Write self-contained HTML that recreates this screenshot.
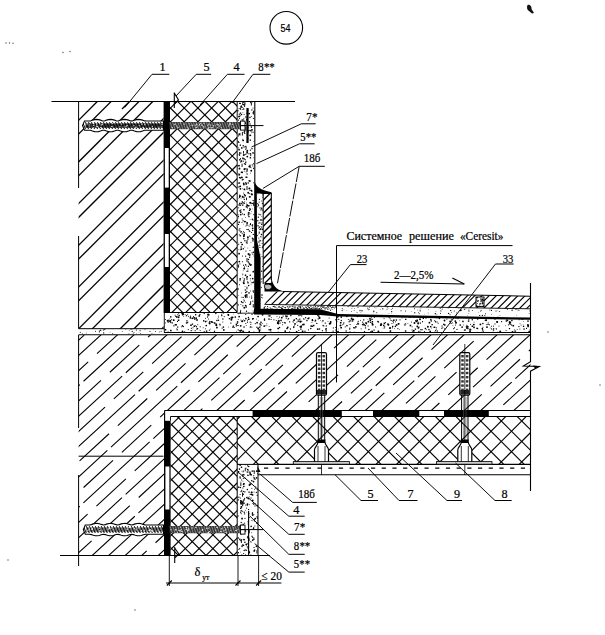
<!DOCTYPE html>
<html><head><meta charset="utf-8"><title>Detail</title>
<style>html,body{margin:0;padding:0;background:#fff;width:605px;height:635px;overflow:hidden;font-family:"Liberation Serif",serif}svg{display:block}text{stroke:#000;stroke-width:0.22px}</style>
</head><body><svg width="605" height="635" viewBox="0 0 605 635"><defs><clipPath id="c1"><polygon points="78.6,101.5 163.6,101.5 163.6,328.7 78.6,328.7"/></clipPath><clipPath id="c2"><polygon points="78.6,101.5 163.6,101.5 163.6,328.7 78.6,328.7"/></clipPath><clipPath id="c3"><polygon points="78.6,329.2 164.0,329.2 164.0,334.0 78.6,334.0"/></clipPath><clipPath id="c4"><polygon points="169.5,101.5 237.0,101.5 237.0,312.5 169.5,312.5"/></clipPath><clipPath id="c5"><polygon points="169.5,101.5 237.0,101.5 237.0,312.5 169.5,312.5"/></clipPath><clipPath id="c6"><polygon points="237.5,101.5 254.0,101.5 254.0,313.5 237.5,313.5"/></clipPath><clipPath id="c7"><polygon points="164.3,312.5 254.0,313.8 530.0,319.5 530.0,332.6 164.3,332.6"/></clipPath><clipPath id="c8"><polygon points="263.0,304.4 530.0,308.8 530.0,317.6 263.0,310.0"/></clipPath><clipPath id="c9"><polygon points="271.0,291.3 530.0,296.2 530.0,308.8 264.5,304.4"/></clipPath><clipPath id="c10"><polygon points="263.0,305.4 335.0,306.2 335.0,309.6 263.0,309.0"/></clipPath><clipPath id="c11"><polygon points="257.0,193.0 263.2,193.0 263.2,304.0 260.6,304.0 260.6,258.0 257.0,240.0"/></clipPath><clipPath id="c12"><polygon points="263.2,193.0 271.3,193.0 271.3,283.0 263.2,283.0"/></clipPath><clipPath id="c13"><polygon points="78.6,335.0 530.5,335.0 530.5,410.5 164.6,410.5 164.6,555.5 78.6,555.5"/></clipPath><clipPath id="c14"><polygon points="170.5,416.5 237.2,416.5 237.2,555.5 170.5,555.5"/></clipPath><clipPath id="c15"><polygon points="170.5,416.5 237.2,416.5 237.2,555.5 170.5,555.5"/></clipPath><clipPath id="c16"><polygon points="237.2,416.5 530.5,416.5 530.5,464.4 237.2,464.4"/></clipPath><clipPath id="c17"><polygon points="237.2,416.5 530.5,416.5 530.5,464.4 237.2,464.4"/></clipPath><clipPath id="c18"><polygon points="237.5,464.4 258.0,464.4 258.0,555.2 237.5,555.2"/></clipPath><clipPath id="c19"><polygon points="82.5,125.6 84.5,121.0 86.5,121.0 88.5,121.0 90.5,121.0 92.5,120.1 94.5,119.6 96.5,119.4 98.5,119.6 100.5,120.1 102.5,121.0 104.5,121.0 106.5,120.1 108.5,119.6 110.5,119.4 112.5,119.6 114.5,120.1 116.5,121.0 118.5,121.0 120.5,120.1 122.5,119.6 124.5,119.4 126.5,119.6 128.5,120.1 130.5,120.9 132.5,121.0 134.5,120.1 136.5,119.6 138.5,119.4 140.5,119.6 142.5,120.1 144.5,120.9 146.5,121.0 148.5,121.0 150.5,121.0 152.5,121.0 154.5,121.0 156.5,121.0 158.5,121.0 160.5,121.0 162.5,121.0 163.5,121.0 163.5,130.2 162.5,130.2 160.5,130.2 158.5,130.2 156.5,130.2 154.5,130.2 152.5,130.2 150.5,130.2 148.5,130.2 146.5,130.2 144.5,130.3 142.5,131.1 140.5,131.6 138.5,131.8 136.5,131.6 134.5,131.1 132.5,130.2 130.5,130.3 128.5,131.1 126.5,131.6 124.5,131.8 122.5,131.6 120.5,131.1 118.5,130.2 116.5,130.2 114.5,131.1 112.5,131.6 110.5,131.8 108.5,131.6 106.5,131.1 104.5,130.2 102.5,130.2 100.5,131.1 98.5,131.6 96.5,131.8 94.5,131.6 92.5,131.1 90.5,130.2 88.5,130.2 86.5,130.2 84.5,130.2"/></clipPath><clipPath id="c20"><polygon points="83.3,529.6 85.3,525.0 87.3,525.0 89.3,525.0 91.3,524.6 93.3,523.9 95.3,523.5 97.3,523.4 99.3,523.7 101.3,524.4 103.3,525.0 105.3,524.6 107.3,523.9 109.3,523.5 111.3,523.4 113.3,523.7 115.3,524.4 117.3,525.0 119.3,524.6 121.3,523.9 123.3,523.5 125.3,523.4 127.3,523.7 129.3,524.4 131.3,525.0 133.3,524.6 135.3,523.9 137.3,523.5 139.3,523.4 141.3,523.7 143.3,524.4 145.3,525.0 147.3,525.0 149.3,525.0 151.3,525.0 153.3,525.0 155.3,525.0 157.3,525.0 159.3,525.0 161.3,525.0 163.3,525.0 163.5,525.0 163.5,534.2 163.3,534.2 161.3,534.2 159.3,534.2 157.3,534.2 155.3,534.2 153.3,534.2 151.3,534.2 149.3,534.2 147.3,534.2 145.3,534.2 143.3,534.8 141.3,535.5 139.3,535.8 137.3,535.7 135.3,535.3 133.3,534.6 131.3,534.2 129.3,534.8 127.3,535.5 125.3,535.8 123.3,535.7 121.3,535.3 119.3,534.6 117.3,534.2 115.3,534.8 113.3,535.5 111.3,535.8 109.3,535.7 107.3,535.3 105.3,534.6 103.3,534.2 101.3,534.8 99.3,535.5 97.3,535.8 95.3,535.7 93.3,535.3 91.3,534.6 89.3,534.2 87.3,534.2 85.3,534.2"/></clipPath><clipPath id="c21"><polygon points="476.0,297.0 484.0,297.0 484.0,306.6 476.0,306.6"/></clipPath></defs><rect width="605" height="635" fill="#fff"/><circle cx="286.3" cy="27.8" r="16.3" fill="none" stroke="#000" stroke-width="1.1"/><text x="0" y="31.6" font-family="Liberation Sans, sans-serif" font-size="11.5" text-anchor="middle" transform="translate(285.6 0) scale(0.78 1)">54</text><path d="M527.5,5 C530,4 532,7 531.5,9 L534,13 L532,13.5 L529,11 C527,10 526.5,7 527.5,5Z" fill="#111"/><g clip-path="url(#c1)" stroke="#000" stroke-width="1.3"><line x1="-173.6" y1="330.7" x2="57.6" y2="99.5"/><line x1="-131.9" y1="330.7" x2="99.3" y2="99.5"/><line x1="-90.2" y1="330.7" x2="141.0" y2="99.5"/><line x1="-48.5" y1="330.7" x2="182.7" y2="99.5"/><line x1="-6.8" y1="330.7" x2="224.4" y2="99.5"/><line x1="34.9" y1="330.7" x2="266.1" y2="99.5"/><line x1="76.6" y1="330.7" x2="307.8" y2="99.5"/><line x1="118.3" y1="330.7" x2="349.5" y2="99.5"/><line x1="160.0" y1="330.7" x2="391.2" y2="99.5"/><line x1="201.7" y1="330.7" x2="432.9" y2="99.5"/></g><g clip-path="url(#c2)" stroke="#000" stroke-width="1.3"><line x1="-159.8" y1="330.7" x2="71.4" y2="99.5"/><line x1="-118.1" y1="330.7" x2="113.1" y2="99.5"/><line x1="-76.4" y1="330.7" x2="154.8" y2="99.5"/><line x1="-34.7" y1="330.7" x2="196.5" y2="99.5"/><line x1="7.0" y1="330.7" x2="238.2" y2="99.5"/><line x1="48.7" y1="330.7" x2="279.9" y2="99.5"/><line x1="90.4" y1="330.7" x2="321.6" y2="99.5"/><line x1="132.1" y1="330.7" x2="363.3" y2="99.5"/><line x1="173.8" y1="330.7" x2="405.0" y2="99.5"/></g><line x1="129.5" y1="101.5" x2="122.0" y2="109.0" stroke="#000" stroke-width="1.2" /><line x1="78.6" y1="101.5" x2="78.6" y2="188.0" stroke="#000" stroke-width="1.0" /><line x1="78.6" y1="236.0" x2="78.6" y2="328.7" stroke="#000" stroke-width="1.0" /><line x1="78.6" y1="328.7" x2="164.0" y2="328.7" stroke="#000" stroke-width="1.0" /><g clip-path="url(#c3)" fill="#000"><rect x="98.9" y="331.8" width="0.7" height="0.7"/><rect x="132.0" y="329.5" width="0.5" height="0.5"/><circle cx="100.7" cy="330.3" r="0.70"/><circle cx="150.0" cy="331.5" r="0.56"/><rect x="132.8" y="333.4" width="0.8" height="0.8"/><rect x="135.9" y="329.5" width="1.0" height="1.0"/><circle cx="104.3" cy="329.3" r="0.65"/><rect x="140.0" y="333.4" width="0.9" height="0.9"/><rect x="112.3" y="333.0" width="0.8" height="0.8"/><circle cx="153.7" cy="329.7" r="0.35"/><circle cx="161.1" cy="331.3" r="0.55"/><rect x="121.9" y="331.1" width="0.7" height="0.7"/><rect x="128.5" y="333.5" width="0.9" height="0.9"/><circle cx="151.7" cy="334.0" r="0.57"/><rect x="152.1" y="333.8" width="1.1" height="1.1"/><rect x="139.6" y="330.2" width="1.0" height="1.0"/><rect x="102.9" y="329.5" width="1.0" height="1.0"/><circle cx="86.2" cy="333.0" r="0.46"/><circle cx="103.7" cy="332.9" r="0.65"/><circle cx="131.1" cy="329.4" r="0.59"/><rect x="153.8" y="333.9" width="0.8" height="0.8"/><circle cx="105.0" cy="329.6" r="0.54"/><circle cx="95.5" cy="331.2" r="0.54"/><rect x="82.2" y="333.4" width="0.7" height="0.7"/><rect x="155.2" y="331.0" width="0.8" height="0.8"/><rect x="133.6" y="332.1" width="0.8" height="0.8"/><rect x="158.9" y="331.6" width="0.8" height="0.8"/><rect x="98.9" y="330.6" width="1.1" height="1.1"/><rect x="125.4" y="329.3" width="0.7" height="0.7"/><circle cx="80.3" cy="332.2" r="0.55"/><circle cx="132.2" cy="331.4" r="0.57"/><circle cx="139.0" cy="332.7" r="0.31"/><circle cx="136.3" cy="333.8" r="0.40"/><circle cx="129.2" cy="330.7" r="0.45"/><circle cx="110.1" cy="332.1" r="0.42"/><rect x="144.6" y="329.3" width="0.8" height="0.8"/></g><g clip-path="url(#c4)" stroke="#000" stroke-width="1.15"><line x1="-49.7" y1="314.5" x2="165.3" y2="99.5"/><line x1="-36.0" y1="314.5" x2="179.0" y2="99.5"/><line x1="-22.3" y1="314.5" x2="192.7" y2="99.5"/><line x1="-8.6" y1="314.5" x2="206.4" y2="99.5"/><line x1="5.2" y1="314.5" x2="220.2" y2="99.5"/><line x1="18.9" y1="314.5" x2="233.9" y2="99.5"/><line x1="32.6" y1="314.5" x2="247.6" y2="99.5"/><line x1="46.4" y1="314.5" x2="261.4" y2="99.5"/><line x1="60.1" y1="314.5" x2="275.1" y2="99.5"/><line x1="73.8" y1="314.5" x2="288.8" y2="99.5"/><line x1="87.6" y1="314.5" x2="302.6" y2="99.5"/><line x1="101.3" y1="314.5" x2="316.3" y2="99.5"/><line x1="115.0" y1="314.5" x2="330.0" y2="99.5"/><line x1="128.8" y1="314.5" x2="343.8" y2="99.5"/><line x1="142.5" y1="314.5" x2="357.5" y2="99.5"/><line x1="156.2" y1="314.5" x2="371.2" y2="99.5"/><line x1="169.9" y1="314.5" x2="384.9" y2="99.5"/><line x1="183.7" y1="314.5" x2="398.7" y2="99.5"/><line x1="197.4" y1="314.5" x2="412.4" y2="99.5"/><line x1="211.1" y1="314.5" x2="426.1" y2="99.5"/><line x1="224.9" y1="314.5" x2="439.9" y2="99.5"/><line x1="238.6" y1="314.5" x2="453.6" y2="99.5"/></g><g clip-path="url(#c5)" stroke="#000" stroke-width="1.15"><line x1="171.0" y1="314.5" x2="-44.0" y2="99.5"/><line x1="184.7" y1="314.5" x2="-30.3" y2="99.5"/><line x1="198.5" y1="314.5" x2="-16.5" y2="99.5"/><line x1="212.2" y1="314.5" x2="-2.8" y2="99.5"/><line x1="225.9" y1="314.5" x2="10.9" y2="99.5"/><line x1="239.7" y1="314.5" x2="24.7" y2="99.5"/><line x1="253.4" y1="314.5" x2="38.4" y2="99.5"/><line x1="267.1" y1="314.5" x2="52.1" y2="99.5"/><line x1="280.8" y1="314.5" x2="65.8" y2="99.5"/><line x1="294.6" y1="314.5" x2="79.6" y2="99.5"/><line x1="308.3" y1="314.5" x2="93.3" y2="99.5"/><line x1="322.0" y1="314.5" x2="107.0" y2="99.5"/><line x1="335.8" y1="314.5" x2="120.8" y2="99.5"/><line x1="349.5" y1="314.5" x2="134.5" y2="99.5"/><line x1="363.2" y1="314.5" x2="148.2" y2="99.5"/><line x1="376.9" y1="314.5" x2="161.9" y2="99.5"/><line x1="390.7" y1="314.5" x2="175.7" y2="99.5"/><line x1="404.4" y1="314.5" x2="189.4" y2="99.5"/><line x1="418.1" y1="314.5" x2="203.1" y2="99.5"/><line x1="431.9" y1="314.5" x2="216.9" y2="99.5"/><line x1="445.6" y1="314.5" x2="230.6" y2="99.5"/><line x1="459.3" y1="314.5" x2="244.3" y2="99.5"/></g><g clip-path="url(#c6)" fill="#000"><rect x="247.8" y="258.8" width="1.3" height="1.3"/><circle cx="249.7" cy="297.0" r="0.42"/><circle cx="253.1" cy="239.1" r="0.90"/><rect x="245.2" y="153.8" width="1.1" height="1.1"/><rect x="237.7" y="147.4" width="0.9" height="0.9"/><circle cx="250.1" cy="135.3" r="0.84"/><rect x="247.7" y="128.4" width="0.6" height="0.6"/><rect x="241.0" y="147.2" width="1.5" height="1.5"/><rect x="242.3" y="305.3" width="1.1" height="1.1"/><rect x="240.9" y="301.0" width="1.2" height="1.2"/><circle cx="252.2" cy="164.8" r="0.60"/><rect x="239.9" y="115.3" width="0.9" height="0.9"/><circle cx="237.6" cy="245.2" r="0.59"/><circle cx="251.0" cy="203.4" r="0.57"/><circle cx="249.1" cy="113.6" r="0.94"/><rect x="249.9" y="280.6" width="0.7" height="0.7"/><circle cx="243.5" cy="224.1" r="0.40"/><rect x="240.5" y="304.0" width="0.8" height="0.8"/><circle cx="252.8" cy="301.2" r="0.59"/><rect x="246.2" y="265.9" width="0.7" height="0.7"/><rect x="250.7" y="283.8" width="0.7" height="0.7"/><rect x="239.0" y="173.7" width="1.2" height="1.2"/><circle cx="243.1" cy="297.4" r="0.70"/><circle cx="242.7" cy="139.1" r="0.44"/><circle cx="248.9" cy="312.8" r="0.49"/><circle cx="253.8" cy="214.6" r="0.62"/><circle cx="247.3" cy="276.7" r="0.65"/><circle cx="238.4" cy="295.7" r="0.42"/><rect x="251.3" y="129.2" width="1.3" height="1.3"/><circle cx="247.9" cy="268.6" r="0.46"/><circle cx="240.0" cy="280.6" r="0.56"/><circle cx="254.0" cy="282.2" r="0.94"/><circle cx="245.6" cy="256.2" r="0.66"/><rect x="244.2" y="132.6" width="1.0" height="1.0"/><circle cx="253.3" cy="234.4" r="0.67"/><rect x="239.0" y="159.2" width="1.3" height="1.3"/><rect x="243.5" y="268.1" width="1.3" height="1.3"/><rect x="248.5" y="262.5" width="1.0" height="1.0"/><rect x="242.1" y="204.5" width="1.3" height="1.3"/><rect x="242.3" y="302.0" width="1.2" height="1.2"/><rect x="237.7" y="217.5" width="0.9" height="0.9"/><rect x="245.1" y="274.6" width="1.2" height="1.2"/><rect x="243.2" y="238.0" width="1.3" height="1.3"/><rect x="243.3" y="280.2" width="1.4" height="1.4"/><rect x="253.6" y="304.3" width="1.1" height="1.1"/><circle cx="240.2" cy="278.9" r="0.92"/><circle cx="248.9" cy="254.1" r="0.80"/><circle cx="250.4" cy="224.6" r="0.77"/><rect x="247.8" y="265.7" width="1.2" height="1.2"/><rect x="238.0" y="135.4" width="1.0" height="1.0"/><circle cx="241.1" cy="246.9" r="0.75"/><circle cx="245.3" cy="149.5" r="0.43"/><circle cx="242.7" cy="140.0" r="0.51"/><rect x="245.2" y="182.1" width="1.2" height="1.2"/><circle cx="241.4" cy="293.0" r="0.40"/><rect x="242.1" y="188.4" width="0.7" height="0.7"/><circle cx="243.7" cy="109.1" r="0.74"/><rect x="246.5" y="173.4" width="1.2" height="1.2"/><rect x="251.0" y="190.3" width="1.4" height="1.4"/><rect x="243.6" y="131.6" width="1.2" height="1.2"/><circle cx="253.3" cy="306.7" r="0.73"/><rect x="252.2" y="101.7" width="0.7" height="0.7"/><rect x="247.7" y="131.3" width="1.2" height="1.2"/><circle cx="243.7" cy="193.0" r="0.52"/><rect x="253.5" y="182.0" width="1.5" height="1.5"/><circle cx="247.3" cy="156.6" r="0.94"/><circle cx="244.4" cy="169.2" r="0.94"/><rect x="242.2" y="202.6" width="0.7" height="0.7"/><rect x="244.8" y="163.6" width="1.3" height="1.3"/><rect x="237.7" y="214.4" width="0.9" height="0.9"/><circle cx="250.4" cy="153.6" r="0.55"/><circle cx="253.8" cy="163.7" r="0.73"/><circle cx="248.1" cy="229.5" r="0.81"/><circle cx="250.0" cy="165.2" r="0.69"/><circle cx="242.4" cy="213.8" r="0.66"/><circle cx="249.8" cy="226.8" r="0.42"/><rect x="245.0" y="295.8" width="1.4" height="1.4"/><rect x="237.7" y="266.5" width="1.0" height="1.0"/><rect x="249.2" y="235.5" width="1.1" height="1.1"/><circle cx="243.9" cy="184.6" r="0.87"/><rect x="242.4" y="277.5" width="0.7" height="0.7"/><rect x="249.0" y="193.3" width="0.9" height="0.9"/><rect x="252.5" y="131.7" width="1.1" height="1.1"/><rect x="245.7" y="171.6" width="0.8" height="0.8"/><rect x="250.9" y="116.0" width="0.8" height="0.8"/><rect x="250.6" y="242.2" width="0.7" height="0.7"/><circle cx="253.6" cy="313.1" r="0.79"/><rect x="251.4" y="148.0" width="1.2" height="1.2"/><rect x="249.3" y="130.0" width="0.9" height="0.9"/><circle cx="240.0" cy="230.9" r="0.63"/><circle cx="247.8" cy="110.7" r="0.46"/><rect x="238.7" y="113.7" width="1.1" height="1.1"/><circle cx="252.0" cy="130.0" r="0.64"/><circle cx="247.4" cy="205.3" r="0.92"/><rect x="238.4" y="249.3" width="0.8" height="0.8"/><rect x="245.8" y="294.5" width="1.1" height="1.1"/><rect x="241.8" y="218.5" width="0.9" height="0.9"/><circle cx="246.0" cy="129.9" r="0.53"/><rect x="249.7" y="139.5" width="1.3" height="1.3"/><circle cx="238.9" cy="243.1" r="0.45"/><circle cx="247.3" cy="152.1" r="0.88"/><rect x="242.8" y="270.4" width="0.7" height="0.7"/><rect x="238.4" y="133.5" width="1.5" height="1.5"/><rect x="241.2" y="126.1" width="1.5" height="1.5"/><circle cx="251.0" cy="131.1" r="0.74"/><circle cx="241.4" cy="172.2" r="0.74"/><rect x="243.9" y="130.4" width="1.4" height="1.4"/><rect x="250.8" y="193.4" width="1.4" height="1.4"/><circle cx="247.3" cy="223.0" r="0.81"/><circle cx="239.1" cy="108.5" r="0.51"/><circle cx="252.2" cy="203.5" r="0.82"/><circle cx="245.3" cy="290.1" r="0.74"/><circle cx="245.2" cy="122.6" r="0.49"/><circle cx="243.7" cy="183.3" r="0.88"/><circle cx="241.7" cy="160.3" r="0.49"/><rect x="241.4" y="203.7" width="0.7" height="0.7"/><rect x="243.6" y="300.3" width="1.2" height="1.2"/><rect x="245.3" y="301.9" width="0.7" height="0.7"/><circle cx="242.3" cy="244.5" r="0.80"/><circle cx="240.8" cy="106.8" r="0.53"/><circle cx="244.1" cy="307.9" r="0.60"/><rect x="245.2" y="161.5" width="1.3" height="1.3"/><rect x="240.2" y="152.5" width="1.2" height="1.2"/><circle cx="248.2" cy="192.8" r="0.94"/><circle cx="238.5" cy="266.7" r="0.63"/><circle cx="246.5" cy="311.3" r="0.69"/><circle cx="239.0" cy="116.6" r="0.89"/><circle cx="252.9" cy="112.9" r="0.53"/><circle cx="244.1" cy="114.2" r="0.54"/><rect x="242.5" y="112.4" width="0.7" height="0.7"/><rect x="240.5" y="209.3" width="1.0" height="1.0"/><rect x="238.9" y="168.0" width="0.7" height="0.7"/><circle cx="252.7" cy="228.3" r="0.87"/><rect x="237.8" y="215.9" width="1.1" height="1.1"/><rect x="243.7" y="234.0" width="1.3" height="1.3"/><circle cx="242.6" cy="196.7" r="0.85"/><rect x="239.4" y="167.6" width="0.7" height="0.7"/><circle cx="251.0" cy="167.8" r="0.47"/><rect x="241.5" y="119.4" width="1.0" height="1.0"/><circle cx="241.5" cy="114.5" r="0.79"/><circle cx="240.8" cy="162.1" r="0.61"/><rect x="244.4" y="168.1" width="1.3" height="1.3"/><rect x="252.3" y="240.2" width="1.3" height="1.3"/><rect x="244.8" y="274.7" width="1.2" height="1.2"/><rect x="249.5" y="250.1" width="0.9" height="0.9"/><circle cx="243.8" cy="129.1" r="0.44"/><circle cx="241.8" cy="244.8" r="0.56"/><circle cx="250.1" cy="219.6" r="0.42"/><rect x="239.6" y="177.2" width="1.4" height="1.4"/><circle cx="247.6" cy="150.5" r="0.64"/><rect x="243.0" y="104.1" width="1.2" height="1.2"/><circle cx="249.5" cy="121.7" r="0.69"/><rect x="249.2" y="196.1" width="1.5" height="1.5"/><circle cx="239.5" cy="168.7" r="0.90"/><rect x="244.7" y="195.1" width="1.3" height="1.3"/><circle cx="246.3" cy="307.1" r="0.73"/><rect x="250.9" y="190.4" width="0.7" height="0.7"/><rect x="238.0" y="223.8" width="1.1" height="1.1"/><circle cx="244.0" cy="147.2" r="0.55"/><circle cx="246.8" cy="177.2" r="0.81"/><rect x="243.3" y="154.1" width="1.5" height="1.5"/><circle cx="251.5" cy="232.5" r="0.62"/><circle cx="251.2" cy="205.4" r="0.42"/><circle cx="239.1" cy="253.7" r="0.90"/><rect x="250.7" y="170.2" width="1.2" height="1.2"/><circle cx="247.8" cy="271.2" r="0.61"/><circle cx="245.9" cy="225.9" r="0.50"/><circle cx="242.7" cy="107.2" r="0.57"/><rect x="245.4" y="250.6" width="1.0" height="1.0"/><rect x="251.0" y="297.4" width="1.2" height="1.2"/><rect x="246.4" y="270.8" width="1.0" height="1.0"/><circle cx="248.7" cy="212.2" r="0.56"/><rect x="238.9" y="176.9" width="1.2" height="1.2"/><circle cx="249.3" cy="166.5" r="0.91"/><rect x="249.3" y="116.8" width="1.3" height="1.3"/><rect x="253.3" y="291.7" width="1.2" height="1.2"/><rect x="249.7" y="231.0" width="0.8" height="0.8"/><rect x="252.3" y="152.2" width="1.5" height="1.5"/><circle cx="244.0" cy="102.1" r="0.61"/><rect x="248.3" y="292.2" width="1.4" height="1.4"/><rect x="243.9" y="124.6" width="1.2" height="1.2"/><circle cx="249.3" cy="180.8" r="0.89"/><rect x="242.5" y="158.2" width="1.2" height="1.2"/><circle cx="240.3" cy="235.7" r="0.82"/><rect x="238.5" y="221.5" width="1.4" height="1.4"/><rect x="249.5" y="189.9" width="1.0" height="1.0"/><rect x="252.4" y="165.6" width="0.9" height="0.9"/><circle cx="253.4" cy="141.2" r="0.42"/><circle cx="246.8" cy="229.4" r="0.50"/><rect x="247.3" y="238.5" width="1.2" height="1.2"/><rect x="238.5" y="204.3" width="1.4" height="1.4"/><rect x="242.8" y="281.8" width="1.2" height="1.2"/><circle cx="241.3" cy="249.2" r="0.86"/><circle cx="239.2" cy="142.5" r="0.49"/><rect x="240.0" y="232.0" width="0.7" height="0.7"/><rect x="249.6" y="274.6" width="1.3" height="1.3"/><rect x="252.7" y="304.4" width="1.2" height="1.2"/><circle cx="239.2" cy="123.3" r="0.44"/><rect x="243.7" y="198.7" width="1.2" height="1.2"/><circle cx="238.9" cy="187.0" r="0.70"/><rect x="239.4" y="228.1" width="1.0" height="1.0"/><circle cx="245.7" cy="305.6" r="0.92"/><circle cx="250.0" cy="254.4" r="0.56"/><rect x="245.4" y="176.6" width="1.3" height="1.3"/><rect x="243.8" y="163.1" width="1.1" height="1.1"/><circle cx="250.5" cy="223.5" r="0.56"/><circle cx="251.5" cy="211.6" r="0.43"/><circle cx="241.4" cy="242.7" r="0.44"/><rect x="239.1" y="202.7" width="1.5" height="1.5"/><circle cx="243.9" cy="299.5" r="0.45"/><circle cx="250.9" cy="102.6" r="0.82"/><circle cx="237.8" cy="154.7" r="0.65"/><rect x="246.0" y="112.8" width="0.8" height="0.8"/><circle cx="244.8" cy="201.5" r="0.45"/><circle cx="253.3" cy="247.2" r="0.68"/><rect x="244.0" y="266.5" width="1.0" height="1.0"/><circle cx="252.4" cy="238.3" r="0.75"/><rect x="237.9" y="264.6" width="1.0" height="1.0"/><rect x="251.1" y="295.6" width="1.0" height="1.0"/><rect x="250.0" y="290.6" width="0.8" height="0.8"/><circle cx="244.5" cy="307.6" r="0.95"/><circle cx="244.5" cy="158.9" r="0.66"/><circle cx="248.5" cy="127.6" r="0.49"/><rect x="238.7" y="182.3" width="1.4" height="1.4"/><rect x="240.7" y="105.4" width="1.4" height="1.4"/><rect x="247.4" y="130.4" width="0.8" height="0.8"/><circle cx="253.0" cy="108.1" r="0.50"/><rect x="241.9" y="261.3" width="1.0" height="1.0"/><rect x="240.0" y="211.4" width="1.5" height="1.5"/><circle cx="239.0" cy="125.0" r="0.75"/><rect x="243.6" y="202.8" width="1.2" height="1.2"/><rect x="241.5" y="222.1" width="0.9" height="0.9"/><rect x="249.6" y="129.8" width="1.1" height="1.1"/><rect x="237.6" y="265.0" width="1.0" height="1.0"/><rect x="247.6" y="269.6" width="0.7" height="0.7"/><circle cx="238.1" cy="183.2" r="0.59"/><rect x="242.4" y="196.9" width="1.2" height="1.2"/><rect x="243.6" y="213.9" width="1.3" height="1.3"/><circle cx="253.2" cy="311.0" r="0.57"/><rect x="252.9" y="117.9" width="1.0" height="1.0"/><circle cx="246.2" cy="183.9" r="0.91"/><circle cx="246.6" cy="277.4" r="0.48"/><circle cx="245.7" cy="221.5" r="0.51"/><circle cx="238.5" cy="120.1" r="0.59"/><rect x="253.5" y="157.3" width="0.9" height="0.9"/><rect x="249.7" y="157.1" width="1.4" height="1.4"/><circle cx="243.9" cy="234.8" r="0.54"/><circle cx="252.0" cy="194.5" r="0.89"/><rect x="239.8" y="112.5" width="1.3" height="1.3"/><circle cx="237.7" cy="110.7" r="0.85"/><circle cx="251.9" cy="109.9" r="0.72"/><circle cx="249.4" cy="231.1" r="0.74"/><rect x="253.2" y="125.0" width="0.7" height="0.7"/><rect x="239.0" y="115.7" width="1.0" height="1.0"/><rect x="252.2" y="254.3" width="0.7" height="0.7"/><circle cx="251.4" cy="127.1" r="0.81"/><rect x="242.4" y="101.8" width="1.3" height="1.3"/><circle cx="252.4" cy="200.2" r="0.49"/><circle cx="241.8" cy="302.2" r="0.51"/><rect x="243.3" y="118.3" width="1.0" height="1.0"/><circle cx="248.2" cy="138.6" r="0.48"/><rect x="248.8" y="196.3" width="1.1" height="1.1"/><rect x="239.9" y="158.3" width="1.1" height="1.1"/><circle cx="252.4" cy="219.2" r="0.76"/><circle cx="250.4" cy="278.7" r="0.56"/><circle cx="241.8" cy="177.3" r="0.89"/><circle cx="247.9" cy="237.3" r="0.93"/><rect x="250.2" y="172.8" width="0.7" height="0.7"/><rect x="251.4" y="225.0" width="0.7" height="0.7"/><circle cx="243.8" cy="236.4" r="0.80"/><circle cx="244.2" cy="171.3" r="0.45"/><circle cx="249.3" cy="188.5" r="0.88"/><rect x="242.5" y="139.7" width="1.5" height="1.5"/><circle cx="252.3" cy="208.9" r="0.46"/><circle cx="241.2" cy="107.2" r="0.71"/><rect x="239.3" y="210.0" width="1.5" height="1.5"/><circle cx="245.2" cy="123.3" r="0.82"/><rect x="246.4" y="119.2" width="1.5" height="1.5"/><rect x="244.7" y="159.2" width="1.1" height="1.1"/><rect x="244.6" y="145.9" width="1.1" height="1.1"/><circle cx="243.8" cy="235.9" r="0.91"/><circle cx="250.9" cy="213.7" r="0.48"/><rect x="253.0" y="200.3" width="1.0" height="1.0"/><rect x="247.0" y="207.5" width="0.9" height="0.9"/><rect x="241.7" y="201.3" width="1.3" height="1.3"/><rect x="239.7" y="144.5" width="1.3" height="1.3"/><circle cx="239.2" cy="313.0" r="0.47"/><rect x="239.0" y="196.1" width="1.2" height="1.2"/><rect x="240.2" y="249.6" width="0.7" height="0.7"/><rect x="241.7" y="177.0" width="0.7" height="0.7"/><rect x="239.5" y="263.5" width="0.9" height="0.9"/><rect x="248.0" y="205.1" width="1.4" height="1.4"/><circle cx="242.2" cy="172.3" r="0.88"/><circle cx="244.4" cy="189.4" r="0.94"/><circle cx="248.3" cy="262.0" r="0.80"/><rect x="253.1" y="167.7" width="1.4" height="1.4"/><circle cx="244.4" cy="279.1" r="0.77"/><rect x="249.6" y="208.6" width="1.3" height="1.3"/><circle cx="250.6" cy="135.3" r="0.67"/><circle cx="250.5" cy="265.1" r="0.86"/><circle cx="246.3" cy="203.0" r="0.47"/><rect x="253.6" y="282.3" width="0.8" height="0.8"/><circle cx="248.2" cy="183.1" r="0.75"/><rect x="242.0" y="103.6" width="1.2" height="1.2"/><circle cx="249.8" cy="208.3" r="0.64"/><rect x="249.6" y="180.5" width="1.2" height="1.2"/><circle cx="244.8" cy="247.0" r="0.43"/><circle cx="251.4" cy="132.8" r="0.43"/><circle cx="250.1" cy="124.0" r="0.65"/><circle cx="250.7" cy="202.5" r="0.69"/><rect x="250.6" y="264.2" width="1.2" height="1.2"/><rect x="247.6" y="253.3" width="1.4" height="1.4"/><circle cx="237.8" cy="289.0" r="0.94"/><circle cx="238.6" cy="173.6" r="0.46"/><circle cx="239.0" cy="148.2" r="0.40"/><circle cx="242.5" cy="256.0" r="0.61"/><circle cx="253.2" cy="291.1" r="0.78"/><circle cx="244.1" cy="197.1" r="0.62"/><rect x="245.0" y="264.2" width="1.3" height="1.3"/><rect x="248.8" y="263.2" width="1.4" height="1.4"/><rect x="250.6" y="189.7" width="1.2" height="1.2"/><circle cx="252.1" cy="252.8" r="0.64"/><rect x="242.9" y="154.6" width="1.2" height="1.2"/><circle cx="240.7" cy="214.6" r="0.86"/><circle cx="239.1" cy="229.9" r="0.60"/><circle cx="242.3" cy="103.0" r="0.48"/><rect x="239.2" y="102.8" width="1.1" height="1.1"/><circle cx="251.3" cy="170.6" r="0.91"/><rect x="240.0" y="102.9" width="0.7" height="0.7"/><circle cx="250.0" cy="202.8" r="0.84"/><circle cx="252.7" cy="230.4" r="0.70"/><circle cx="244.5" cy="194.8" r="0.85"/><rect x="242.4" y="274.6" width="0.7" height="0.7"/><circle cx="241.1" cy="242.5" r="0.73"/><rect x="249.5" y="187.8" width="0.9" height="0.9"/><circle cx="250.3" cy="167.1" r="0.77"/><rect x="246.1" y="119.0" width="1.2" height="1.2"/><circle cx="248.0" cy="110.1" r="0.68"/><circle cx="244.8" cy="133.5" r="0.55"/><circle cx="238.7" cy="244.5" r="0.53"/><circle cx="239.0" cy="165.7" r="0.91"/><circle cx="239.1" cy="174.8" r="0.92"/><circle cx="243.2" cy="145.8" r="0.77"/><rect x="239.1" y="284.3" width="0.9" height="0.9"/><circle cx="245.0" cy="286.3" r="0.43"/><rect x="242.2" y="157.5" width="1.4" height="1.4"/><rect x="243.2" y="209.0" width="1.4" height="1.4"/><circle cx="244.9" cy="240.8" r="0.74"/><rect x="244.5" y="129.4" width="1.0" height="1.0"/><rect x="242.5" y="178.9" width="1.2" height="1.2"/><circle cx="240.4" cy="196.0" r="0.80"/><circle cx="239.3" cy="261.6" r="0.90"/><rect x="238.8" y="234.3" width="0.9" height="0.9"/><circle cx="238.1" cy="198.3" r="0.49"/><rect x="248.9" y="209.6" width="1.4" height="1.4"/><circle cx="247.7" cy="281.2" r="0.50"/><rect x="242.8" y="234.0" width="0.7" height="0.7"/><rect x="243.6" y="267.7" width="1.5" height="1.5"/><circle cx="243.9" cy="283.2" r="0.95"/><circle cx="249.8" cy="255.7" r="0.65"/><circle cx="240.4" cy="188.8" r="0.91"/><rect x="241.7" y="232.8" width="1.0" height="1.0"/><rect x="245.0" y="162.2" width="0.7" height="0.7"/><rect x="248.4" y="153.2" width="1.1" height="1.1"/><circle cx="245.8" cy="292.5" r="0.83"/><rect x="243.1" y="231.2" width="0.8" height="0.8"/><rect x="238.2" y="207.4" width="0.9" height="0.9"/><rect x="238.3" y="149.0" width="1.5" height="1.5"/><circle cx="241.1" cy="198.2" r="0.42"/><circle cx="240.7" cy="310.2" r="0.57"/><rect x="238.6" y="124.8" width="1.5" height="1.5"/><circle cx="252.7" cy="278.7" r="0.83"/><circle cx="240.3" cy="158.7" r="0.44"/><circle cx="249.4" cy="205.6" r="0.41"/><rect x="251.5" y="281.9" width="1.3" height="1.3"/><rect x="252.5" y="219.6" width="1.0" height="1.0"/><circle cx="242.2" cy="109.2" r="0.54"/><circle cx="239.5" cy="118.6" r="0.54"/><rect x="253.3" y="204.7" width="1.4" height="1.4"/><circle cx="247.3" cy="169.8" r="0.62"/><circle cx="248.0" cy="282.8" r="0.83"/><circle cx="240.0" cy="103.4" r="0.72"/><circle cx="237.6" cy="165.5" r="0.53"/><rect x="248.5" y="225.4" width="0.9" height="0.9"/><rect x="240.9" y="296.8" width="0.7" height="0.7"/><rect x="249.1" y="256.8" width="1.1" height="1.1"/><circle cx="247.9" cy="248.0" r="0.44"/><rect x="245.2" y="217.1" width="0.7" height="0.7"/><rect x="243.2" y="202.2" width="1.1" height="1.1"/><rect x="242.5" y="220.2" width="1.2" height="1.2"/><rect x="242.7" y="160.7" width="1.1" height="1.1"/><rect x="248.1" y="129.9" width="1.0" height="1.0"/><circle cx="240.7" cy="123.2" r="0.91"/><circle cx="245.7" cy="164.0" r="0.42"/><circle cx="240.2" cy="186.3" r="0.90"/><circle cx="243.3" cy="248.8" r="0.74"/><circle cx="241.3" cy="161.1" r="0.89"/><circle cx="241.7" cy="203.3" r="0.67"/><rect x="248.5" y="254.3" width="1.1" height="1.1"/><circle cx="250.2" cy="304.2" r="0.74"/><rect x="245.8" y="241.9" width="0.9" height="0.9"/><rect x="243.6" y="232.2" width="1.2" height="1.2"/><rect x="252.8" y="251.6" width="1.3" height="1.3"/><circle cx="241.3" cy="231.7" r="0.74"/><rect x="249.9" y="149.6" width="1.1" height="1.1"/><rect x="249.4" y="263.7" width="1.1" height="1.1"/><circle cx="244.8" cy="221.6" r="0.95"/><rect x="249.3" y="304.2" width="0.7" height="0.7"/><rect x="248.3" y="215.9" width="1.3" height="1.3"/><rect x="239.9" y="204.6" width="1.2" height="1.2"/><circle cx="253.3" cy="271.7" r="0.86"/><rect x="244.5" y="295.1" width="1.5" height="1.5"/><rect x="243.0" y="264.7" width="1.1" height="1.1"/><rect x="248.0" y="284.9" width="1.3" height="1.3"/><rect x="245.6" y="206.1" width="1.2" height="1.2"/><circle cx="238.3" cy="304.9" r="0.58"/><circle cx="238.2" cy="141.9" r="0.91"/><rect x="242.4" y="273.6" width="0.9" height="0.9"/><circle cx="246.9" cy="291.5" r="0.66"/><rect x="241.8" y="178.6" width="0.9" height="2.0"/><rect x="239.5" y="133.0" width="0.9" height="2.6"/><rect x="250.2" y="301.2" width="0.9" height="2.7"/><rect x="241.6" y="163.7" width="0.9" height="3.3"/><rect x="245.4" y="126.4" width="0.9" height="3.0"/><rect x="241.9" y="132.0" width="0.9" height="3.6"/><rect x="239.2" y="194.6" width="0.9" height="3.5"/><rect x="246.5" y="286.7" width="0.9" height="2.6"/><rect x="253.1" y="110.7" width="0.9" height="3.8"/><rect x="244.5" y="102.2" width="0.9" height="2.5"/><rect x="253.8" y="253.4" width="0.9" height="3.5"/><rect x="250.9" y="102.9" width="0.9" height="2.6"/><rect x="245.2" y="294.3" width="0.9" height="3.8"/><rect x="240.0" y="310.8" width="0.9" height="3.1"/><rect x="242.5" y="119.0" width="0.9" height="2.9"/><rect x="246.1" y="197.6" width="0.9" height="2.6"/><rect x="253.1" y="202.3" width="0.9" height="2.6"/><rect x="250.3" y="153.3" width="0.9" height="2.8"/><rect x="239.2" y="152.0" width="0.9" height="4.0"/><rect x="247.8" y="212.5" width="0.9" height="3.3"/><rect x="248.6" y="212.0" width="0.9" height="2.7"/><rect x="239.9" y="107.7" width="0.9" height="2.2"/><rect x="244.2" y="103.7" width="0.9" height="3.3"/><rect x="243.1" y="151.0" width="0.9" height="2.6"/><rect x="245.6" y="145.9" width="0.9" height="3.7"/><rect x="245.5" y="116.0" width="0.9" height="2.2"/><rect x="252.2" y="224.1" width="0.9" height="2.6"/></g><line x1="237.2" y1="101.5" x2="237.2" y2="312.5" stroke="#000" stroke-width="0.9" /><line x1="247.0" y1="150.0" x2="247.0" y2="312.0" stroke="#000" stroke-width="0.9" stroke-dasharray="4 14"/><line x1="254.8" y1="101.5" x2="254.8" y2="186.0" stroke="#000" stroke-width="1.1" /><rect x="163.6" y="101.5" width="6.4" height="211.5" fill="#000" /><rect x="164.9" y="148.0" width="3.8" height="39.6" fill="#fff" /><rect x="164.9" y="234.0" width="3.8" height="33.0" fill="#fff" /><line x1="51.5" y1="101.5" x2="295.0" y2="101.5" stroke="#000" stroke-width="1.0" /><g clip-path="url(#c7)" fill="#000"><circle cx="329.7" cy="323.8" r="0.95"/><rect x="350.0" y="324.3" width="0.8" height="0.8"/><circle cx="394.6" cy="328.4" r="0.46"/><circle cx="197.5" cy="328.8" r="0.82"/><rect x="523.5" y="331.9" width="1.3" height="1.3"/><circle cx="221.9" cy="312.8" r="0.72"/><circle cx="233.9" cy="317.4" r="0.42"/><rect x="325.4" y="329.4" width="1.1" height="1.1"/><circle cx="347.1" cy="325.8" r="0.67"/><rect x="529.1" y="332.5" width="1.4" height="1.4"/><circle cx="279.6" cy="317.1" r="0.57"/><circle cx="444.5" cy="320.5" r="0.91"/><circle cx="514.7" cy="329.5" r="0.40"/><circle cx="497.2" cy="321.9" r="0.99"/><circle cx="191.0" cy="325.2" r="0.87"/><rect x="196.2" y="319.2" width="1.6" height="1.6"/><circle cx="207.4" cy="317.5" r="0.46"/><circle cx="455.8" cy="316.1" r="0.74"/><rect x="234.0" y="327.2" width="0.8" height="0.8"/><circle cx="206.9" cy="321.0" r="0.53"/><rect x="519.4" y="328.6" width="0.9" height="0.9"/><rect x="241.4" y="320.4" width="1.5" height="1.5"/><circle cx="201.0" cy="332.4" r="0.53"/><circle cx="446.9" cy="319.1" r="0.58"/><rect x="197.3" y="324.2" width="0.9" height="0.9"/><circle cx="300.2" cy="321.6" r="0.98"/><circle cx="374.4" cy="329.9" r="0.51"/><circle cx="496.5" cy="328.9" r="0.55"/><rect x="434.7" y="331.4" width="0.8" height="0.8"/><circle cx="486.9" cy="324.6" r="0.65"/><rect x="178.5" y="331.8" width="0.9" height="0.9"/><circle cx="258.3" cy="329.1" r="0.76"/><circle cx="228.5" cy="327.0" r="0.44"/><circle cx="368.9" cy="329.6" r="0.77"/><circle cx="499.8" cy="316.6" r="0.41"/><circle cx="327.3" cy="313.7" r="0.51"/><rect x="373.5" y="315.1" width="1.0" height="1.0"/><rect x="522.9" y="325.7" width="1.3" height="1.3"/><rect x="215.6" y="313.2" width="0.7" height="0.7"/><rect x="420.6" y="331.9" width="0.7" height="0.7"/><rect x="340.7" y="327.2" width="0.9" height="0.9"/><rect x="191.8" y="323.5" width="1.3" height="1.3"/><rect x="433.9" y="326.6" width="1.4" height="1.4"/><rect x="293.0" y="326.3" width="1.5" height="1.5"/><rect x="316.9" y="328.4" width="1.5" height="1.5"/><rect x="392.8" y="320.2" width="1.2" height="1.2"/><rect x="193.6" y="325.4" width="1.6" height="1.6"/><rect x="430.6" y="320.3" width="1.3" height="1.3"/><rect x="325.4" y="329.4" width="0.7" height="0.7"/><circle cx="175.2" cy="324.6" r="0.69"/><rect x="419.7" y="322.5" width="1.2" height="1.2"/><rect x="257.9" y="312.7" width="0.9" height="0.9"/><rect x="238.4" y="315.9" width="1.5" height="1.5"/><rect x="325.9" y="330.4" width="1.0" height="1.0"/><rect x="236.9" y="321.2" width="1.4" height="1.4"/><circle cx="486.2" cy="320.2" r="0.75"/><rect x="214.1" y="322.5" width="1.4" height="1.4"/><circle cx="424.4" cy="331.6" r="0.57"/><circle cx="329.1" cy="318.0" r="0.53"/><rect x="393.1" y="322.4" width="0.9" height="0.9"/><circle cx="523.4" cy="321.6" r="0.44"/><rect x="483.5" y="313.3" width="1.3" height="1.3"/><circle cx="277.3" cy="328.4" r="0.41"/><circle cx="330.6" cy="313.0" r="0.90"/><circle cx="215.8" cy="313.4" r="0.78"/><rect x="394.7" y="325.7" width="1.4" height="1.4"/><circle cx="414.6" cy="316.5" r="0.69"/><circle cx="168.2" cy="322.0" r="0.83"/><rect x="263.9" y="319.4" width="1.3" height="1.3"/><rect x="389.0" y="327.7" width="1.0" height="1.0"/><rect x="495.7" y="314.3" width="1.5" height="1.5"/><rect x="211.8" y="321.6" width="1.2" height="1.2"/><rect x="302.1" y="323.9" width="1.5" height="1.5"/><circle cx="509.6" cy="321.8" r="0.79"/><rect x="428.3" y="328.9" width="1.3" height="1.3"/><rect x="242.3" y="330.6" width="1.6" height="1.6"/><rect x="360.7" y="328.4" width="0.9" height="0.9"/><circle cx="477.3" cy="319.5" r="0.45"/><circle cx="365.5" cy="327.9" r="0.69"/><circle cx="460.2" cy="313.8" r="0.88"/><circle cx="286.8" cy="328.3" r="0.48"/><rect x="353.2" y="327.0" width="1.4" height="1.4"/><circle cx="510.2" cy="322.4" r="0.97"/><rect x="245.3" y="323.1" width="0.9" height="0.9"/><rect x="397.9" y="323.0" width="1.4" height="1.4"/><rect x="278.3" y="320.2" width="1.5" height="1.5"/><rect x="240.5" y="329.6" width="1.6" height="1.6"/><rect x="373.8" y="316.5" width="1.2" height="1.2"/><rect x="385.6" y="313.1" width="1.6" height="1.6"/><circle cx="310.8" cy="328.6" r="0.74"/><circle cx="417.0" cy="313.8" r="0.72"/><circle cx="514.2" cy="331.1" r="0.56"/><rect x="210.7" y="321.2" width="1.4" height="1.4"/><rect x="338.6" y="318.9" width="0.8" height="0.8"/><circle cx="502.7" cy="315.1" r="0.87"/><circle cx="235.3" cy="317.1" r="0.81"/><rect x="294.3" y="325.0" width="0.7" height="0.7"/><circle cx="209.2" cy="322.8" r="0.55"/><circle cx="358.2" cy="321.3" r="0.63"/><rect x="357.9" y="315.7" width="0.8" height="0.8"/><rect x="397.8" y="323.1" width="1.5" height="1.5"/><rect x="477.6" y="317.2" width="1.4" height="1.4"/><rect x="494.4" y="318.8" width="0.9" height="0.9"/><circle cx="244.1" cy="332.6" r="0.93"/><circle cx="251.8" cy="327.1" r="0.56"/><circle cx="468.6" cy="321.0" r="0.87"/><circle cx="311.6" cy="326.3" r="0.41"/><circle cx="413.8" cy="330.8" r="0.98"/><rect x="349.2" y="327.7" width="1.1" height="1.1"/><circle cx="233.4" cy="313.9" r="0.46"/><circle cx="366.0" cy="322.8" r="0.74"/><rect x="231.8" y="316.6" width="1.4" height="1.4"/><rect x="503.3" y="314.4" width="0.7" height="0.7"/><circle cx="333.3" cy="327.9" r="0.60"/><circle cx="352.7" cy="321.1" r="0.76"/><circle cx="420.7" cy="329.5" r="0.51"/><circle cx="434.7" cy="320.6" r="0.52"/><rect x="351.7" y="312.8" width="1.5" height="1.5"/><circle cx="422.0" cy="329.8" r="0.78"/><rect x="383.6" y="322.6" width="1.6" height="1.6"/><rect x="258.7" y="330.8" width="1.4" height="1.4"/><rect x="462.2" y="320.7" width="1.5" height="1.5"/><circle cx="418.4" cy="327.9" r="0.86"/><circle cx="428.6" cy="313.9" r="0.61"/><rect x="168.2" y="319.6" width="1.3" height="1.3"/><circle cx="249.2" cy="331.5" r="0.80"/><circle cx="405.6" cy="323.9" r="0.72"/><rect x="530.0" y="325.4" width="1.3" height="1.3"/><rect x="522.7" y="313.0" width="1.2" height="1.2"/><circle cx="258.2" cy="320.6" r="0.43"/><rect x="301.7" y="314.5" width="0.9" height="0.9"/><rect x="365.5" y="322.7" width="1.6" height="1.6"/><circle cx="528.2" cy="325.3" r="0.89"/><rect x="382.8" y="327.8" width="0.7" height="0.7"/><circle cx="222.8" cy="322.0" r="0.50"/><circle cx="387.8" cy="313.7" r="0.97"/><circle cx="356.9" cy="324.5" r="0.62"/><rect x="403.9" y="323.8" width="0.9" height="0.9"/><circle cx="272.6" cy="312.8" r="0.55"/><rect x="221.6" y="327.7" width="1.0" height="1.0"/><rect x="438.0" y="313.5" width="1.6" height="1.6"/><circle cx="191.2" cy="330.7" r="0.66"/><rect x="520.2" y="317.4" width="1.1" height="1.1"/><rect x="428.6" y="321.9" width="1.6" height="1.6"/><circle cx="385.0" cy="314.8" r="0.77"/><circle cx="238.8" cy="313.5" r="0.72"/><circle cx="326.3" cy="325.9" r="0.67"/><rect x="377.2" y="320.9" width="1.4" height="1.4"/><circle cx="529.1" cy="331.6" r="0.84"/><rect x="205.9" y="330.4" width="1.4" height="1.4"/><rect x="295.7" y="318.0" width="1.3" height="1.3"/><circle cx="380.7" cy="325.2" r="0.85"/><rect x="255.3" y="332.2" width="1.5" height="1.5"/><circle cx="178.7" cy="313.7" r="0.56"/><circle cx="392.3" cy="314.6" r="0.72"/><rect x="195.9" y="326.1" width="1.2" height="1.2"/><circle cx="300.8" cy="322.1" r="0.53"/><circle cx="436.7" cy="329.4" r="0.44"/><circle cx="460.2" cy="325.0" r="0.86"/><circle cx="319.5" cy="317.7" r="0.89"/><rect x="403.3" y="332.4" width="1.0" height="1.0"/><circle cx="437.2" cy="331.0" r="0.66"/><circle cx="199.8" cy="330.1" r="0.45"/><circle cx="370.6" cy="322.2" r="0.81"/><rect x="447.9" y="314.0" width="0.8" height="0.8"/><rect x="194.2" y="318.6" width="1.3" height="1.3"/><rect x="267.8" y="315.4" width="1.0" height="1.0"/><rect x="298.3" y="314.9" width="1.3" height="1.3"/><circle cx="500.2" cy="331.4" r="0.95"/><circle cx="458.0" cy="318.6" r="0.59"/><circle cx="506.1" cy="330.5" r="0.55"/><circle cx="298.0" cy="319.8" r="0.64"/><rect x="235.6" y="323.8" width="1.4" height="1.4"/><rect x="470.2" y="323.8" width="0.8" height="0.8"/><rect x="486.4" y="318.2" width="0.7" height="0.7"/><rect x="363.3" y="323.9" width="1.6" height="1.6"/><rect x="458.4" y="313.8" width="1.2" height="1.2"/><rect x="195.0" y="314.1" width="1.3" height="1.3"/><rect x="195.3" y="325.2" width="0.8" height="0.8"/><rect x="401.6" y="317.4" width="0.9" height="0.9"/><circle cx="355.0" cy="327.9" r="0.64"/><rect x="518.4" y="326.0" width="1.1" height="1.1"/><circle cx="427.9" cy="326.7" r="0.95"/><rect x="466.5" y="325.9" width="1.5" height="1.5"/><rect x="469.2" y="330.4" width="1.6" height="1.6"/><circle cx="355.9" cy="326.8" r="0.88"/><rect x="318.1" y="315.4" width="1.4" height="1.4"/><circle cx="301.6" cy="315.9" r="0.52"/><circle cx="271.1" cy="332.0" r="0.44"/><circle cx="206.3" cy="325.5" r="0.87"/><rect x="187.1" y="321.7" width="1.2" height="1.2"/><circle cx="177.6" cy="314.7" r="0.51"/><circle cx="250.4" cy="326.9" r="0.76"/><rect x="231.9" y="318.1" width="0.8" height="0.8"/><circle cx="278.3" cy="323.5" r="0.89"/><circle cx="259.6" cy="330.3" r="0.95"/><circle cx="364.5" cy="331.7" r="0.69"/><circle cx="182.5" cy="331.5" r="0.88"/><rect x="357.2" y="322.9" width="0.9" height="0.9"/><circle cx="404.8" cy="317.3" r="0.41"/><rect x="300.2" y="328.5" width="1.3" height="1.3"/><circle cx="221.8" cy="315.7" r="0.59"/><rect x="482.2" y="322.9" width="1.3" height="1.3"/><rect x="261.8" y="323.2" width="0.8" height="0.8"/><rect x="164.8" y="329.0" width="1.5" height="1.5"/><circle cx="194.4" cy="317.9" r="0.83"/><rect x="339.9" y="321.9" width="1.6" height="1.6"/><circle cx="477.8" cy="318.6" r="0.87"/><circle cx="499.6" cy="314.3" r="0.90"/><rect x="363.0" y="323.1" width="0.8" height="0.8"/><circle cx="278.2" cy="318.7" r="0.45"/><rect x="335.2" y="326.9" width="1.0" height="1.0"/><rect x="203.0" y="320.4" width="1.1" height="1.1"/><circle cx="467.7" cy="325.6" r="0.41"/><circle cx="423.9" cy="317.3" r="0.74"/><circle cx="168.1" cy="332.4" r="0.88"/><rect x="389.6" y="318.3" width="1.0" height="1.0"/><rect x="273.4" y="319.3" width="1.0" height="1.0"/><circle cx="258.1" cy="316.5" r="0.84"/><circle cx="509.9" cy="323.8" r="0.83"/><circle cx="466.7" cy="314.4" r="0.48"/><circle cx="412.1" cy="326.7" r="0.51"/><circle cx="470.4" cy="324.4" r="0.45"/><circle cx="221.7" cy="315.0" r="0.64"/><rect x="501.0" y="321.1" width="1.1" height="1.1"/><circle cx="444.7" cy="329.0" r="0.63"/><rect x="315.0" y="312.8" width="1.0" height="1.0"/><rect x="523.4" y="328.4" width="1.3" height="1.3"/><rect x="171.1" y="319.2" width="1.0" height="1.0"/><rect x="203.2" y="320.1" width="1.1" height="1.1"/><rect x="466.1" y="324.8" width="0.8" height="0.8"/><rect x="494.5" y="323.5" width="1.0" height="1.0"/><rect x="216.1" y="326.8" width="1.6" height="1.6"/><rect x="425.9" y="329.3" width="0.8" height="0.8"/><circle cx="393.6" cy="316.5" r="0.45"/><rect x="375.1" y="326.5" width="1.0" height="1.0"/><rect x="296.4" y="321.8" width="0.8" height="0.8"/><rect x="213.9" y="330.7" width="1.2" height="1.2"/><rect x="369.2" y="317.8" width="1.5" height="1.5"/><rect x="463.3" y="324.6" width="0.8" height="0.8"/><rect x="269.8" y="330.5" width="0.9" height="0.9"/><circle cx="468.1" cy="316.2" r="0.73"/><rect x="176.0" y="316.1" width="1.6" height="1.6"/><rect x="405.1" y="318.7" width="1.3" height="1.3"/><circle cx="303.9" cy="324.4" r="0.88"/><circle cx="237.3" cy="321.9" r="0.49"/><circle cx="372.6" cy="316.0" r="0.71"/><circle cx="372.0" cy="319.2" r="0.79"/><rect x="409.7" y="315.4" width="1.6" height="1.6"/><rect x="336.1" y="320.8" width="1.2" height="1.2"/><rect x="441.5" y="327.6" width="1.1" height="1.1"/><circle cx="470.8" cy="329.7" r="0.65"/><rect x="371.3" y="330.7" width="1.1" height="1.1"/><circle cx="322.4" cy="330.7" r="0.59"/><rect x="429.6" y="330.6" width="1.3" height="1.3"/><circle cx="439.3" cy="318.6" r="0.76"/><circle cx="209.8" cy="321.5" r="0.70"/><circle cx="183.3" cy="326.5" r="0.72"/><circle cx="276.3" cy="320.5" r="0.54"/><rect x="497.6" y="331.9" width="1.3" height="1.3"/><rect x="318.4" y="328.7" width="0.9" height="0.9"/><rect x="371.6" y="330.7" width="0.7" height="0.7"/><circle cx="209.6" cy="323.3" r="0.97"/><circle cx="253.5" cy="318.5" r="0.59"/><circle cx="491.6" cy="328.9" r="0.64"/><rect x="378.4" y="313.4" width="0.7" height="0.7"/><rect x="276.9" y="322.5" width="1.5" height="1.5"/><rect x="337.1" y="316.7" width="0.9" height="0.9"/><circle cx="492.3" cy="316.4" r="0.90"/><rect x="337.1" y="316.0" width="1.5" height="1.5"/><rect x="238.2" y="325.2" width="0.8" height="0.8"/><circle cx="182.6" cy="314.6" r="0.84"/><circle cx="493.5" cy="330.0" r="0.83"/><circle cx="418.8" cy="331.3" r="0.67"/><circle cx="245.9" cy="318.7" r="0.83"/><rect x="230.5" y="317.2" width="1.3" height="1.3"/><rect x="300.5" y="325.8" width="1.5" height="1.5"/><rect x="248.0" y="318.5" width="1.5" height="1.5"/><rect x="265.5" y="325.4" width="0.7" height="0.7"/><circle cx="325.3" cy="323.1" r="0.72"/><rect x="383.6" y="318.2" width="0.9" height="0.9"/><circle cx="196.2" cy="318.2" r="0.85"/><rect x="266.4" y="323.5" width="0.8" height="0.8"/><rect x="525.5" y="313.2" width="1.1" height="1.1"/><circle cx="305.0" cy="331.2" r="0.70"/><rect x="367.6" y="325.5" width="1.0" height="1.0"/><rect x="450.6" y="322.9" width="1.1" height="1.1"/><circle cx="414.5" cy="323.0" r="0.97"/><circle cx="449.4" cy="315.8" r="0.76"/><rect x="325.4" y="328.0" width="1.4" height="1.4"/><rect x="250.6" y="322.3" width="0.9" height="0.9"/><rect x="346.8" y="313.2" width="1.2" height="1.2"/><circle cx="373.7" cy="330.0" r="0.51"/><circle cx="170.8" cy="322.5" r="0.66"/><rect x="260.5" y="328.6" width="0.7" height="0.7"/><circle cx="372.3" cy="323.4" r="0.87"/><circle cx="217.8" cy="318.8" r="0.43"/><rect x="391.5" y="323.1" width="0.9" height="0.9"/><circle cx="196.7" cy="329.0" r="0.50"/><rect x="222.7" y="326.4" width="1.4" height="1.4"/><circle cx="186.7" cy="320.8" r="0.62"/><rect x="519.2" y="313.3" width="1.1" height="1.1"/><rect x="524.9" y="315.4" width="1.1" height="1.1"/><circle cx="178.6" cy="317.3" r="0.93"/><circle cx="308.0" cy="318.5" r="0.65"/><rect x="176.8" y="332.5" width="1.4" height="1.4"/><circle cx="248.4" cy="317.6" r="0.73"/><circle cx="333.1" cy="331.2" r="0.62"/><circle cx="523.1" cy="324.8" r="0.42"/><rect x="401.9" y="313.7" width="1.0" height="1.0"/><circle cx="480.4" cy="324.4" r="0.93"/><rect x="308.0" y="329.4" width="1.0" height="1.0"/><rect x="243.1" y="319.5" width="0.8" height="0.8"/><circle cx="224.2" cy="316.6" r="0.53"/><rect x="277.1" y="321.5" width="1.6" height="1.6"/><circle cx="479.8" cy="316.6" r="0.63"/><circle cx="417.1" cy="319.8" r="0.56"/><rect x="230.9" y="317.8" width="1.0" height="1.0"/><circle cx="425.8" cy="317.9" r="0.62"/><rect x="506.8" y="319.7" width="1.4" height="1.4"/><circle cx="496.0" cy="312.9" r="0.59"/><rect x="194.7" y="330.2" width="1.0" height="1.0"/><circle cx="354.2" cy="313.6" r="0.64"/><circle cx="179.2" cy="315.5" r="0.76"/><circle cx="278.5" cy="321.0" r="0.73"/><rect x="422.7" y="317.7" width="1.3" height="1.3"/><rect x="218.1" y="316.6" width="0.9" height="0.9"/><circle cx="312.5" cy="320.3" r="0.92"/><circle cx="271.1" cy="319.4" r="0.53"/><rect x="173.3" y="325.2" width="1.2" height="1.2"/><rect x="521.1" y="318.5" width="1.3" height="1.3"/><rect x="243.4" y="326.4" width="1.3" height="1.3"/><circle cx="481.9" cy="317.2" r="0.78"/><circle cx="320.7" cy="320.4" r="0.44"/><circle cx="284.3" cy="322.5" r="0.57"/><rect x="311.5" y="322.1" width="0.8" height="0.8"/><circle cx="252.0" cy="314.4" r="0.61"/><rect x="219.4" y="324.2" width="1.3" height="1.3"/><circle cx="420.4" cy="313.0" r="0.63"/><circle cx="187.3" cy="320.6" r="0.43"/><circle cx="378.6" cy="321.9" r="0.60"/><rect x="172.9" y="319.5" width="1.5" height="1.5"/><circle cx="260.1" cy="325.9" r="0.51"/><rect x="389.3" y="331.7" width="1.0" height="1.0"/><rect x="508.9" y="328.0" width="1.2" height="1.2"/><rect x="314.6" y="320.9" width="0.9" height="0.9"/><circle cx="486.0" cy="320.2" r="0.95"/><circle cx="214.0" cy="322.7" r="0.59"/><circle cx="521.6" cy="315.5" r="0.52"/><rect x="413.0" y="317.2" width="0.6" height="0.6"/><rect x="308.4" y="317.3" width="1.1" height="1.1"/><rect x="364.8" y="325.1" width="1.2" height="1.2"/><rect x="518.6" y="319.2" width="1.0" height="1.0"/><rect x="278.9" y="326.9" width="1.3" height="1.3"/><rect x="516.8" y="329.1" width="0.8" height="0.8"/><circle cx="343.7" cy="323.8" r="0.62"/><circle cx="438.2" cy="323.2" r="0.54"/><circle cx="283.1" cy="316.1" r="0.71"/><rect x="187.4" y="313.9" width="0.7" height="0.7"/><circle cx="205.5" cy="321.6" r="0.86"/><circle cx="223.8" cy="329.9" r="0.92"/><circle cx="257.1" cy="322.7" r="0.88"/><circle cx="426.1" cy="317.6" r="0.83"/><rect x="286.4" y="327.8" width="1.4" height="1.4"/><rect x="371.8" y="321.0" width="1.3" height="1.3"/><circle cx="468.2" cy="328.6" r="0.48"/><circle cx="409.1" cy="317.1" r="0.51"/><circle cx="378.4" cy="331.4" r="0.98"/><circle cx="415.8" cy="320.9" r="0.78"/><rect x="505.6" y="332.4" width="0.7" height="0.7"/><rect x="207.6" y="313.4" width="0.9" height="0.9"/><circle cx="527.7" cy="314.9" r="0.60"/><circle cx="362.7" cy="322.2" r="0.62"/><circle cx="457.0" cy="329.4" r="0.57"/><circle cx="390.2" cy="327.9" r="0.99"/><circle cx="418.1" cy="323.5" r="0.88"/><circle cx="228.3" cy="314.7" r="0.96"/><circle cx="342.9" cy="314.9" r="0.59"/><circle cx="371.3" cy="315.4" r="0.78"/><circle cx="247.5" cy="322.2" r="0.62"/><circle cx="183.0" cy="313.8" r="0.94"/><rect x="193.0" y="316.2" width="1.1" height="1.1"/><circle cx="238.2" cy="329.9" r="0.69"/><rect x="459.4" y="320.5" width="0.7" height="0.7"/><rect x="404.5" y="325.0" width="0.9" height="0.9"/><rect x="480.5" y="332.5" width="1.1" height="1.1"/><circle cx="429.4" cy="316.0" r="0.42"/><rect x="207.7" y="314.0" width="1.0" height="1.0"/><circle cx="277.7" cy="322.8" r="0.41"/><rect x="515.1" y="312.7" width="1.1" height="1.1"/><rect x="454.0" y="327.3" width="1.0" height="1.0"/><circle cx="467.0" cy="327.9" r="0.99"/><circle cx="511.9" cy="320.6" r="0.82"/><circle cx="497.0" cy="313.0" r="0.75"/><rect x="306.3" y="319.9" width="1.3" height="1.3"/><circle cx="297.7" cy="325.3" r="0.61"/><circle cx="495.3" cy="319.0" r="0.46"/><rect x="435.5" y="316.7" width="1.4" height="1.4"/><circle cx="413.1" cy="316.1" r="0.46"/><rect x="292.4" y="321.2" width="0.6" height="0.6"/><rect x="311.8" y="319.0" width="1.2" height="1.2"/><rect x="239.2" y="330.2" width="0.9" height="0.9"/><rect x="203.9" y="332.3" width="1.1" height="1.1"/><circle cx="244.6" cy="320.7" r="0.82"/><circle cx="264.3" cy="326.1" r="0.97"/><circle cx="231.4" cy="319.7" r="0.99"/><circle cx="396.4" cy="320.1" r="0.79"/><rect x="389.7" y="330.3" width="1.5" height="1.5"/><rect x="348.9" y="323.9" width="0.7" height="0.7"/><circle cx="416.6" cy="321.6" r="0.80"/><rect x="305.0" y="317.1" width="1.2" height="1.2"/><circle cx="352.7" cy="313.1" r="0.78"/><circle cx="381.3" cy="324.5" r="0.96"/><circle cx="335.7" cy="332.5" r="0.84"/><rect x="433.7" y="332.4" width="1.0" height="1.0"/><circle cx="210.6" cy="332.4" r="0.69"/><rect x="471.6" y="325.5" width="1.5" height="1.5"/><circle cx="456.0" cy="322.8" r="1.00"/><rect x="482.5" y="326.8" width="0.9" height="0.9"/><circle cx="330.4" cy="323.3" r="0.92"/><rect x="266.6" y="325.4" width="0.7" height="0.7"/><rect x="452.2" y="322.4" width="0.9" height="0.9"/><rect x="477.0" y="328.0" width="1.2" height="1.2"/><circle cx="455.7" cy="315.6" r="0.62"/><rect x="177.8" y="319.5" width="1.5" height="1.5"/><rect x="207.2" y="316.2" width="1.0" height="1.0"/><rect x="390.0" y="330.6" width="0.7" height="0.7"/><rect x="239.9" y="325.1" width="1.5" height="1.5"/><circle cx="236.4" cy="325.9" r="0.66"/><circle cx="288.5" cy="318.8" r="0.78"/><circle cx="384.8" cy="326.5" r="0.51"/><circle cx="418.0" cy="321.9" r="0.48"/><circle cx="508.4" cy="324.8" r="0.61"/><circle cx="528.1" cy="326.4" r="0.84"/><rect x="277.8" y="320.7" width="0.8" height="0.8"/><circle cx="319.6" cy="329.0" r="0.65"/><rect x="349.5" y="331.4" width="1.0" height="1.0"/><rect x="250.3" y="324.1" width="0.9" height="0.9"/><circle cx="269.1" cy="329.7" r="0.81"/><rect x="505.7" y="320.3" width="1.4" height="1.4"/><circle cx="328.3" cy="313.8" r="0.65"/><rect x="325.5" y="331.7" width="0.9" height="0.9"/><circle cx="410.1" cy="317.4" r="0.65"/><circle cx="491.7" cy="317.6" r="0.65"/><rect x="464.4" y="329.6" width="1.2" height="1.2"/><circle cx="200.7" cy="330.5" r="0.45"/><circle cx="301.2" cy="327.0" r="0.80"/><rect x="492.7" y="331.6" width="0.7" height="0.7"/><circle cx="335.9" cy="319.8" r="0.68"/><rect x="409.6" y="324.7" width="1.6" height="1.6"/><rect x="527.3" y="320.4" width="1.4" height="1.4"/><circle cx="420.7" cy="332.6" r="0.44"/><rect x="311.1" y="325.7" width="0.8" height="0.8"/><circle cx="240.9" cy="319.9" r="0.49"/><rect x="435.6" y="314.2" width="0.8" height="0.8"/><rect x="392.1" y="327.4" width="0.9" height="0.9"/><circle cx="431.6" cy="328.1" r="0.47"/><rect x="170.1" y="329.8" width="1.5" height="1.5"/><rect x="173.1" y="319.6" width="1.2" height="1.2"/><rect x="205.0" y="328.4" width="0.9" height="0.9"/><circle cx="209.9" cy="323.9" r="0.48"/><circle cx="351.6" cy="318.4" r="0.87"/><circle cx="315.7" cy="313.6" r="0.53"/><circle cx="368.4" cy="321.7" r="0.91"/><rect x="475.2" y="315.6" width="1.6" height="1.6"/><rect x="312.9" y="324.8" width="1.5" height="1.5"/><rect x="315.5" y="312.7" width="0.8" height="0.8"/><rect x="432.9" y="326.8" width="0.8" height="0.8"/><rect x="174.7" y="314.7" width="0.9" height="0.9"/><circle cx="399.5" cy="329.5" r="0.43"/><rect x="193.0" y="317.7" width="0.7" height="0.7"/><rect x="284.5" y="322.3" width="1.3" height="1.3"/><rect x="510.4" y="323.9" width="1.1" height="1.1"/><circle cx="308.5" cy="318.5" r="0.84"/><circle cx="298.8" cy="321.1" r="0.69"/><rect x="321.7" y="321.6" width="0.7" height="0.7"/><circle cx="186.9" cy="323.1" r="0.73"/><circle cx="245.7" cy="314.5" r="0.62"/><circle cx="341.3" cy="317.1" r="0.85"/><circle cx="167.6" cy="320.7" r="0.98"/><rect x="381.3" y="331.8" width="1.0" height="1.0"/><rect x="299.2" y="318.6" width="1.2" height="1.2"/><rect x="279.5" y="322.5" width="1.1" height="1.1"/><circle cx="183.7" cy="314.4" r="0.55"/><circle cx="455.3" cy="321.1" r="0.92"/><rect x="268.8" y="326.2" width="0.7" height="0.7"/><rect x="468.4" y="319.1" width="0.9" height="0.9"/><rect x="452.6" y="325.4" width="0.7" height="0.7"/><rect x="181.8" y="325.1" width="1.2" height="1.2"/><rect x="397.9" y="312.9" width="1.5" height="1.5"/><circle cx="376.3" cy="312.6" r="0.84"/><circle cx="412.8" cy="332.3" r="0.95"/><circle cx="450.1" cy="321.4" r="0.85"/><circle cx="328.0" cy="321.3" r="0.47"/><rect x="433.0" y="313.9" width="0.8" height="0.8"/><circle cx="407.9" cy="323.5" r="0.47"/><rect x="277.7" y="331.7" width="1.2" height="1.2"/><rect x="241.5" y="320.8" width="1.2" height="1.2"/><circle cx="209.4" cy="330.1" r="0.68"/><rect x="322.3" y="320.1" width="1.3" height="1.3"/><rect x="344.8" y="326.4" width="1.0" height="1.0"/><rect x="202.8" y="327.4" width="0.8" height="0.8"/><circle cx="238.2" cy="319.5" r="0.50"/><rect x="380.6" y="323.0" width="1.0" height="1.0"/><circle cx="472.3" cy="319.7" r="0.75"/><circle cx="522.9" cy="319.1" r="0.82"/><circle cx="259.8" cy="327.2" r="0.74"/><rect x="187.8" y="329.1" width="1.0" height="1.0"/><rect x="322.5" y="324.9" width="1.2" height="1.2"/><circle cx="497.0" cy="321.7" r="0.69"/><rect x="439.7" y="314.6" width="0.9" height="0.9"/><rect x="177.1" y="326.5" width="1.2" height="1.2"/><rect x="286.1" y="315.5" width="1.6" height="1.6"/><circle cx="459.0" cy="314.5" r="0.87"/><circle cx="237.2" cy="323.3" r="0.77"/><rect x="444.0" y="324.2" width="1.5" height="1.5"/><rect x="416.4" y="319.8" width="1.6" height="1.6"/><circle cx="270.7" cy="329.7" r="0.84"/><circle cx="255.4" cy="312.9" r="0.72"/><circle cx="271.5" cy="317.6" r="0.48"/><rect x="264.0" y="318.2" width="0.9" height="0.9"/><rect x="483.9" y="315.7" width="1.5" height="1.5"/><rect x="387.2" y="323.4" width="1.3" height="1.3"/><circle cx="405.6" cy="331.0" r="0.87"/><rect x="184.2" y="331.3" width="1.0" height="1.0"/><rect x="249.7" y="321.6" width="1.0" height="1.0"/><circle cx="509.4" cy="322.7" r="0.74"/><rect x="249.2" y="331.6" width="0.7" height="0.7"/><circle cx="404.6" cy="313.9" r="0.94"/><circle cx="371.1" cy="314.9" r="0.99"/><circle cx="483.2" cy="313.7" r="0.80"/><rect x="175.2" y="324.0" width="1.6" height="1.6"/><circle cx="477.1" cy="328.3" r="0.71"/><circle cx="357.0" cy="316.2" r="0.72"/><circle cx="346.8" cy="316.5" r="0.82"/><rect x="342.0" y="314.1" width="1.1" height="1.1"/><circle cx="520.0" cy="323.8" r="0.48"/><rect x="287.0" y="326.6" width="1.5" height="1.5"/><rect x="511.7" y="331.1" width="1.5" height="1.5"/><rect x="171.7" y="322.3" width="1.2" height="1.2"/><circle cx="388.4" cy="324.8" r="0.96"/><circle cx="354.2" cy="331.8" r="0.42"/><circle cx="482.1" cy="331.7" r="0.41"/><rect x="467.7" y="326.3" width="1.1" height="1.1"/><circle cx="441.3" cy="328.7" r="0.40"/><circle cx="454.7" cy="332.1" r="0.90"/><rect x="287.0" y="319.5" width="0.7" height="0.7"/><circle cx="260.2" cy="324.3" r="0.72"/><rect x="411.1" y="321.6" width="0.9" height="0.9"/><circle cx="228.6" cy="315.5" r="0.55"/><rect x="450.9" y="319.2" width="0.9" height="0.9"/><rect x="259.5" y="323.0" width="0.9" height="0.9"/><circle cx="231.8" cy="317.2" r="0.58"/><rect x="430.0" y="326.0" width="1.4" height="1.4"/><circle cx="193.0" cy="327.8" r="0.55"/><circle cx="315.8" cy="332.4" r="0.62"/><circle cx="497.5" cy="332.4" r="0.63"/><rect x="453.1" y="328.2" width="1.0" height="1.0"/><rect x="303.1" y="318.3" width="1.2" height="1.2"/><circle cx="338.3" cy="328.9" r="0.41"/><circle cx="303.4" cy="313.8" r="0.95"/><rect x="239.5" y="330.2" width="1.6" height="1.6"/><rect x="289.3" y="331.2" width="0.8" height="0.8"/><rect x="510.1" y="316.4" width="0.8" height="0.8"/><circle cx="487.0" cy="327.1" r="0.97"/><rect x="300.5" y="314.9" width="0.9" height="0.9"/><circle cx="190.5" cy="316.2" r="0.61"/><rect x="276.6" y="316.2" width="0.8" height="0.8"/><rect x="361.9" y="323.9" width="1.4" height="1.4"/><circle cx="510.7" cy="314.1" r="0.53"/><rect x="277.5" y="327.8" width="1.5" height="1.5"/><circle cx="222.9" cy="319.1" r="0.74"/><rect x="454.2" y="332.0" width="1.1" height="1.1"/><rect x="473.7" y="321.8" width="0.8" height="0.8"/><circle cx="521.9" cy="313.0" r="0.86"/><rect x="183.3" y="315.8" width="0.8" height="0.8"/><rect x="241.7" y="312.9" width="0.9" height="0.9"/><circle cx="346.8" cy="325.6" r="0.68"/><circle cx="169.9" cy="318.6" r="0.42"/><rect x="390.6" y="319.9" width="1.1" height="1.1"/><rect x="280.3" y="319.7" width="1.5" height="1.5"/><circle cx="316.8" cy="323.4" r="0.68"/><rect x="498.4" y="317.2" width="1.5" height="1.5"/><rect x="486.8" y="315.8" width="1.1" height="1.1"/><circle cx="269.9" cy="315.9" r="0.83"/><circle cx="377.7" cy="315.7" r="0.97"/><rect x="199.7" y="326.3" width="1.0" height="1.0"/><circle cx="346.1" cy="331.0" r="0.71"/><rect x="164.9" y="322.5" width="0.9" height="0.9"/><circle cx="395.4" cy="321.8" r="0.45"/><circle cx="340.5" cy="325.4" r="0.98"/><circle cx="326.2" cy="314.2" r="0.88"/><rect x="467.5" y="328.5" width="0.9" height="0.9"/><rect x="348.6" y="321.1" width="1.2" height="1.2"/><rect x="343.4" y="322.2" width="0.9" height="0.9"/><circle cx="348.3" cy="319.4" r="0.52"/><rect x="469.3" y="328.7" width="1.6" height="1.6"/><rect x="414.8" y="328.5" width="1.3" height="1.3"/><circle cx="457.3" cy="316.0" r="0.89"/><rect x="253.6" y="331.0" width="0.7" height="0.7"/><rect x="289.8" y="328.4" width="1.2" height="1.2"/><rect x="505.3" y="325.4" width="0.7" height="0.7"/><circle cx="204.3" cy="332.2" r="0.92"/><rect x="232.3" y="326.5" width="1.4" height="1.4"/><circle cx="392.1" cy="315.0" r="0.84"/><rect x="481.6" y="327.9" width="1.4" height="1.4"/><circle cx="372.4" cy="331.5" r="0.78"/><circle cx="304.9" cy="319.6" r="0.41"/><rect x="455.3" y="317.1" width="1.3" height="1.3"/><circle cx="418.3" cy="322.9" r="0.59"/><rect x="232.8" y="325.5" width="1.3" height="1.3"/><circle cx="285.2" cy="331.1" r="0.95"/><rect x="512.5" y="324.9" width="1.6" height="1.6"/><circle cx="286.2" cy="318.1" r="0.71"/><circle cx="177.2" cy="329.8" r="0.72"/><rect x="436.6" y="317.5" width="0.8" height="0.8"/><circle cx="252.6" cy="319.1" r="0.44"/><rect x="294.2" y="323.1" width="1.6" height="1.6"/><circle cx="315.8" cy="320.7" r="0.54"/><rect x="515.0" y="315.0" width="1.1" height="1.1"/><rect x="443.1" y="323.7" width="1.3" height="1.3"/><rect x="494.4" y="317.5" width="1.2" height="1.2"/><circle cx="357.3" cy="316.3" r="0.86"/><rect x="219.3" y="323.6" width="0.9" height="0.9"/><rect x="430.1" y="318.9" width="1.4" height="1.4"/><circle cx="422.5" cy="321.7" r="0.66"/><circle cx="338.0" cy="331.7" r="0.93"/><circle cx="190.3" cy="317.9" r="0.82"/><rect x="211.1" y="321.1" width="1.2" height="1.2"/><rect x="311.7" y="325.6" width="1.3" height="1.3"/><circle cx="181.3" cy="326.8" r="0.48"/><circle cx="337.5" cy="312.8" r="0.44"/><rect x="335.7" y="314.6" width="1.6" height="1.6"/><rect x="342.3" y="324.3" width="0.9" height="0.9"/><rect x="208.2" y="318.6" width="0.9" height="0.9"/><rect x="350.4" y="320.7" width="1.0" height="1.0"/><circle cx="258.4" cy="328.4" r="0.82"/><circle cx="298.1" cy="321.3" r="0.67"/><rect x="392.4" y="320.8" width="0.9" height="0.9"/><circle cx="330.7" cy="322.0" r="0.93"/><rect x="301.8" y="330.5" width="1.6" height="1.6"/><circle cx="311.1" cy="326.0" r="0.84"/><rect x="429.1" y="331.6" width="1.3" height="1.3"/><rect x="323.4" y="325.6" width="0.9" height="0.9"/><rect x="361.5" y="332.2" width="1.0" height="1.0"/><circle cx="170.4" cy="320.9" r="0.86"/><rect x="388.7" y="316.9" width="1.0" height="1.0"/><rect x="236.2" y="330.8" width="0.7" height="0.7"/><rect x="464.6" y="329.3" width="1.0" height="1.0"/><rect x="424.7" y="327.8" width="1.4" height="1.4"/><rect x="256.3" y="326.7" width="1.2" height="1.2"/><circle cx="525.3" cy="315.2" r="0.87"/><rect x="430.0" y="331.6" width="0.9" height="0.9"/><rect x="357.5" y="322.5" width="0.8" height="0.8"/><rect x="491.0" y="325.8" width="0.9" height="0.9"/><circle cx="317.9" cy="315.4" r="0.76"/><rect x="358.1" y="332.4" width="1.2" height="1.2"/><circle cx="293.3" cy="327.8" r="0.45"/><circle cx="417.3" cy="326.4" r="0.90"/><circle cx="264.4" cy="319.7" r="0.72"/><circle cx="301.3" cy="325.7" r="0.49"/><circle cx="483.4" cy="331.3" r="0.55"/><rect x="207.3" y="314.2" width="1.4" height="1.4"/><circle cx="261.0" cy="322.3" r="0.82"/><rect x="463.8" y="329.8" width="0.8" height="0.8"/><circle cx="420.0" cy="319.3" r="0.93"/><rect x="337.6" y="318.8" width="1.1" height="1.1"/><circle cx="372.7" cy="324.7" r="0.99"/><rect x="245.8" y="325.0" width="0.8" height="0.8"/><rect x="289.1" y="321.3" width="1.1" height="1.1"/><circle cx="499.0" cy="326.1" r="0.50"/><rect x="422.6" y="316.8" width="1.5" height="1.5"/><rect x="247.1" y="319.8" width="0.9" height="0.9"/><rect x="181.5" y="326.5" width="0.7" height="0.7"/><circle cx="363.0" cy="324.2" r="0.46"/><rect x="293.4" y="332.3" width="1.2" height="1.2"/><rect x="187.2" y="314.5" width="0.7" height="0.7"/><rect x="228.8" y="318.0" width="1.3" height="1.3"/><rect x="282.2" y="321.9" width="0.9" height="0.9"/><circle cx="294.4" cy="319.7" r="0.55"/><rect x="259.7" y="312.8" width="0.9" height="0.9"/><circle cx="262.6" cy="314.8" r="0.91"/><rect x="351.5" y="318.8" width="1.5" height="1.5"/><rect x="392.0" y="325.8" width="1.3" height="1.3"/><circle cx="315.4" cy="320.3" r="0.70"/><rect x="357.7" y="323.2" width="1.4" height="1.4"/><circle cx="246.2" cy="312.9" r="0.58"/><circle cx="455.5" cy="325.0" r="0.57"/><rect x="482.0" y="329.3" width="1.3" height="1.3"/><rect x="436.6" y="321.6" width="1.0" height="1.0"/><rect x="486.3" y="332.4" width="1.5" height="1.5"/><rect x="191.5" y="317.5" width="1.6" height="1.6"/><rect x="352.6" y="318.7" width="1.5" height="1.5"/><circle cx="526.5" cy="314.0" r="1.00"/><circle cx="218.5" cy="320.3" r="0.78"/><rect x="370.0" y="331.4" width="1.1" height="1.1"/><circle cx="380.8" cy="324.2" r="0.50"/><circle cx="493.6" cy="326.1" r="0.53"/><rect x="363.1" y="319.3" width="1.2" height="1.2"/><circle cx="170.8" cy="316.9" r="0.79"/><rect x="190.9" y="327.8" width="1.0" height="1.0"/><circle cx="368.6" cy="314.5" r="0.78"/><circle cx="462.1" cy="327.1" r="0.86"/><circle cx="176.8" cy="328.5" r="0.48"/><rect x="175.2" y="315.8" width="1.1" height="1.1"/><circle cx="281.8" cy="317.7" r="0.90"/><circle cx="396.6" cy="324.9" r="0.96"/><circle cx="370.3" cy="320.2" r="0.89"/><rect x="425.8" y="316.2" width="1.1" height="1.1"/><rect x="252.0" y="318.1" width="1.5" height="1.5"/><circle cx="188.4" cy="316.2" r="0.54"/><rect x="473.2" y="326.6" width="1.6" height="1.6"/><circle cx="393.9" cy="320.2" r="0.83"/><rect x="185.8" y="322.4" width="1.0" height="1.0"/><circle cx="182.1" cy="313.1" r="0.99"/><rect x="285.0" y="315.5" width="1.2" height="1.2"/><rect x="230.3" y="322.6" width="1.1" height="1.1"/><rect x="370.9" y="317.3" width="0.8" height="0.8"/><circle cx="192.9" cy="329.9" r="0.42"/><rect x="335.4" y="329.5" width="1.2" height="1.2"/><rect x="442.6" y="327.0" width="0.7" height="0.7"/><circle cx="218.3" cy="315.8" r="0.42"/><circle cx="485.0" cy="320.2" r="0.45"/><circle cx="473.8" cy="324.6" r="0.95"/><circle cx="205.5" cy="318.3" r="0.51"/><circle cx="237.6" cy="325.4" r="0.50"/><rect x="360.1" y="320.0" width="0.8" height="0.8"/><circle cx="350.1" cy="320.3" r="0.68"/><circle cx="389.2" cy="316.4" r="0.60"/><rect x="488.9" y="324.3" width="1.0" height="1.0"/><rect x="508.0" y="315.2" width="1.0" height="1.0"/><circle cx="300.4" cy="326.7" r="0.94"/><rect x="268.3" y="318.4" width="1.4" height="1.4"/><circle cx="420.1" cy="331.1" r="0.51"/><rect x="476.2" y="327.9" width="0.7" height="0.7"/><rect x="435.1" y="329.9" width="1.0" height="1.0"/><rect x="514.9" y="330.5" width="1.2" height="1.2"/><rect x="529.6" y="329.4" width="1.3" height="1.3"/><circle cx="216.9" cy="320.6" r="0.74"/><circle cx="449.8" cy="313.7" r="0.78"/><circle cx="282.4" cy="324.7" r="0.51"/><circle cx="477.8" cy="332.3" r="0.56"/><circle cx="418.0" cy="316.3" r="0.91"/><circle cx="367.9" cy="319.3" r="0.40"/><rect x="165.0" y="319.1" width="0.9" height="0.9"/><circle cx="397.5" cy="313.8" r="0.83"/><rect x="340.4" y="327.0" width="1.5" height="1.5"/><circle cx="318.2" cy="318.9" r="0.64"/><circle cx="435.5" cy="321.8" r="0.81"/><rect x="450.6" y="331.9" width="0.8" height="0.8"/><circle cx="223.6" cy="313.2" r="0.65"/><rect x="431.5" y="324.0" width="1.3" height="1.3"/><circle cx="185.6" cy="314.5" r="0.42"/><rect x="465.8" y="326.2" width="1.2" height="1.2"/><circle cx="300.4" cy="314.8" r="0.78"/><circle cx="248.2" cy="313.1" r="0.50"/><rect x="358.7" y="315.1" width="1.2" height="1.2"/><rect x="290.2" y="314.9" width="1.3" height="1.3"/><rect x="487.6" y="323.6" width="1.2" height="1.2"/><rect x="412.0" y="332.1" width="0.9" height="0.9"/><circle cx="395.7" cy="321.9" r="0.41"/><rect x="260.6" y="324.6" width="1.1" height="1.1"/><rect x="185.8" y="315.1" width="1.2" height="1.2"/><circle cx="526.5" cy="328.4" r="0.57"/><rect x="349.2" y="328.7" width="1.0" height="1.0"/><circle cx="341.3" cy="320.5" r="0.69"/><circle cx="529.9" cy="313.4" r="0.64"/><circle cx="412.2" cy="315.5" r="0.49"/><circle cx="384.5" cy="327.8" r="0.67"/><circle cx="298.8" cy="330.4" r="0.53"/><circle cx="488.2" cy="322.2" r="0.48"/><rect x="489.9" y="327.6" width="0.7" height="0.7"/><circle cx="242.5" cy="321.5" r="0.76"/><rect x="506.4" y="319.2" width="0.8" height="0.8"/><circle cx="204.2" cy="313.2" r="0.79"/><circle cx="493.6" cy="328.4" r="0.52"/><rect x="385.0" y="322.0" width="0.9" height="0.9"/><rect x="240.5" y="325.4" width="0.7" height="0.7"/><rect x="511.3" y="324.9" width="0.9" height="0.9"/><rect x="494.7" y="328.5" width="0.7" height="0.7"/><rect x="215.5" y="323.5" width="1.6" height="1.6"/><circle cx="255.3" cy="323.6" r="0.59"/><circle cx="436.3" cy="327.8" r="0.60"/><circle cx="419.0" cy="327.1" r="0.68"/><circle cx="199.3" cy="315.9" r="0.90"/><circle cx="400.0" cy="319.8" r="0.62"/><rect x="520.7" y="324.7" width="0.8" height="0.8"/><rect x="383.0" y="324.8" width="1.4" height="1.4"/><rect x="484.8" y="332.0" width="1.0" height="1.0"/><rect x="301.2" y="320.8" width="1.0" height="1.0"/><rect x="293.2" y="319.6" width="1.5" height="1.5"/><rect x="411.6" y="329.5" width="1.0" height="1.0"/><rect x="256.2" y="318.8" width="0.7" height="0.7"/><circle cx="501.2" cy="318.6" r="0.63"/><circle cx="216.3" cy="325.3" r="0.94"/><rect x="257.4" y="327.8" width="0.9" height="0.9"/><circle cx="293.3" cy="322.0" r="0.52"/><circle cx="319.6" cy="318.1" r="0.84"/><circle cx="397.9" cy="328.6" r="0.60"/><rect x="208.1" y="314.1" width="1.4" height="1.4"/><circle cx="169.8" cy="321.6" r="0.76"/><rect x="177.0" y="321.0" width="1.0" height="1.0"/><rect x="295.9" y="331.0" width="1.5" height="1.5"/><rect x="210.4" y="328.7" width="0.7" height="0.7"/><circle cx="199.9" cy="314.4" r="0.65"/><rect x="527.1" y="324.1" width="1.5" height="1.5"/><rect x="441.5" y="325.5" width="1.1" height="1.1"/><circle cx="409.1" cy="315.7" r="0.72"/></g><line x1="164.3" y1="313.0" x2="164.3" y2="332.5" stroke="#000" stroke-width="0.9" /><line x1="169.5" y1="312.5" x2="237.2" y2="312.5" stroke="#000" stroke-width="1.0" /><line x1="237.2" y1="313.2" x2="254.5" y2="313.2" stroke="#000" stroke-width="0.8" /><line x1="164.0" y1="332.5" x2="530.5" y2="332.5" stroke="#000" stroke-width="1.0" /><line x1="78.6" y1="334.8" x2="530.5" y2="334.8" stroke="#000" stroke-width="1.1" /><g clip-path="url(#c8)" fill="#000"><rect x="332.2" y="313.4" width="0.9" height="0.9"/><circle cx="312.6" cy="307.4" r="0.36"/><circle cx="459.0" cy="306.1" r="0.51"/><rect x="341.7" y="310.1" width="1.0" height="1.0"/><rect x="266.9" y="308.0" width="0.6" height="0.6"/><rect x="479.2" y="315.0" width="1.0" height="1.0"/><rect x="516.5" y="314.9" width="0.6" height="0.6"/><circle cx="393.0" cy="314.4" r="0.53"/><circle cx="360.2" cy="310.1" r="0.43"/><rect x="481.8" y="314.9" width="1.1" height="1.1"/><rect x="411.0" y="314.3" width="0.6" height="0.6"/><rect x="381.4" y="306.7" width="0.6" height="0.6"/><circle cx="330.6" cy="310.5" r="0.54"/><circle cx="297.9" cy="310.9" r="0.39"/><rect x="314.9" y="309.2" width="0.5" height="0.5"/><rect x="517.6" y="309.5" width="0.9" height="0.9"/><rect x="274.5" y="306.3" width="1.0" height="1.0"/><rect x="433.6" y="306.5" width="0.7" height="0.7"/><rect x="499.6" y="315.0" width="0.6" height="0.6"/><rect x="363.1" y="313.9" width="0.6" height="0.6"/><rect x="424.1" y="313.9" width="0.6" height="0.6"/><rect x="418.1" y="312.2" width="0.7" height="0.7"/><rect x="354.1" y="308.3" width="0.6" height="0.6"/><rect x="293.0" y="307.4" width="0.5" height="0.5"/><circle cx="411.5" cy="311.6" r="0.32"/><rect x="354.6" y="305.6" width="0.5" height="0.5"/><rect x="295.4" y="308.4" width="0.7" height="0.7"/><rect x="283.7" y="310.6" width="0.7" height="0.7"/><rect x="264.5" y="308.8" width="0.8" height="0.8"/><circle cx="401.0" cy="310.7" r="0.57"/><rect x="271.5" y="311.0" width="1.1" height="1.1"/><circle cx="332.0" cy="313.4" r="0.64"/><circle cx="420.0" cy="309.1" r="0.40"/><circle cx="317.4" cy="309.0" r="0.32"/><circle cx="286.2" cy="314.4" r="0.54"/><rect x="469.6" y="306.9" width="0.8" height="0.8"/><circle cx="351.9" cy="308.2" r="0.47"/><circle cx="493.6" cy="305.9" r="0.63"/><circle cx="344.0" cy="309.5" r="0.31"/><rect x="359.4" y="310.2" width="1.0" height="1.0"/><rect x="274.6" y="311.5" width="0.6" height="0.6"/><circle cx="349.2" cy="316.2" r="0.52"/><circle cx="264.3" cy="307.7" r="0.65"/><rect x="390.9" y="309.3" width="0.7" height="0.7"/><rect x="320.1" y="313.9" width="0.9" height="0.9"/><rect x="401.8" y="316.5" width="0.8" height="0.8"/><circle cx="428.7" cy="315.5" r="0.66"/><rect x="299.6" y="311.4" width="1.0" height="1.0"/><circle cx="343.0" cy="317.1" r="0.42"/><circle cx="276.9" cy="304.8" r="0.59"/><rect x="454.2" y="315.8" width="1.1" height="1.1"/><rect x="376.3" y="312.6" width="1.0" height="1.0"/><circle cx="340.5" cy="314.5" r="0.34"/><rect x="529.0" y="310.6" width="0.7" height="0.7"/><circle cx="383.2" cy="304.4" r="0.31"/><rect x="351.6" y="316.8" width="0.6" height="0.6"/><rect x="490.9" y="309.9" width="1.1" height="1.1"/><rect x="392.2" y="307.9" width="0.8" height="0.8"/><circle cx="406.3" cy="307.0" r="0.45"/><rect x="313.9" y="312.0" width="0.5" height="0.5"/><circle cx="310.7" cy="305.8" r="0.54"/><rect x="499.3" y="311.0" width="0.8" height="0.8"/><circle cx="320.2" cy="314.2" r="0.56"/><circle cx="519.1" cy="304.7" r="0.64"/><rect x="487.2" y="306.4" width="0.5" height="0.5"/><rect x="510.2" y="307.8" width="0.8" height="0.8"/><circle cx="328.1" cy="311.4" r="0.30"/><circle cx="465.9" cy="308.9" r="0.39"/><rect x="450.1" y="310.0" width="1.1" height="1.1"/><rect x="289.8" y="316.5" width="1.1" height="1.1"/><rect x="485.0" y="313.4" width="0.9" height="0.9"/><rect x="420.7" y="307.8" width="0.6" height="0.6"/><rect x="422.3" y="305.1" width="0.9" height="0.9"/><circle cx="399.6" cy="314.6" r="0.65"/><circle cx="480.5" cy="311.0" r="0.53"/><circle cx="512.1" cy="310.3" r="0.68"/><circle cx="442.5" cy="316.4" r="0.57"/><rect x="283.8" y="310.7" width="0.7" height="0.7"/><circle cx="472.4" cy="317.4" r="0.48"/><circle cx="413.6" cy="314.3" r="0.33"/><rect x="301.9" y="308.7" width="0.7" height="0.7"/><circle cx="318.5" cy="316.7" r="0.42"/><circle cx="523.2" cy="305.6" r="0.35"/><circle cx="280.9" cy="309.5" r="0.38"/><circle cx="267.2" cy="313.6" r="0.32"/><rect x="414.0" y="316.1" width="0.9" height="0.9"/><circle cx="450.0" cy="314.9" r="0.64"/><rect x="277.4" y="312.6" width="0.8" height="0.8"/><circle cx="471.8" cy="306.7" r="0.58"/><rect x="375.6" y="307.6" width="0.7" height="0.7"/><rect x="410.9" y="316.4" width="0.7" height="0.7"/><rect x="288.9" y="313.0" width="0.6" height="0.6"/><circle cx="520.7" cy="307.8" r="0.62"/><circle cx="344.5" cy="305.8" r="0.48"/><rect x="451.1" y="312.0" width="0.7" height="0.7"/><circle cx="325.3" cy="308.8" r="0.45"/><rect x="499.8" y="305.6" width="0.5" height="0.5"/><circle cx="481.5" cy="310.3" r="0.47"/><circle cx="263.3" cy="311.3" r="0.40"/><rect x="504.8" y="304.7" width="0.7" height="0.7"/><rect x="462.4" y="305.8" width="1.0" height="1.0"/><rect x="431.2" y="316.9" width="1.0" height="1.0"/><rect x="468.6" y="310.9" width="0.8" height="0.8"/><rect x="428.4" y="309.4" width="0.5" height="0.5"/><rect x="353.8" y="310.1" width="0.7" height="0.7"/><rect x="370.1" y="315.4" width="0.9" height="0.9"/><rect x="472.1" y="310.2" width="0.8" height="0.8"/><rect x="455.9" y="314.2" width="1.1" height="1.1"/><circle cx="411.2" cy="306.9" r="0.40"/><circle cx="396.2" cy="316.3" r="0.32"/><circle cx="460.6" cy="310.5" r="0.64"/><circle cx="468.9" cy="310.1" r="0.53"/><rect x="370.6" y="315.0" width="1.0" height="1.0"/><circle cx="375.9" cy="304.9" r="0.58"/><rect x="456.3" y="312.5" width="0.7" height="0.7"/><rect x="298.3" y="317.1" width="0.5" height="0.5"/><rect x="419.7" y="310.3" width="1.1" height="1.1"/><rect x="398.7" y="305.2" width="1.0" height="1.0"/><rect x="327.0" y="305.9" width="0.7" height="0.7"/><rect x="495.4" y="310.5" width="0.5" height="0.5"/><rect x="317.0" y="314.0" width="0.8" height="0.8"/><circle cx="302.4" cy="314.9" r="0.59"/><rect x="414.0" y="308.3" width="0.9" height="0.9"/><circle cx="440.9" cy="310.9" r="0.54"/><circle cx="387.9" cy="305.9" r="0.59"/><circle cx="403.7" cy="306.8" r="0.53"/><rect x="270.3" y="312.6" width="0.9" height="0.9"/><rect x="443.8" y="317.5" width="0.6" height="0.6"/><circle cx="432.9" cy="306.7" r="0.36"/><rect x="402.7" y="314.8" width="0.9" height="0.9"/><circle cx="283.7" cy="313.9" r="0.50"/><circle cx="428.1" cy="307.6" r="0.42"/><circle cx="463.6" cy="305.8" r="0.48"/><rect x="442.2" y="315.2" width="0.6" height="0.6"/><rect x="386.9" y="307.3" width="0.7" height="0.7"/><rect x="478.4" y="312.3" width="0.5" height="0.5"/><circle cx="417.9" cy="310.0" r="0.40"/><rect x="447.8" y="308.0" width="0.6" height="0.6"/><circle cx="381.0" cy="305.3" r="0.66"/><rect x="360.4" y="312.6" width="0.9" height="0.9"/><circle cx="310.0" cy="311.9" r="0.65"/><rect x="453.8" y="310.6" width="0.9" height="0.9"/><rect x="353.7" y="314.1" width="0.7" height="0.7"/><rect x="467.0" y="315.7" width="1.0" height="1.0"/><circle cx="516.8" cy="306.5" r="0.53"/><rect x="418.7" y="313.5" width="0.7" height="0.7"/><rect x="374.4" y="307.0" width="0.6" height="0.6"/><rect x="365.6" y="305.0" width="0.7" height="0.7"/><circle cx="389.1" cy="313.4" r="0.47"/><rect x="426.4" y="307.2" width="0.6" height="0.6"/><circle cx="443.4" cy="304.5" r="0.68"/><rect x="307.3" y="308.7" width="1.0" height="1.0"/><circle cx="461.4" cy="310.1" r="0.66"/><rect x="519.6" y="305.1" width="0.6" height="0.6"/><rect x="468.5" y="313.3" width="0.6" height="0.6"/><rect x="400.5" y="307.1" width="0.5" height="0.5"/><rect x="277.9" y="307.3" width="0.7" height="0.7"/><circle cx="484.8" cy="315.5" r="0.55"/><rect x="460.1" y="306.9" width="1.1" height="1.1"/><circle cx="280.6" cy="314.1" r="0.40"/><rect x="496.6" y="310.2" width="0.7" height="0.7"/><rect x="280.2" y="310.0" width="0.9" height="0.9"/><circle cx="295.7" cy="316.2" r="0.34"/><rect x="352.1" y="306.6" width="0.5" height="0.5"/><circle cx="369.5" cy="306.9" r="0.51"/><circle cx="444.9" cy="317.1" r="0.49"/><circle cx="369.4" cy="309.2" r="0.47"/><circle cx="342.1" cy="313.5" r="0.49"/><rect x="301.8" y="315.5" width="0.7" height="0.7"/><rect x="427.8" y="312.7" width="0.7" height="0.7"/><circle cx="373.8" cy="311.2" r="0.68"/><rect x="320.0" y="316.3" width="1.1" height="1.1"/><circle cx="492.7" cy="305.8" r="0.59"/><rect x="489.4" y="309.6" width="0.8" height="0.8"/><circle cx="317.9" cy="311.9" r="0.64"/><circle cx="380.2" cy="309.2" r="0.38"/><circle cx="486.7" cy="317.1" r="0.45"/><circle cx="353.0" cy="315.8" r="0.40"/><circle cx="347.2" cy="305.5" r="0.36"/><circle cx="436.9" cy="316.7" r="0.40"/><rect x="419.7" y="304.8" width="0.5" height="0.5"/><circle cx="387.1" cy="309.0" r="0.47"/><circle cx="332.4" cy="306.7" r="0.40"/><circle cx="480.8" cy="304.6" r="0.47"/><rect x="317.3" y="314.4" width="1.1" height="1.1"/><circle cx="351.4" cy="311.5" r="0.47"/><rect x="375.9" y="312.5" width="0.7" height="0.7"/><rect x="382.2" y="308.3" width="1.1" height="1.1"/><rect x="331.1" y="316.3" width="0.8" height="0.8"/><circle cx="388.1" cy="315.7" r="0.59"/><rect x="360.5" y="314.6" width="1.0" height="1.0"/><circle cx="496.0" cy="311.4" r="0.47"/><rect x="334.9" y="306.4" width="1.1" height="1.1"/><rect x="285.3" y="307.2" width="0.8" height="0.8"/><circle cx="491.6" cy="314.4" r="0.42"/><circle cx="516.0" cy="309.5" r="0.56"/><rect x="391.1" y="311.1" width="1.1" height="1.1"/><rect x="463.9" y="308.8" width="1.0" height="1.0"/><circle cx="283.4" cy="310.0" r="0.52"/><rect x="327.3" y="314.8" width="0.6" height="0.6"/><circle cx="268.3" cy="310.5" r="0.69"/><rect x="291.7" y="316.3" width="1.1" height="1.1"/><rect x="341.8" y="308.3" width="0.9" height="0.9"/><circle cx="382.2" cy="313.5" r="0.34"/><rect x="497.5" y="316.4" width="0.8" height="0.8"/><circle cx="499.2" cy="311.3" r="0.36"/><circle cx="442.2" cy="308.9" r="0.51"/><rect x="516.0" y="308.1" width="0.9" height="0.9"/><circle cx="358.0" cy="307.2" r="0.52"/><rect x="283.5" y="306.7" width="0.5" height="0.5"/><rect x="317.1" y="316.5" width="0.9" height="0.9"/><rect x="388.4" y="307.8" width="0.5" height="0.5"/><circle cx="448.6" cy="313.4" r="0.66"/><circle cx="435.3" cy="313.7" r="0.68"/><circle cx="511.6" cy="304.7" r="0.54"/><circle cx="401.5" cy="306.7" r="0.45"/><circle cx="386.8" cy="309.8" r="0.39"/><circle cx="387.8" cy="317.5" r="0.64"/><rect x="432.3" y="306.3" width="0.7" height="0.7"/><rect x="353.5" y="305.8" width="0.8" height="0.8"/><circle cx="399.4" cy="316.9" r="0.51"/><rect x="318.7" y="312.1" width="1.0" height="1.0"/><rect x="367.3" y="307.7" width="1.0" height="1.0"/><circle cx="419.2" cy="313.8" r="0.43"/><rect x="278.2" y="312.5" width="1.1" height="1.1"/><circle cx="442.7" cy="315.7" r="0.46"/><rect x="332.5" y="315.4" width="0.9" height="0.9"/><circle cx="471.0" cy="316.4" r="0.32"/><circle cx="387.9" cy="313.8" r="0.40"/><circle cx="440.2" cy="308.3" r="0.57"/><rect x="373.1" y="312.8" width="1.0" height="1.0"/><circle cx="440.5" cy="313.2" r="0.56"/><rect x="347.6" y="306.1" width="1.0" height="1.0"/><circle cx="436.9" cy="314.3" r="0.43"/><rect x="405.1" y="310.6" width="0.9" height="0.9"/><rect x="367.8" y="309.3" width="0.9" height="0.9"/><rect x="414.2" y="312.2" width="1.1" height="1.1"/><rect x="275.0" y="317.3" width="0.5" height="0.5"/><circle cx="396.5" cy="317.3" r="0.39"/><circle cx="519.0" cy="310.4" r="0.48"/><circle cx="337.0" cy="304.8" r="0.52"/><circle cx="396.3" cy="317.5" r="0.69"/><circle cx="352.3" cy="306.0" r="0.54"/><rect x="296.7" y="316.5" width="0.8" height="0.8"/><rect x="320.3" y="306.7" width="0.8" height="0.8"/><circle cx="310.6" cy="311.0" r="0.52"/><circle cx="346.9" cy="310.3" r="0.34"/><rect x="278.7" y="315.4" width="0.6" height="0.6"/><rect x="293.7" y="316.1" width="0.5" height="0.5"/><circle cx="404.9" cy="316.4" r="0.66"/><rect x="276.5" y="307.7" width="0.5" height="0.5"/><rect x="301.5" y="313.3" width="1.1" height="1.1"/><rect x="528.8" y="313.0" width="0.7" height="0.7"/><rect x="320.9" y="311.7" width="0.7" height="0.7"/><rect x="342.5" y="317.1" width="1.1" height="1.1"/><circle cx="395.7" cy="317.0" r="0.68"/><circle cx="499.3" cy="305.8" r="0.34"/><circle cx="362.0" cy="310.8" r="0.68"/><rect x="435.6" y="311.0" width="0.6" height="0.6"/><circle cx="507.5" cy="309.0" r="0.65"/><circle cx="442.8" cy="316.6" r="0.56"/><circle cx="277.0" cy="310.6" r="0.53"/><circle cx="416.9" cy="304.6" r="0.40"/><circle cx="391.7" cy="313.7" r="0.39"/><rect x="458.6" y="308.1" width="0.6" height="0.6"/><rect x="356.5" y="312.2" width="1.1" height="1.1"/><circle cx="474.3" cy="317.2" r="0.62"/><rect x="512.1" y="306.1" width="0.6" height="0.6"/><circle cx="295.9" cy="312.4" r="0.52"/><circle cx="461.5" cy="305.5" r="0.50"/><rect x="513.4" y="306.3" width="0.7" height="0.7"/><circle cx="343.9" cy="315.3" r="0.35"/><rect x="266.5" y="311.7" width="0.8" height="0.8"/><circle cx="389.1" cy="316.0" r="0.39"/><circle cx="329.3" cy="315.4" r="0.62"/><circle cx="263.3" cy="317.5" r="0.69"/><circle cx="405.0" cy="305.0" r="0.50"/><circle cx="445.2" cy="306.5" r="0.53"/><rect x="391.7" y="316.9" width="0.8" height="0.8"/><rect x="455.4" y="307.4" width="0.6" height="0.6"/><circle cx="470.4" cy="306.3" r="0.62"/></g><g clip-path="url(#c9)" stroke="#000" stroke-width="1.15"><line x1="243.6" y1="310.8" x2="265.1" y2="289.3"/><line x1="250.8" y1="310.8" x2="272.3" y2="289.3"/><line x1="258.0" y1="310.8" x2="279.5" y2="289.3"/><line x1="265.2" y1="310.8" x2="286.7" y2="289.3"/><line x1="272.4" y1="310.8" x2="293.9" y2="289.3"/><line x1="279.6" y1="310.8" x2="301.1" y2="289.3"/><line x1="286.8" y1="310.8" x2="308.3" y2="289.3"/><line x1="294.0" y1="310.8" x2="315.5" y2="289.3"/><line x1="301.2" y1="310.8" x2="322.7" y2="289.3"/><line x1="308.4" y1="310.8" x2="329.9" y2="289.3"/><line x1="315.6" y1="310.8" x2="337.1" y2="289.3"/><line x1="322.8" y1="310.8" x2="344.3" y2="289.3"/><line x1="330.0" y1="310.8" x2="351.5" y2="289.3"/><line x1="337.2" y1="310.8" x2="358.7" y2="289.3"/><line x1="344.4" y1="310.8" x2="365.9" y2="289.3"/><line x1="351.6" y1="310.8" x2="373.1" y2="289.3"/><line x1="358.8" y1="310.8" x2="380.3" y2="289.3"/><line x1="366.0" y1="310.8" x2="387.5" y2="289.3"/><line x1="373.2" y1="310.8" x2="394.7" y2="289.3"/><line x1="380.4" y1="310.8" x2="401.9" y2="289.3"/><line x1="387.6" y1="310.8" x2="409.1" y2="289.3"/><line x1="394.8" y1="310.8" x2="416.3" y2="289.3"/><line x1="402.0" y1="310.8" x2="423.5" y2="289.3"/><line x1="409.2" y1="310.8" x2="430.7" y2="289.3"/><line x1="416.4" y1="310.8" x2="437.9" y2="289.3"/><line x1="423.6" y1="310.8" x2="445.1" y2="289.3"/><line x1="430.8" y1="310.8" x2="452.3" y2="289.3"/><line x1="438.0" y1="310.8" x2="459.5" y2="289.3"/><line x1="445.2" y1="310.8" x2="466.7" y2="289.3"/><line x1="452.4" y1="310.8" x2="473.9" y2="289.3"/><line x1="459.6" y1="310.8" x2="481.1" y2="289.3"/><line x1="466.8" y1="310.8" x2="488.3" y2="289.3"/><line x1="474.0" y1="310.8" x2="495.5" y2="289.3"/><line x1="481.2" y1="310.8" x2="502.7" y2="289.3"/><line x1="488.4" y1="310.8" x2="509.9" y2="289.3"/><line x1="495.6" y1="310.8" x2="517.1" y2="289.3"/><line x1="502.8" y1="310.8" x2="524.3" y2="289.3"/><line x1="510.0" y1="310.8" x2="531.5" y2="289.3"/><line x1="517.2" y1="310.8" x2="538.7" y2="289.3"/><line x1="524.4" y1="310.8" x2="545.9" y2="289.3"/><line x1="531.6" y1="310.8" x2="553.1" y2="289.3"/></g><line x1="283.0" y1="291.5" x2="530.0" y2="296.2" stroke="#000" stroke-width="1.1" /><line x1="264.5" y1="304.4" x2="530.0" y2="308.8" stroke="#000" stroke-width="0.9" /><path d="M254,308.8 L320,309.2 L338,314.0 L530,317.6 L530,319.8 L338,316.6 L320,315.0 L254,314.6 Z" fill="#000"/><g clip-path="url(#c10)" fill="#000"><rect x="290.4" y="306.4" width="0.6" height="0.6"/><circle cx="304.6" cy="308.3" r="0.52"/><rect x="315.7" y="307.8" width="1.0" height="1.0"/><circle cx="323.4" cy="307.2" r="0.36"/><rect x="315.1" y="306.1" width="0.9" height="0.9"/><rect x="267.3" y="308.7" width="0.5" height="0.5"/><rect x="323.6" y="306.3" width="0.9" height="0.9"/><rect x="272.0" y="308.2" width="0.6" height="0.6"/><circle cx="312.6" cy="309.5" r="0.32"/><rect x="307.6" y="308.0" width="0.6" height="0.6"/><rect x="323.9" y="306.7" width="0.6" height="0.6"/><circle cx="292.3" cy="308.2" r="0.50"/><rect x="264.6" y="306.0" width="0.8" height="0.8"/><rect x="293.6" y="308.5" width="0.8" height="0.8"/><circle cx="310.2" cy="306.8" r="0.36"/><rect x="265.9" y="309.0" width="1.0" height="1.0"/><rect x="270.9" y="308.2" width="0.6" height="0.6"/><circle cx="310.2" cy="308.5" r="0.54"/><circle cx="324.1" cy="309.4" r="0.40"/><circle cx="315.8" cy="308.3" r="0.46"/><rect x="332.7" y="306.6" width="0.6" height="0.6"/><rect x="282.9" y="309.2" width="0.7" height="0.7"/><rect x="290.3" y="309.1" width="1.0" height="1.0"/><circle cx="278.4" cy="306.1" r="0.31"/><rect x="311.0" y="305.7" width="0.6" height="0.6"/><rect x="274.2" y="306.8" width="0.6" height="0.6"/><rect x="271.5" y="309.6" width="0.9" height="0.9"/><rect x="302.8" y="307.5" width="1.1" height="1.1"/><rect x="322.2" y="305.5" width="0.9" height="0.9"/><circle cx="309.0" cy="307.6" r="0.56"/><rect x="315.4" y="308.7" width="0.5" height="0.5"/><rect x="305.9" y="306.9" width="0.9" height="0.9"/><rect x="328.2" y="306.7" width="0.6" height="0.6"/><circle cx="307.1" cy="308.9" r="0.65"/><rect x="305.3" y="306.7" width="1.0" height="1.0"/><circle cx="280.2" cy="307.5" r="0.54"/><circle cx="276.1" cy="307.4" r="0.33"/><rect x="330.7" y="308.9" width="0.5" height="0.5"/><rect x="314.6" y="308.4" width="0.5" height="0.5"/><circle cx="277.1" cy="308.8" r="0.43"/><rect x="275.4" y="309.0" width="0.6" height="0.6"/><rect x="300.0" y="306.0" width="0.9" height="0.9"/><circle cx="264.9" cy="308.9" r="0.41"/><circle cx="318.2" cy="308.5" r="0.45"/><circle cx="300.9" cy="307.9" r="0.58"/><circle cx="303.9" cy="308.4" r="0.38"/><rect x="297.9" y="308.6" width="1.0" height="1.0"/><circle cx="294.6" cy="308.4" r="0.34"/><rect x="267.8" y="308.9" width="1.1" height="1.1"/><circle cx="317.2" cy="307.0" r="0.62"/><circle cx="289.7" cy="306.9" r="0.65"/><circle cx="274.5" cy="305.8" r="0.64"/><circle cx="328.0" cy="306.7" r="0.63"/><rect x="328.0" y="309.5" width="1.0" height="1.0"/><circle cx="327.5" cy="309.2" r="0.69"/><circle cx="324.2" cy="308.7" r="0.44"/><rect x="327.8" y="307.4" width="0.8" height="0.8"/><rect x="297.8" y="306.5" width="0.9" height="0.9"/><circle cx="282.6" cy="308.3" r="0.66"/><circle cx="321.5" cy="308.6" r="0.51"/><rect x="310.9" y="306.6" width="0.6" height="0.6"/><rect x="282.5" y="305.8" width="1.0" height="1.0"/><rect x="285.0" y="307.1" width="0.8" height="0.8"/><rect x="263.9" y="308.1" width="0.6" height="0.6"/><rect x="292.9" y="309.4" width="0.8" height="0.8"/><circle cx="265.7" cy="306.3" r="0.42"/><rect x="275.5" y="307.2" width="0.5" height="0.5"/><rect x="332.3" y="309.0" width="0.9" height="0.9"/><circle cx="315.5" cy="308.1" r="0.48"/><rect x="327.3" y="309.2" width="1.0" height="1.0"/><rect x="321.5" y="309.4" width="1.1" height="1.1"/><circle cx="264.2" cy="309.4" r="0.53"/><rect x="294.0" y="306.5" width="0.5" height="0.5"/><rect x="307.5" y="305.8" width="1.1" height="1.1"/><circle cx="325.3" cy="307.7" r="0.45"/><rect x="289.7" y="309.4" width="1.1" height="1.1"/><circle cx="300.4" cy="307.5" r="0.57"/><circle cx="276.3" cy="309.5" r="0.41"/><circle cx="298.4" cy="305.8" r="0.51"/><circle cx="322.7" cy="305.7" r="0.62"/><circle cx="319.7" cy="308.8" r="0.68"/><circle cx="333.9" cy="306.0" r="0.44"/><rect x="298.6" y="305.7" width="0.8" height="0.8"/><rect x="319.3" y="308.1" width="0.5" height="0.5"/><circle cx="289.3" cy="309.4" r="0.36"/><circle cx="331.2" cy="308.5" r="0.37"/><circle cx="302.1" cy="306.5" r="0.39"/><circle cx="299.7" cy="307.1" r="0.44"/><circle cx="288.0" cy="307.0" r="0.61"/><circle cx="269.9" cy="307.3" r="0.42"/><rect x="324.9" y="309.4" width="1.0" height="1.0"/><circle cx="279.6" cy="306.9" r="0.34"/><rect x="281.8" y="306.4" width="0.7" height="0.7"/><rect x="300.1" y="309.2" width="0.8" height="0.8"/><rect x="311.2" y="307.9" width="1.1" height="1.1"/><circle cx="299.3" cy="306.4" r="0.34"/><circle cx="292.2" cy="305.9" r="0.68"/><rect x="294.8" y="306.4" width="0.7" height="0.7"/><rect x="332.4" y="307.1" width="0.9" height="0.9"/><rect x="283.9" y="307.1" width="0.8" height="0.8"/><rect x="284.8" y="309.2" width="0.6" height="0.6"/><rect x="308.4" y="305.5" width="0.7" height="0.7"/><rect x="291.9" y="305.6" width="0.8" height="0.8"/><rect x="296.8" y="307.2" width="1.1" height="1.1"/><circle cx="295.0" cy="307.3" r="0.61"/><circle cx="297.7" cy="308.6" r="0.34"/><rect x="266.7" y="308.2" width="1.0" height="1.0"/><circle cx="307.6" cy="305.5" r="0.45"/><circle cx="287.2" cy="306.5" r="0.45"/><circle cx="268.0" cy="307.8" r="0.31"/><circle cx="291.9" cy="308.8" r="0.58"/><rect x="263.4" y="308.4" width="0.9" height="0.9"/><rect x="334.3" y="307.5" width="0.7" height="0.7"/><rect x="270.5" y="308.0" width="0.6" height="0.6"/><rect x="307.1" y="308.3" width="0.6" height="0.6"/><circle cx="330.9" cy="309.5" r="0.61"/><circle cx="318.7" cy="306.1" r="0.69"/><rect x="264.2" y="307.1" width="0.5" height="0.5"/><circle cx="330.0" cy="306.5" r="0.65"/><circle cx="321.9" cy="305.9" r="0.68"/><circle cx="280.0" cy="307.3" r="0.30"/><rect x="297.2" y="307.9" width="1.1" height="1.1"/><rect x="287.2" y="306.5" width="0.5" height="0.5"/><rect x="313.4" y="306.5" width="1.0" height="1.0"/><rect x="309.0" y="307.3" width="1.0" height="1.0"/><rect x="317.6" y="306.2" width="0.8" height="0.8"/><circle cx="331.5" cy="307.5" r="0.49"/><circle cx="267.6" cy="306.5" r="0.57"/><rect x="317.4" y="308.1" width="0.7" height="0.7"/><rect x="323.1" y="305.5" width="0.9" height="0.9"/><rect x="332.6" y="306.8" width="0.9" height="0.9"/><rect x="284.8" y="308.7" width="1.0" height="1.0"/><rect x="292.8" y="305.9" width="0.8" height="0.8"/><rect x="328.8" y="308.6" width="0.8" height="0.8"/><circle cx="324.2" cy="308.0" r="0.41"/><rect x="305.2" y="305.5" width="0.7" height="0.7"/><circle cx="281.6" cy="308.3" r="0.59"/><circle cx="306.3" cy="309.1" r="0.59"/><rect x="334.6" y="308.2" width="0.6" height="0.6"/><rect x="319.4" y="309.1" width="1.0" height="1.0"/><rect x="291.2" y="308.6" width="1.0" height="1.0"/><rect x="278.5" y="309.5" width="0.8" height="0.8"/><circle cx="300.2" cy="308.7" r="0.54"/><rect x="298.3" y="308.9" width="0.7" height="0.7"/><rect x="315.7" y="308.7" width="0.8" height="0.8"/><rect x="308.8" y="307.1" width="0.5" height="0.5"/><rect x="312.7" y="307.7" width="0.7" height="0.7"/><circle cx="270.5" cy="308.1" r="0.33"/><rect x="268.7" y="309.4" width="1.1" height="1.1"/><circle cx="330.5" cy="306.3" r="0.56"/><circle cx="270.8" cy="307.8" r="0.34"/><circle cx="273.3" cy="306.4" r="0.66"/><circle cx="302.6" cy="306.0" r="0.36"/><rect x="313.5" y="307.8" width="1.0" height="1.0"/><rect x="281.1" y="307.1" width="0.7" height="0.7"/><rect x="313.6" y="308.9" width="0.9" height="0.9"/><circle cx="318.1" cy="305.4" r="0.33"/><rect x="327.3" y="306.3" width="0.8" height="0.8"/><circle cx="279.1" cy="306.6" r="0.65"/><circle cx="322.9" cy="307.4" r="0.58"/><circle cx="311.9" cy="308.4" r="0.47"/><circle cx="293.9" cy="308.5" r="0.30"/><circle cx="288.3" cy="308.3" r="0.50"/><circle cx="326.3" cy="307.8" r="0.66"/><circle cx="331.4" cy="307.8" r="0.44"/><rect x="320.6" y="306.1" width="1.0" height="1.0"/></g><path d="M254.2,184 L256.8,186 L257,240 L260.6,258 L260.6,312 L254.2,314 Z" fill="#000"/><g clip-path="url(#c11)" fill="#000"><circle cx="260.2" cy="282.5" r="0.83"/><circle cx="261.7" cy="271.2" r="0.68"/><circle cx="257.2" cy="235.6" r="0.72"/><rect x="260.1" y="228.2" width="1.2" height="1.2"/><rect x="259.5" y="303.8" width="0.6" height="0.6"/><rect x="262.4" y="209.8" width="1.1" height="1.1"/><rect x="262.9" y="216.3" width="1.0" height="1.0"/><rect x="261.0" y="227.3" width="0.6" height="0.6"/><rect x="259.9" y="303.6" width="0.7" height="0.7"/><circle cx="262.0" cy="295.1" r="0.36"/><rect x="257.3" y="276.5" width="0.8" height="0.8"/><circle cx="259.3" cy="279.0" r="0.78"/><circle cx="260.5" cy="299.3" r="0.61"/><rect x="258.7" y="280.3" width="0.7" height="0.7"/><rect x="260.4" y="254.4" width="0.7" height="0.7"/><rect x="262.7" y="228.4" width="0.8" height="0.8"/><rect x="260.6" y="223.3" width="0.6" height="0.6"/><rect x="259.2" y="244.9" width="0.8" height="0.8"/><rect x="261.5" y="227.4" width="0.6" height="0.6"/><rect x="262.6" y="195.3" width="1.0" height="1.0"/><rect x="259.5" y="274.2" width="1.3" height="1.3"/><circle cx="259.4" cy="214.7" r="0.48"/><rect x="257.7" y="216.6" width="1.2" height="1.2"/><circle cx="262.0" cy="295.1" r="0.76"/><rect x="262.7" y="203.3" width="1.2" height="1.2"/><circle cx="261.1" cy="237.8" r="0.39"/><circle cx="260.9" cy="219.8" r="0.62"/><circle cx="258.0" cy="225.8" r="0.71"/><rect x="259.4" y="247.0" width="1.0" height="1.0"/><circle cx="259.8" cy="300.4" r="0.73"/><circle cx="259.0" cy="214.0" r="0.53"/><rect x="261.6" y="256.0" width="0.9" height="0.9"/><rect x="259.0" y="257.2" width="1.3" height="1.3"/><rect x="260.8" y="233.8" width="1.4" height="1.4"/><rect x="258.9" y="232.5" width="1.0" height="1.0"/><rect x="260.2" y="214.3" width="1.0" height="1.0"/><rect x="261.7" y="242.9" width="0.9" height="0.9"/><circle cx="260.3" cy="245.7" r="0.36"/><rect x="263.1" y="284.7" width="0.9" height="0.9"/><rect x="258.3" y="222.7" width="1.0" height="1.0"/><rect x="257.2" y="245.4" width="1.3" height="1.3"/><rect x="263.2" y="204.0" width="1.3" height="1.3"/><circle cx="257.2" cy="252.6" r="0.73"/><circle cx="261.0" cy="287.4" r="0.75"/><rect x="257.4" y="252.8" width="0.7" height="0.7"/><rect x="258.7" y="231.6" width="1.0" height="1.0"/><rect x="263.0" y="238.0" width="0.6" height="0.6"/><circle cx="259.1" cy="277.1" r="0.77"/><circle cx="261.5" cy="224.6" r="0.51"/><circle cx="260.3" cy="220.0" r="0.60"/><circle cx="257.8" cy="220.7" r="0.69"/><rect x="258.2" y="233.6" width="0.7" height="0.7"/><circle cx="261.9" cy="209.8" r="0.50"/><rect x="260.3" y="236.1" width="1.0" height="1.0"/><rect x="258.0" y="255.1" width="0.7" height="0.7"/><rect x="259.0" y="282.2" width="1.3" height="1.3"/><rect x="259.5" y="261.5" width="0.7" height="0.7"/><rect x="261.8" y="240.4" width="0.8" height="0.8"/><circle cx="261.7" cy="281.7" r="0.49"/><circle cx="258.6" cy="214.2" r="0.35"/><circle cx="260.1" cy="240.8" r="0.79"/><circle cx="258.1" cy="296.3" r="0.39"/><rect x="261.7" y="228.7" width="1.3" height="1.3"/><rect x="258.9" y="288.8" width="1.3" height="1.3"/><rect x="257.9" y="204.6" width="1.2" height="1.2"/><circle cx="261.1" cy="278.9" r="0.75"/><circle cx="258.3" cy="289.3" r="0.77"/><rect x="258.7" y="201.7" width="0.9" height="0.9"/><rect x="258.3" y="228.1" width="0.6" height="0.6"/><circle cx="257.4" cy="267.9" r="0.60"/><rect x="258.6" y="226.6" width="1.3" height="1.3"/><circle cx="261.7" cy="216.6" r="0.45"/><rect x="262.4" y="297.7" width="0.7" height="0.7"/><rect x="259.4" y="243.6" width="0.7" height="0.7"/><circle cx="261.8" cy="297.3" r="0.59"/><rect x="261.0" y="207.6" width="1.3" height="1.3"/><rect x="258.4" y="237.6" width="0.9" height="0.9"/><rect x="261.3" y="219.5" width="1.3" height="1.3"/><circle cx="262.3" cy="247.7" r="0.59"/><circle cx="263.1" cy="246.4" r="0.83"/><circle cx="257.2" cy="245.4" r="0.45"/><circle cx="257.2" cy="206.8" r="0.57"/><circle cx="258.8" cy="261.0" r="0.48"/><rect x="259.3" y="222.2" width="1.0" height="1.0"/><rect x="257.2" y="252.5" width="1.0" height="1.0"/><rect x="261.4" y="223.5" width="1.1" height="1.1"/><circle cx="262.9" cy="278.2" r="0.40"/><circle cx="260.0" cy="229.5" r="0.73"/><circle cx="263.1" cy="193.9" r="0.75"/><rect x="260.2" y="209.5" width="0.9" height="0.9"/><circle cx="262.9" cy="197.5" r="0.55"/><rect x="261.6" y="208.9" width="0.7" height="0.7"/><rect x="257.3" y="291.3" width="0.8" height="0.8"/><circle cx="257.7" cy="203.7" r="0.59"/><circle cx="261.0" cy="226.6" r="0.52"/><rect x="257.5" y="193.3" width="0.9" height="0.9"/><rect x="260.3" y="228.9" width="0.9" height="0.9"/><circle cx="262.4" cy="203.3" r="0.67"/><rect x="262.8" y="273.5" width="1.0" height="1.0"/><circle cx="261.7" cy="200.9" r="0.51"/><circle cx="258.0" cy="296.0" r="0.64"/><rect x="258.8" y="239.6" width="0.6" height="0.6"/><circle cx="259.4" cy="199.3" r="0.61"/><rect x="261.7" y="222.2" width="0.8" height="0.8"/><rect x="259.5" y="207.4" width="1.1" height="1.1"/><rect x="262.2" y="266.0" width="0.9" height="0.9"/><rect x="258.3" y="204.0" width="0.7" height="0.7"/><rect x="258.3" y="241.4" width="1.2" height="1.2"/><circle cx="258.2" cy="206.5" r="0.35"/><circle cx="258.6" cy="272.0" r="0.76"/></g><g clip-path="url(#c12)" stroke="#000" stroke-width="1.3"><line x1="165.5" y1="285.0" x2="259.5" y2="191.0"/><line x1="172.0" y1="285.0" x2="266.0" y2="191.0"/><line x1="178.5" y1="285.0" x2="272.5" y2="191.0"/><line x1="185.0" y1="285.0" x2="279.0" y2="191.0"/><line x1="191.5" y1="285.0" x2="285.5" y2="191.0"/><line x1="198.0" y1="285.0" x2="292.0" y2="191.0"/><line x1="204.5" y1="285.0" x2="298.5" y2="191.0"/><line x1="211.0" y1="285.0" x2="305.0" y2="191.0"/><line x1="217.5" y1="285.0" x2="311.5" y2="191.0"/><line x1="224.0" y1="285.0" x2="318.0" y2="191.0"/><line x1="230.5" y1="285.0" x2="324.5" y2="191.0"/><line x1="237.0" y1="285.0" x2="331.0" y2="191.0"/><line x1="243.5" y1="285.0" x2="337.5" y2="191.0"/><line x1="250.0" y1="285.0" x2="344.0" y2="191.0"/><line x1="256.5" y1="285.0" x2="350.5" y2="191.0"/><line x1="263.0" y1="285.0" x2="357.0" y2="191.0"/><line x1="269.5" y1="285.0" x2="363.5" y2="191.0"/></g><line x1="263.2" y1="193.0" x2="263.2" y2="284.0" stroke="#000" stroke-width="1.0" /><line x1="271.3" y1="193.0" x2="271.3" y2="280.0" stroke="#000" stroke-width="1.1" /><path d="M254.3,179 C255,187 260,189.5 271.5,192.3 L271.5,194 L263,194 L256,193 Z" fill="#000"/><path d="M271.2,274 C271.8,285 275.5,290 285,291.4 L264.5,291.6 L264.5,283 L271.2,283 Z" fill="#000"/><path d="M264.5,285.5 C266,283.5 270,283.8 271.5,285.8 C272.5,287.5 270.5,289.8 267.5,289.6 C265.5,289.4 263.8,287.5 264.5,285.5 Z" fill="#bbb" stroke="#000" stroke-width="0.8"/><polyline points="530.5,283 530.5,361.6 523.3,366 539.3,366.5 530.5,371.2 530.5,491" fill="none" stroke="#000" stroke-width="1.1" stroke-linejoin="miter"/><path d="M533,365.6 L539.5,366.3 L535,368.5 Z" fill="#000"/><g clip-path="url(#c13)" stroke="#000" stroke-width="1.1"><line x1="-174.0" y1="557.5" x2="70.0" y2="333.0" stroke-dasharray="90 5" stroke-dashoffset="9.9"/><line x1="-157.5" y1="557.5" x2="86.5" y2="333.0" stroke-dasharray="40 12" stroke-dashoffset="23.6"/><line x1="-141.0" y1="557.5" x2="103.0" y2="333.0" stroke-dasharray="90 5" stroke-dashoffset="37.3"/><line x1="-124.5" y1="557.5" x2="119.5" y2="333.0" stroke-dasharray="40 12" stroke-dashoffset="11.0"/><line x1="-108.0" y1="557.5" x2="136.0" y2="333.0" stroke-dasharray="90 5" stroke-dashoffset="24.7"/><line x1="-91.5" y1="557.5" x2="152.5" y2="333.0" stroke-dasharray="40 12" stroke-dashoffset="38.4"/><line x1="-75.0" y1="557.5" x2="169.0" y2="333.0" stroke-dasharray="90 5" stroke-dashoffset="12.1"/><line x1="-58.5" y1="557.5" x2="185.5" y2="333.0" stroke-dasharray="40 12" stroke-dashoffset="25.8"/><line x1="-42.0" y1="557.5" x2="202.0" y2="333.0" stroke-dasharray="90 5" stroke-dashoffset="39.5"/><line x1="-25.5" y1="557.5" x2="218.5" y2="333.0" stroke-dasharray="40 12" stroke-dashoffset="13.2"/><line x1="-9.0" y1="557.5" x2="235.0" y2="333.0" stroke-dasharray="90 5" stroke-dashoffset="26.9"/><line x1="7.5" y1="557.5" x2="251.5" y2="333.0" stroke-dasharray="40 12" stroke-dashoffset="0.6"/><line x1="24.0" y1="557.5" x2="268.0" y2="333.0" stroke-dasharray="90 5" stroke-dashoffset="14.3"/><line x1="40.5" y1="557.5" x2="284.5" y2="333.0" stroke-dasharray="40 12" stroke-dashoffset="28.0"/><line x1="57.0" y1="557.5" x2="301.0" y2="333.0" stroke-dasharray="90 5" stroke-dashoffset="1.7"/><line x1="73.5" y1="557.5" x2="317.5" y2="333.0" stroke-dasharray="40 12" stroke-dashoffset="15.4"/><line x1="90.0" y1="557.5" x2="334.0" y2="333.0" stroke-dasharray="90 5" stroke-dashoffset="29.1"/><line x1="106.5" y1="557.5" x2="350.5" y2="333.0" stroke-dasharray="40 12" stroke-dashoffset="2.8"/><line x1="123.0" y1="557.5" x2="367.0" y2="333.0" stroke-dasharray="90 5" stroke-dashoffset="16.5"/><line x1="139.5" y1="557.5" x2="383.5" y2="333.0" stroke-dasharray="40 12" stroke-dashoffset="30.2"/><line x1="156.0" y1="557.5" x2="400.0" y2="333.0" stroke-dasharray="90 5" stroke-dashoffset="3.9"/><line x1="172.5" y1="557.5" x2="416.5" y2="333.0" stroke-dasharray="40 12" stroke-dashoffset="17.6"/><line x1="189.0" y1="557.5" x2="433.0" y2="333.0" stroke-dasharray="90 5" stroke-dashoffset="31.3"/><line x1="205.5" y1="557.5" x2="449.5" y2="333.0" stroke-dasharray="40 12" stroke-dashoffset="5.0"/><line x1="222.0" y1="557.5" x2="466.0" y2="333.0" stroke-dasharray="90 5" stroke-dashoffset="18.7"/><line x1="238.5" y1="557.5" x2="482.5" y2="333.0" stroke-dasharray="40 12" stroke-dashoffset="32.4"/><line x1="255.0" y1="557.5" x2="499.0" y2="333.0" stroke-dasharray="90 5" stroke-dashoffset="6.1"/><line x1="271.5" y1="557.5" x2="515.5" y2="333.0" stroke-dasharray="40 12" stroke-dashoffset="19.8"/><line x1="288.0" y1="557.5" x2="532.0" y2="333.0" stroke-dasharray="90 5" stroke-dashoffset="33.5"/><line x1="304.5" y1="557.5" x2="548.5" y2="333.0" stroke-dasharray="40 12" stroke-dashoffset="7.2"/><line x1="321.0" y1="557.5" x2="565.0" y2="333.0" stroke-dasharray="90 5" stroke-dashoffset="20.9"/><line x1="337.5" y1="557.5" x2="581.5" y2="333.0" stroke-dasharray="40 12" stroke-dashoffset="34.6"/><line x1="354.0" y1="557.5" x2="598.0" y2="333.0" stroke-dasharray="90 5" stroke-dashoffset="8.3"/><line x1="370.5" y1="557.5" x2="614.5" y2="333.0" stroke-dasharray="40 12" stroke-dashoffset="22.0"/><line x1="387.0" y1="557.5" x2="631.0" y2="333.0" stroke-dasharray="90 5" stroke-dashoffset="35.7"/><line x1="403.5" y1="557.5" x2="647.5" y2="333.0" stroke-dasharray="40 12" stroke-dashoffset="9.4"/><line x1="420.0" y1="557.5" x2="664.0" y2="333.0" stroke-dasharray="90 5" stroke-dashoffset="23.1"/><line x1="436.5" y1="557.5" x2="680.5" y2="333.0" stroke-dasharray="40 12" stroke-dashoffset="36.8"/><line x1="453.0" y1="557.5" x2="697.0" y2="333.0" stroke-dasharray="90 5" stroke-dashoffset="10.5"/><line x1="469.5" y1="557.5" x2="713.5" y2="333.0" stroke-dasharray="40 12" stroke-dashoffset="24.2"/><line x1="486.0" y1="557.5" x2="730.0" y2="333.0" stroke-dasharray="90 5" stroke-dashoffset="37.9"/><line x1="502.5" y1="557.5" x2="746.5" y2="333.0" stroke-dasharray="40 12" stroke-dashoffset="11.6"/><line x1="519.0" y1="557.5" x2="763.0" y2="333.0" stroke-dasharray="90 5" stroke-dashoffset="25.3"/><line x1="535.5" y1="557.5" x2="779.5" y2="333.0" stroke-dasharray="40 12" stroke-dashoffset="39.0"/></g><line x1="78.6" y1="335.0" x2="78.6" y2="428.0" stroke="#000" stroke-width="1.0" /><line x1="78.6" y1="475.0" x2="78.6" y2="555.5" stroke="#000" stroke-width="1.0" /><line x1="78.6" y1="456.2" x2="163.5" y2="456.2" stroke="#000" stroke-width="1.0" /><line x1="164.6" y1="410.5" x2="530.5" y2="410.5" stroke="#000" stroke-width="1.0" /><line x1="164.6" y1="410.5" x2="164.6" y2="555.5" stroke="#000" stroke-width="1.1" /><line x1="170.5" y1="416.5" x2="530.5" y2="416.5" stroke="#000" stroke-width="1.0" /><line x1="170.5" y1="416.5" x2="170.5" y2="420.8" stroke="#000" stroke-width="0.9" /><rect x="252.6" y="410.8" width="89.2" height="5.6" fill="#000" /><rect x="373.0" y="410.8" width="46.3" height="5.6" fill="#000" /><rect x="444.0" y="410.8" width="44.8" height="5.6" fill="#000" /><rect x="164.2" y="420.8" width="6.4" height="135.0" fill="#000" /><rect x="165.4" y="466.5" width="4.0" height="43.0" fill="#fff" /><g clip-path="url(#c14)" stroke="#000" stroke-width="1.15"><line x1="24.9" y1="557.5" x2="167.9" y2="414.5"/><line x1="38.7" y1="557.5" x2="181.7" y2="414.5"/><line x1="52.5" y1="557.5" x2="195.5" y2="414.5"/><line x1="66.2" y1="557.5" x2="209.2" y2="414.5"/><line x1="80.0" y1="557.5" x2="223.0" y2="414.5"/><line x1="93.8" y1="557.5" x2="236.8" y2="414.5"/><line x1="107.6" y1="557.5" x2="250.6" y2="414.5"/><line x1="121.3" y1="557.5" x2="264.3" y2="414.5"/><line x1="135.1" y1="557.5" x2="278.1" y2="414.5"/><line x1="148.9" y1="557.5" x2="291.9" y2="414.5"/><line x1="162.6" y1="557.5" x2="305.6" y2="414.5"/><line x1="176.4" y1="557.5" x2="319.4" y2="414.5"/><line x1="190.2" y1="557.5" x2="333.2" y2="414.5"/><line x1="204.0" y1="557.5" x2="347.0" y2="414.5"/><line x1="217.7" y1="557.5" x2="360.7" y2="414.5"/><line x1="231.5" y1="557.5" x2="374.5" y2="414.5"/><line x1="245.3" y1="557.5" x2="388.3" y2="414.5"/></g><g clip-path="url(#c15)" stroke="#000" stroke-width="1.15"><line x1="166.7" y1="557.5" x2="23.7" y2="414.5"/><line x1="180.5" y1="557.5" x2="37.5" y2="414.5"/><line x1="194.3" y1="557.5" x2="51.3" y2="414.5"/><line x1="208.1" y1="557.5" x2="65.1" y2="414.5"/><line x1="221.8" y1="557.5" x2="78.8" y2="414.5"/><line x1="235.6" y1="557.5" x2="92.6" y2="414.5"/><line x1="249.4" y1="557.5" x2="106.4" y2="414.5"/><line x1="263.1" y1="557.5" x2="120.1" y2="414.5"/><line x1="276.9" y1="557.5" x2="133.9" y2="414.5"/><line x1="290.7" y1="557.5" x2="147.7" y2="414.5"/><line x1="304.4" y1="557.5" x2="161.4" y2="414.5"/><line x1="318.2" y1="557.5" x2="175.2" y2="414.5"/><line x1="332.0" y1="557.5" x2="189.0" y2="414.5"/><line x1="345.8" y1="557.5" x2="202.8" y2="414.5"/><line x1="359.5" y1="557.5" x2="216.5" y2="414.5"/><line x1="373.3" y1="557.5" x2="230.3" y2="414.5"/><line x1="387.1" y1="557.5" x2="244.1" y2="414.5"/></g><line x1="237.2" y1="416.5" x2="237.2" y2="555.5" stroke="#000" stroke-width="1.0" /><g clip-path="url(#c16)" stroke="#000" stroke-width="1.15"><line x1="169.5" y1="466.4" x2="221.4" y2="414.5"/><line x1="190.0" y1="466.4" x2="241.9" y2="414.5"/><line x1="210.5" y1="466.4" x2="262.4" y2="414.5"/><line x1="230.9" y1="466.4" x2="282.8" y2="414.5"/><line x1="251.4" y1="466.4" x2="303.2" y2="414.5"/><line x1="271.8" y1="466.4" x2="323.7" y2="414.5"/><line x1="292.2" y1="466.4" x2="344.1" y2="414.5"/><line x1="312.7" y1="466.4" x2="364.6" y2="414.5"/><line x1="333.1" y1="466.4" x2="385.0" y2="414.5"/><line x1="353.6" y1="466.4" x2="405.5" y2="414.5"/><line x1="374.0" y1="466.4" x2="425.9" y2="414.5"/><line x1="394.5" y1="466.4" x2="446.4" y2="414.5"/><line x1="415.0" y1="466.4" x2="466.9" y2="414.5"/><line x1="435.4" y1="466.4" x2="487.3" y2="414.5"/><line x1="455.9" y1="466.4" x2="507.8" y2="414.5"/><line x1="476.3" y1="466.4" x2="528.2" y2="414.5"/><line x1="496.8" y1="466.4" x2="548.6" y2="414.5"/><line x1="517.2" y1="466.4" x2="569.1" y2="414.5"/><line x1="537.6" y1="466.4" x2="589.5" y2="414.5"/></g><g clip-path="url(#c17)" stroke="#000" stroke-width="1.15"><line x1="219.5" y1="466.4" x2="167.6" y2="414.5"/><line x1="239.9" y1="466.4" x2="188.0" y2="414.5"/><line x1="260.4" y1="466.4" x2="208.5" y2="414.5"/><line x1="280.8" y1="466.4" x2="228.9" y2="414.5"/><line x1="301.2" y1="466.4" x2="249.4" y2="414.5"/><line x1="321.7" y1="466.4" x2="269.8" y2="414.5"/><line x1="342.1" y1="466.4" x2="290.2" y2="414.5"/><line x1="362.6" y1="466.4" x2="310.7" y2="414.5"/><line x1="383.0" y1="466.4" x2="331.1" y2="414.5"/><line x1="403.5" y1="466.4" x2="351.6" y2="414.5"/><line x1="423.9" y1="466.4" x2="372.1" y2="414.5"/><line x1="444.4" y1="466.4" x2="392.5" y2="414.5"/><line x1="464.8" y1="466.4" x2="412.9" y2="414.5"/><line x1="485.3" y1="466.4" x2="433.4" y2="414.5"/><line x1="505.8" y1="466.4" x2="453.9" y2="414.5"/><line x1="526.2" y1="466.4" x2="474.3" y2="414.5"/><line x1="546.6" y1="466.4" x2="494.8" y2="414.5"/><line x1="567.1" y1="466.4" x2="515.2" y2="414.5"/><line x1="587.5" y1="466.4" x2="535.6" y2="414.5"/></g><line x1="258.0" y1="464.4" x2="530.5" y2="464.4" stroke="#000" stroke-width="1.1" /><line x1="258.0" y1="474.8" x2="530.5" y2="474.8" stroke="#000" stroke-width="1.1" /><line x1="264.0" y1="468.2" x2="530.5" y2="468.2" stroke="#000" stroke-width="1.2" stroke-dasharray="4.2 6.5"/><g clip-path="url(#c18)" fill="#000"><rect x="251.4" y="535.7" width="1.1" height="1.1"/><circle cx="245.6" cy="554.9" r="0.56"/><circle cx="242.9" cy="488.0" r="0.58"/><rect x="239.7" y="494.0" width="0.9" height="0.9"/><rect x="241.6" y="470.8" width="0.8" height="0.8"/><circle cx="245.5" cy="531.0" r="0.84"/><circle cx="239.5" cy="530.5" r="0.82"/><rect x="251.0" y="491.6" width="1.4" height="1.4"/><rect x="253.7" y="551.0" width="0.8" height="0.8"/><circle cx="252.5" cy="537.2" r="0.61"/><circle cx="250.3" cy="473.9" r="0.79"/><circle cx="246.8" cy="508.0" r="0.47"/><rect x="247.8" y="497.9" width="1.4" height="1.4"/><circle cx="255.8" cy="486.6" r="0.41"/><circle cx="239.8" cy="528.4" r="0.54"/><circle cx="243.3" cy="501.0" r="0.80"/><circle cx="243.7" cy="525.9" r="0.42"/><circle cx="251.6" cy="532.7" r="0.46"/><circle cx="247.9" cy="524.0" r="0.41"/><circle cx="243.1" cy="472.1" r="0.49"/><rect x="247.1" y="474.6" width="1.2" height="1.2"/><rect x="251.5" y="470.6" width="1.2" height="1.2"/><rect x="237.7" y="499.3" width="1.2" height="1.2"/><rect x="256.5" y="516.1" width="1.2" height="1.2"/><rect x="241.8" y="510.6" width="0.7" height="0.7"/><rect x="250.9" y="483.5" width="0.8" height="0.8"/><rect x="252.9" y="476.7" width="0.9" height="0.9"/><rect x="242.9" y="544.7" width="1.3" height="1.3"/><rect x="250.6" y="526.3" width="0.9" height="0.9"/><rect x="246.3" y="507.8" width="0.7" height="0.7"/><rect x="240.7" y="506.0" width="1.5" height="1.5"/><circle cx="255.3" cy="488.1" r="0.66"/><rect x="244.1" y="497.9" width="1.0" height="1.0"/><rect x="257.4" y="473.0" width="1.2" height="1.2"/><circle cx="246.0" cy="468.1" r="0.60"/><circle cx="245.0" cy="518.3" r="0.60"/><rect x="243.1" y="553.1" width="1.0" height="1.0"/><rect x="240.9" y="524.7" width="1.1" height="1.1"/><circle cx="248.0" cy="543.7" r="0.72"/><rect x="251.5" y="520.1" width="0.9" height="0.9"/><circle cx="254.6" cy="489.6" r="0.48"/><circle cx="249.6" cy="504.7" r="0.44"/><rect x="248.7" y="516.9" width="1.0" height="1.0"/><rect x="251.4" y="487.9" width="0.9" height="0.9"/><rect x="242.0" y="505.0" width="0.9" height="0.9"/><circle cx="253.8" cy="475.6" r="0.50"/><rect x="240.1" y="511.7" width="1.1" height="1.1"/><circle cx="246.8" cy="512.1" r="0.41"/><circle cx="243.8" cy="486.5" r="0.83"/><circle cx="240.3" cy="512.9" r="0.49"/><circle cx="250.0" cy="472.2" r="0.82"/><rect x="238.8" y="525.6" width="1.5" height="1.5"/><circle cx="254.7" cy="549.7" r="0.55"/><circle cx="252.7" cy="500.4" r="0.93"/><circle cx="237.9" cy="473.0" r="0.63"/><rect x="250.0" y="554.7" width="1.5" height="1.5"/><rect x="242.6" y="480.8" width="0.7" height="0.7"/><rect x="238.0" y="471.0" width="1.2" height="1.2"/><rect x="248.4" y="470.1" width="0.7" height="0.7"/><circle cx="251.6" cy="492.6" r="0.94"/><circle cx="240.5" cy="552.1" r="0.43"/><circle cx="241.2" cy="522.5" r="0.67"/><rect x="250.4" y="474.1" width="1.5" height="1.5"/><rect x="241.8" y="518.5" width="0.9" height="0.9"/><circle cx="244.0" cy="483.5" r="0.67"/><rect x="257.9" y="535.9" width="0.8" height="0.8"/><rect x="241.1" y="479.5" width="1.0" height="1.0"/><circle cx="238.9" cy="549.4" r="0.54"/><rect x="247.5" y="546.6" width="1.0" height="1.0"/><circle cx="257.7" cy="512.3" r="0.59"/><circle cx="248.2" cy="521.7" r="0.73"/><rect x="237.8" y="552.1" width="1.2" height="1.2"/><rect x="254.8" y="503.0" width="0.8" height="0.8"/><rect x="255.9" y="470.4" width="1.2" height="1.2"/><circle cx="238.0" cy="516.0" r="0.76"/><circle cx="242.7" cy="544.9" r="0.77"/><rect x="253.5" y="547.0" width="1.0" height="1.0"/><rect x="239.4" y="476.4" width="1.4" height="1.4"/><circle cx="256.6" cy="477.9" r="0.79"/><circle cx="241.9" cy="545.5" r="0.45"/><rect x="244.7" y="477.7" width="1.0" height="1.0"/><circle cx="248.1" cy="548.0" r="0.67"/><circle cx="248.7" cy="466.5" r="0.76"/><circle cx="247.5" cy="504.2" r="0.91"/><circle cx="243.3" cy="494.2" r="0.69"/><rect x="257.6" y="548.5" width="1.5" height="1.5"/><circle cx="253.8" cy="514.4" r="0.51"/><circle cx="241.4" cy="534.1" r="0.77"/><circle cx="243.5" cy="471.1" r="0.69"/><circle cx="247.4" cy="498.0" r="0.62"/><rect x="253.6" y="470.6" width="1.3" height="1.3"/><rect x="253.7" y="478.6" width="0.9" height="0.9"/><circle cx="257.2" cy="489.2" r="0.61"/><circle cx="244.2" cy="550.5" r="0.68"/><rect x="256.0" y="522.1" width="1.5" height="1.5"/><rect x="246.6" y="471.5" width="1.1" height="1.1"/><rect x="250.2" y="541.3" width="1.0" height="1.0"/><circle cx="254.4" cy="550.6" r="0.85"/><rect x="254.4" y="525.6" width="0.9" height="0.9"/><circle cx="253.8" cy="537.7" r="0.53"/><rect x="251.1" y="480.0" width="1.3" height="1.3"/><circle cx="249.4" cy="551.2" r="0.57"/><circle cx="257.4" cy="520.3" r="0.40"/><circle cx="244.0" cy="539.6" r="0.94"/><circle cx="251.4" cy="542.1" r="0.46"/><rect x="238.2" y="496.6" width="1.2" height="1.2"/><circle cx="243.1" cy="524.2" r="0.70"/><circle cx="247.9" cy="537.2" r="0.83"/><circle cx="253.8" cy="504.3" r="0.66"/><circle cx="247.7" cy="469.6" r="0.87"/><circle cx="244.9" cy="542.2" r="0.78"/><circle cx="255.2" cy="518.6" r="0.87"/><rect x="253.6" y="550.5" width="1.0" height="1.0"/><circle cx="257.5" cy="518.1" r="0.82"/><circle cx="239.8" cy="539.2" r="0.82"/><rect x="253.8" y="477.4" width="1.4" height="1.4"/><rect x="248.4" y="491.5" width="1.3" height="1.3"/><rect x="240.7" y="507.2" width="1.2" height="1.2"/><rect x="237.8" y="537.4" width="1.2" height="1.2"/><rect x="240.1" y="502.0" width="1.2" height="1.2"/><rect x="246.0" y="549.7" width="1.1" height="1.1"/><circle cx="257.5" cy="471.6" r="0.51"/><circle cx="248.4" cy="529.2" r="0.73"/><circle cx="241.1" cy="503.8" r="0.95"/><rect x="241.1" y="513.4" width="0.8" height="0.8"/><rect x="247.3" y="471.4" width="1.1" height="1.1"/><circle cx="249.5" cy="485.0" r="0.92"/><rect x="238.0" y="486.5" width="1.4" height="1.4"/><circle cx="251.0" cy="497.9" r="0.60"/><rect x="241.3" y="518.4" width="0.9" height="0.9"/><circle cx="253.5" cy="481.6" r="0.91"/><rect x="256.5" y="504.9" width="1.4" height="1.4"/><rect x="246.2" y="496.9" width="1.1" height="1.1"/><rect x="240.0" y="507.9" width="1.1" height="1.1"/><circle cx="240.9" cy="481.9" r="0.45"/><rect x="246.1" y="497.0" width="0.7" height="0.7"/><circle cx="238.6" cy="526.4" r="0.52"/><circle cx="245.7" cy="510.3" r="0.46"/><rect x="239.4" y="528.3" width="0.7" height="0.7"/><rect x="243.1" y="474.1" width="1.4" height="1.4"/><circle cx="240.4" cy="487.5" r="0.81"/><circle cx="252.8" cy="515.4" r="0.70"/><circle cx="248.4" cy="544.0" r="0.45"/><circle cx="247.5" cy="465.7" r="0.56"/><circle cx="251.2" cy="526.3" r="0.75"/><circle cx="253.9" cy="539.3" r="0.78"/><rect x="241.4" y="539.3" width="0.8" height="0.8"/><circle cx="256.4" cy="492.4" r="0.64"/><rect x="248.8" y="496.4" width="0.8" height="0.8"/><circle cx="245.3" cy="550.0" r="0.64"/><circle cx="241.8" cy="501.9" r="0.94"/><rect x="239.8" y="497.6" width="1.0" height="1.0"/><circle cx="240.4" cy="491.8" r="0.46"/><circle cx="247.8" cy="536.3" r="0.47"/><rect x="240.2" y="500.0" width="1.4" height="1.4"/><circle cx="247.2" cy="546.8" r="0.57"/><rect x="242.3" y="511.1" width="0.8" height="0.8"/><circle cx="253.5" cy="528.4" r="0.76"/><rect x="244.1" y="522.7" width="1.0" height="1.0"/><rect x="241.4" y="517.7" width="1.4" height="1.4"/><circle cx="243.6" cy="491.4" r="0.58"/><circle cx="254.3" cy="473.0" r="0.73"/><circle cx="248.5" cy="529.4" r="0.64"/><rect x="249.7" y="493.8" width="1.1" height="1.1"/><rect x="244.1" y="513.3" width="1.1" height="1.1"/><circle cx="243.6" cy="484.2" r="0.87"/><circle cx="240.2" cy="464.4" r="0.91"/><rect x="251.9" y="494.3" width="1.2" height="1.2"/><rect x="243.4" y="499.1" width="1.4" height="1.4"/><circle cx="240.3" cy="540.6" r="0.63"/><circle cx="248.6" cy="540.5" r="0.73"/><circle cx="249.1" cy="472.0" r="0.45"/><rect x="248.6" y="513.3" width="1.0" height="1.0"/><circle cx="241.9" cy="554.8" r="0.50"/><circle cx="250.3" cy="474.1" r="0.94"/><rect x="252.4" y="470.4" width="1.1" height="1.1"/><circle cx="250.2" cy="484.2" r="0.91"/><circle cx="241.2" cy="510.8" r="0.75"/><circle cx="248.5" cy="513.2" r="0.52"/><circle cx="242.0" cy="546.6" r="0.76"/><rect x="246.7" y="488.9" width="1.3" height="1.3"/><circle cx="243.2" cy="524.9" r="0.56"/><rect x="248.0" y="509.0" width="1.1" height="1.1"/><circle cx="248.8" cy="540.0" r="0.89"/><circle cx="248.4" cy="538.0" r="0.91"/><circle cx="242.6" cy="528.2" r="0.91"/><circle cx="243.5" cy="526.4" r="0.47"/><circle cx="244.8" cy="491.9" r="0.69"/><rect x="241.1" y="530.1" width="1.1" height="1.1"/><rect x="239.2" y="547.9" width="1.0" height="1.0"/><rect x="248.6" y="551.8" width="1.5" height="1.5"/><circle cx="245.7" cy="464.9" r="0.45"/><rect x="253.6" y="491.7" width="0.8" height="0.8"/><rect x="239.7" y="477.8" width="1.0" height="1.0"/><circle cx="244.2" cy="512.3" r="0.70"/><circle cx="243.3" cy="478.4" r="0.53"/><circle cx="245.9" cy="505.1" r="0.65"/><rect x="240.8" y="466.6" width="1.4" height="1.4"/><rect x="241.9" y="502.3" width="0.7" height="0.7"/><circle cx="255.0" cy="505.9" r="0.61"/><rect x="254.6" y="478.8" width="1.0" height="1.0"/><rect x="256.0" y="470.8" width="0.9" height="0.9"/><circle cx="252.7" cy="494.9" r="0.72"/><rect x="255.7" y="545.6" width="1.5" height="1.5"/><rect x="250.9" y="528.9" width="0.8" height="0.8"/><circle cx="247.5" cy="505.2" r="0.56"/><circle cx="246.3" cy="544.5" r="0.95"/><rect x="248.6" y="538.2" width="0.9" height="0.9"/><rect x="248.3" y="475.1" width="0.9" height="0.9"/><circle cx="257.2" cy="495.2" r="0.62"/><circle cx="240.2" cy="464.9" r="0.85"/><circle cx="252.7" cy="540.1" r="0.87"/><circle cx="247.9" cy="465.9" r="0.46"/><circle cx="247.0" cy="497.9" r="0.48"/><circle cx="251.5" cy="494.5" r="0.78"/><circle cx="253.7" cy="527.6" r="0.66"/><rect x="243.6" y="484.6" width="0.7" height="0.7"/><rect x="252.5" y="502.9" width="1.1" height="1.1"/><rect x="243.3" y="502.5" width="1.4" height="1.4"/><circle cx="240.8" cy="501.2" r="0.71"/><rect x="253.5" y="538.0" width="0.7" height="0.7"/><rect x="237.5" y="509.6" width="0.6" height="0.6"/><circle cx="239.4" cy="469.1" r="0.79"/><rect x="244.8" y="468.0" width="0.9" height="3.2"/><rect x="242.3" y="502.1" width="0.9" height="3.4"/><rect x="248.8" y="529.7" width="0.9" height="3.6"/><rect x="241.3" y="489.8" width="0.9" height="2.4"/><rect x="253.9" y="519.1" width="0.9" height="2.4"/><rect x="242.3" y="474.0" width="0.9" height="2.9"/><rect x="242.5" y="501.4" width="0.9" height="3.1"/><rect x="251.8" y="512.5" width="0.9" height="2.9"/><rect x="243.1" y="528.9" width="0.9" height="2.3"/><rect x="242.0" y="492.6" width="0.9" height="4.0"/><rect x="240.9" y="539.2" width="0.9" height="3.8"/><rect x="256.5" y="550.1" width="0.9" height="3.4"/><rect x="240.4" y="482.5" width="0.9" height="3.5"/><rect x="252.2" y="512.2" width="0.9" height="2.6"/></g><line x1="258.0" y1="464.4" x2="258.0" y2="555.5" stroke="#000" stroke-width="1.0" /><line x1="237.0" y1="464.4" x2="258.0" y2="464.4" stroke="#000" stroke-width="1.0" /><path d="M257.5,466 L260.5,472 L257.5,472 Z" fill="#000"/><line x1="248.6" y1="511.0" x2="248.6" y2="555.0" stroke="#000" stroke-width="1.1" /><line x1="60.0" y1="555.5" x2="270.0" y2="555.5" stroke="#000" stroke-width="1.0" /><line x1="78.6" y1="555.5" x2="78.6" y2="566.0" stroke="#000" stroke-width="1.0" /><rect x="316.5" y="352.7" width="10" height="42.5" rx="1.5" fill="#fff" stroke="#000" stroke-width="1.2"/><rect x="317.9" y="355.0" width="2.6" height="2.4" fill="#333" /><rect x="322.5" y="355.0" width="2.6" height="2.4" fill="#333" /><rect x="317.9" y="359.2" width="2.6" height="2.4" fill="#333" /><rect x="322.5" y="359.2" width="2.6" height="2.4" fill="#333" /><rect x="317.9" y="363.4" width="2.6" height="2.4" fill="#333" /><rect x="322.5" y="363.4" width="2.6" height="2.4" fill="#333" /><rect x="317.9" y="367.6" width="2.6" height="2.4" fill="#333" /><rect x="322.5" y="367.6" width="2.6" height="2.4" fill="#333" /><rect x="317.9" y="371.8" width="2.6" height="2.4" fill="#333" /><rect x="322.5" y="371.8" width="2.6" height="2.4" fill="#333" /><rect x="317.9" y="376.0" width="2.6" height="2.4" fill="#333" /><rect x="322.5" y="376.0" width="2.6" height="2.4" fill="#333" /><rect x="317.9" y="380.2" width="2.6" height="2.4" fill="#333" /><rect x="322.5" y="380.2" width="2.6" height="2.4" fill="#333" /><rect x="317.9" y="384.4" width="2.6" height="2.4" fill="#333" /><rect x="322.5" y="384.4" width="2.6" height="2.4" fill="#333" /><rect x="317.9" y="388.6" width="2.6" height="2.4" fill="#333" /><rect x="322.5" y="388.6" width="2.6" height="2.4" fill="#333" /><rect x="317.0" y="390.0" width="9.0" height="4.5" fill="#222" /><line x1="321.5" y1="344.0" x2="321.5" y2="475.0" stroke="#000" stroke-width="0.8" /><line x1="318.3" y1="395.0" x2="318.3" y2="440.0" stroke="#000" stroke-width="1.0" /><line x1="324.7" y1="395.0" x2="324.7" y2="440.0" stroke="#000" stroke-width="1.0" /><line x1="320.3" y1="397.0" x2="320.3" y2="438.0" stroke="#555" stroke-width="0.6" /><line x1="322.7" y1="397.0" x2="322.7" y2="438.0" stroke="#555" stroke-width="0.6" /><rect x="317.5" y="439.5" width="8.0" height="3.0" fill="#000" /><path d="M314.5,462.8 L314.5,450 C314.5,447 317.5,445.5 318.0,442.5 L325.0,442.5 C325.5,445.5 328.5,447 328.5,450 L328.5,462.8 Z" fill="#fff" stroke="#000" stroke-width="1.2"/><line x1="318.0" y1="446.0" x2="318.0" y2="462.8" stroke="#000" stroke-width="0.8" /><line x1="325.0" y1="446.0" x2="325.0" y2="462.8" stroke="#000" stroke-width="0.8" /><rect x="459.8" y="352.7" width="10" height="42.5" rx="1.5" fill="#fff" stroke="#000" stroke-width="1.2"/><rect x="461.2" y="355.0" width="2.6" height="2.4" fill="#333" /><rect x="465.8" y="355.0" width="2.6" height="2.4" fill="#333" /><rect x="461.2" y="359.2" width="2.6" height="2.4" fill="#333" /><rect x="465.8" y="359.2" width="2.6" height="2.4" fill="#333" /><rect x="461.2" y="363.4" width="2.6" height="2.4" fill="#333" /><rect x="465.8" y="363.4" width="2.6" height="2.4" fill="#333" /><rect x="461.2" y="367.6" width="2.6" height="2.4" fill="#333" /><rect x="465.8" y="367.6" width="2.6" height="2.4" fill="#333" /><rect x="461.2" y="371.8" width="2.6" height="2.4" fill="#333" /><rect x="465.8" y="371.8" width="2.6" height="2.4" fill="#333" /><rect x="461.2" y="376.0" width="2.6" height="2.4" fill="#333" /><rect x="465.8" y="376.0" width="2.6" height="2.4" fill="#333" /><rect x="461.2" y="380.2" width="2.6" height="2.4" fill="#333" /><rect x="465.8" y="380.2" width="2.6" height="2.4" fill="#333" /><rect x="461.2" y="384.4" width="2.6" height="2.4" fill="#333" /><rect x="465.8" y="384.4" width="2.6" height="2.4" fill="#333" /><rect x="461.2" y="388.6" width="2.6" height="2.4" fill="#333" /><rect x="465.8" y="388.6" width="2.6" height="2.4" fill="#333" /><rect x="460.3" y="390.0" width="9.0" height="4.5" fill="#222" /><line x1="464.8" y1="344.0" x2="464.8" y2="475.0" stroke="#000" stroke-width="0.8" /><line x1="461.6" y1="395.0" x2="461.6" y2="440.0" stroke="#000" stroke-width="1.0" /><line x1="468.0" y1="395.0" x2="468.0" y2="440.0" stroke="#000" stroke-width="1.0" /><line x1="463.6" y1="397.0" x2="463.6" y2="438.0" stroke="#555" stroke-width="0.6" /><line x1="466.0" y1="397.0" x2="466.0" y2="438.0" stroke="#555" stroke-width="0.6" /><rect x="460.8" y="439.5" width="8.0" height="3.0" fill="#000" /><path d="M457.8,462.8 L457.8,450 C457.8,447 460.8,445.5 461.3,442.5 L468.3,442.5 C468.8,445.5 471.8,447 471.8,450 L471.8,462.8 Z" fill="#fff" stroke="#000" stroke-width="1.2"/><line x1="461.3" y1="446.0" x2="461.3" y2="462.8" stroke="#000" stroke-width="0.8" /><line x1="468.3" y1="446.0" x2="468.3" y2="462.8" stroke="#000" stroke-width="0.8" /><rect x="293.3" y="461.6" width="56.2" height="2.6" fill="#ccc" stroke="#000" stroke-width="0.8"/><rect x="436.5" y="461.6" width="55.5" height="2.6" fill="#ccc" stroke="#000" stroke-width="0.8"/><polygon points="82.5,125.6 84.5,121.0 86.5,121.0 88.5,121.0 90.5,121.0 92.5,120.1 94.5,119.6 96.5,119.4 98.5,119.6 100.5,120.1 102.5,121.0 104.5,121.0 106.5,120.1 108.5,119.6 110.5,119.4 112.5,119.6 114.5,120.1 116.5,121.0 118.5,121.0 120.5,120.1 122.5,119.6 124.5,119.4 126.5,119.6 128.5,120.1 130.5,120.9 132.5,121.0 134.5,120.1 136.5,119.6 138.5,119.4 140.5,119.6 142.5,120.1 144.5,120.9 146.5,121.0 148.5,121.0 150.5,121.0 152.5,121.0 154.5,121.0 156.5,121.0 158.5,121.0 160.5,121.0 162.5,121.0 163.5,121.0 163.5,130.2 162.5,130.2 160.5,130.2 158.5,130.2 156.5,130.2 154.5,130.2 152.5,130.2 150.5,130.2 148.5,130.2 146.5,130.2 144.5,130.3 142.5,131.1 140.5,131.6 138.5,131.8 136.5,131.6 134.5,131.1 132.5,130.2 130.5,130.3 128.5,131.1 126.5,131.6 124.5,131.8 122.5,131.6 120.5,131.1 118.5,130.2 116.5,130.2 114.5,131.1 112.5,131.6 110.5,131.8 108.5,131.6 106.5,131.1 104.5,130.2 102.5,130.2 100.5,131.1 98.5,131.6 96.5,131.8 94.5,131.6 92.5,131.1 90.5,130.2 88.5,130.2 86.5,130.2 84.5,130.2" fill="#fff" stroke="#000" stroke-width="1.1"/><g clip-path="url(#c19)"><rect x="85.5" y="123.4" width="77.5" height="4.4" fill="#333"/><line x1="82.5" y1="122.2" x2="85.5" y2="129.0" stroke="#000" stroke-width="1.0"/><line x1="85.5" y1="122.2" x2="88.5" y2="129.0" stroke="#000" stroke-width="1.0"/><line x1="88.5" y1="122.2" x2="91.5" y2="129.0" stroke="#000" stroke-width="1.0"/><line x1="91.5" y1="122.2" x2="94.5" y2="129.0" stroke="#000" stroke-width="1.0"/><line x1="94.5" y1="122.2" x2="97.5" y2="129.0" stroke="#000" stroke-width="1.0"/><line x1="97.5" y1="122.2" x2="100.5" y2="129.0" stroke="#000" stroke-width="1.0"/><line x1="100.5" y1="122.2" x2="103.5" y2="129.0" stroke="#000" stroke-width="1.0"/><line x1="103.5" y1="122.2" x2="106.5" y2="129.0" stroke="#000" stroke-width="1.0"/><line x1="106.5" y1="122.2" x2="109.5" y2="129.0" stroke="#000" stroke-width="1.0"/><line x1="109.5" y1="122.2" x2="112.5" y2="129.0" stroke="#000" stroke-width="1.0"/><line x1="112.5" y1="122.2" x2="115.5" y2="129.0" stroke="#000" stroke-width="1.0"/><line x1="115.5" y1="122.2" x2="118.5" y2="129.0" stroke="#000" stroke-width="1.0"/><line x1="118.5" y1="122.2" x2="121.5" y2="129.0" stroke="#000" stroke-width="1.0"/><line x1="121.5" y1="122.2" x2="124.5" y2="129.0" stroke="#000" stroke-width="1.0"/><line x1="124.5" y1="122.2" x2="127.5" y2="129.0" stroke="#000" stroke-width="1.0"/><line x1="127.5" y1="122.2" x2="130.5" y2="129.0" stroke="#000" stroke-width="1.0"/><line x1="130.5" y1="122.2" x2="133.5" y2="129.0" stroke="#000" stroke-width="1.0"/><line x1="133.5" y1="122.2" x2="136.5" y2="129.0" stroke="#000" stroke-width="1.0"/><line x1="136.5" y1="122.2" x2="139.5" y2="129.0" stroke="#000" stroke-width="1.0"/><line x1="139.5" y1="122.2" x2="142.5" y2="129.0" stroke="#000" stroke-width="1.0"/><line x1="142.5" y1="122.2" x2="145.5" y2="129.0" stroke="#000" stroke-width="1.0"/><line x1="145.5" y1="122.2" x2="148.5" y2="129.0" stroke="#000" stroke-width="1.0"/><line x1="148.5" y1="122.2" x2="151.5" y2="129.0" stroke="#000" stroke-width="1.0"/><line x1="151.5" y1="122.2" x2="154.5" y2="129.0" stroke="#000" stroke-width="1.0"/><line x1="154.5" y1="122.2" x2="157.5" y2="129.0" stroke="#000" stroke-width="1.0"/><line x1="157.5" y1="122.2" x2="160.5" y2="129.0" stroke="#000" stroke-width="1.0"/><line x1="160.5" y1="122.2" x2="163.5" y2="129.0" stroke="#000" stroke-width="1.0"/><line x1="163.5" y1="122.2" x2="166.5" y2="129.0" stroke="#000" stroke-width="1.0"/><line x1="166.5" y1="122.2" x2="169.5" y2="129.0" stroke="#000" stroke-width="1.0"/><rect x="86.4" y="123.6" width="1.1" height="0.9" fill="#fff"/><rect x="96.1" y="123.6" width="1.0" height="0.9" fill="#fff"/><rect x="96.8" y="126.3" width="1.3" height="0.7" fill="#fff"/><rect x="126.5" y="125.0" width="1.1" height="1.0" fill="#fff"/><rect x="92.6" y="123.2" width="1.6" height="0.8" fill="#fff"/><rect x="100.7" y="124.5" width="1.1" height="1.0" fill="#fff"/><rect x="101.6" y="124.0" width="1.3" height="0.8" fill="#fff"/><rect x="158.5" y="126.7" width="1.1" height="0.7" fill="#fff"/><rect x="149.5" y="127.4" width="0.8" height="0.9" fill="#fff"/><rect x="151.9" y="125.9" width="1.0" height="0.9" fill="#fff"/><rect x="141.3" y="123.9" width="1.3" height="0.7" fill="#fff"/><rect x="88.7" y="124.5" width="1.1" height="0.8" fill="#fff"/><rect x="135.0" y="126.7" width="1.6" height="1.0" fill="#fff"/><rect x="161.5" y="126.5" width="1.0" height="0.7" fill="#fff"/><rect x="133.2" y="125.4" width="1.3" height="0.6" fill="#fff"/><rect x="100.2" y="127.1" width="1.3" height="0.9" fill="#fff"/><rect x="92.8" y="124.8" width="1.5" height="0.9" fill="#fff"/><rect x="161.4" y="123.9" width="1.2" height="0.9" fill="#fff"/><rect x="119.5" y="126.5" width="1.2" height="0.6" fill="#fff"/><rect x="93.1" y="127.3" width="0.9" height="0.7" fill="#fff"/><rect x="111.1" y="126.2" width="1.5" height="0.8" fill="#fff"/><rect x="123.6" y="126.5" width="1.0" height="0.7" fill="#fff"/><rect x="132.4" y="125.8" width="0.8" height="0.6" fill="#fff"/><rect x="96.1" y="126.2" width="1.4" height="1.0" fill="#fff"/><rect x="144.2" y="124.2" width="1.4" height="1.0" fill="#fff"/><rect x="112.2" y="123.1" width="1.1" height="0.7" fill="#fff"/><rect x="99.0" y="123.3" width="0.9" height="0.9" fill="#fff"/><rect x="89.3" y="125.7" width="1.0" height="0.7" fill="#fff"/><rect x="148.3" y="124.4" width="0.9" height="0.8" fill="#fff"/><rect x="138.7" y="125.4" width="1.5" height="0.8" fill="#fff"/><rect x="125.6" y="126.2" width="1.2" height="0.9" fill="#fff"/><rect x="121.2" y="123.7" width="0.9" height="0.9" fill="#fff"/><rect x="142.5" y="127.2" width="1.4" height="0.8" fill="#fff"/><rect x="98.2" y="126.8" width="0.9" height="0.8" fill="#fff"/><rect x="96.3" y="124.7" width="1.0" height="0.8" fill="#fff"/></g><rect x="169.5" y="122.0" width="71" height="7.2" fill="#333"/><line x1="170.0" y1="122.2" x2="172.5" y2="129.0" stroke="#bbb" stroke-width="0.6"/><line x1="172.6" y1="122.2" x2="175.1" y2="129.0" stroke="#bbb" stroke-width="0.6"/><line x1="175.2" y1="122.2" x2="177.7" y2="129.0" stroke="#bbb" stroke-width="0.6"/><line x1="177.8" y1="122.2" x2="180.3" y2="129.0" stroke="#bbb" stroke-width="0.6"/><line x1="180.4" y1="122.2" x2="182.9" y2="129.0" stroke="#bbb" stroke-width="0.6"/><line x1="183.0" y1="122.2" x2="185.5" y2="129.0" stroke="#bbb" stroke-width="0.6"/><line x1="185.6" y1="122.2" x2="188.1" y2="129.0" stroke="#bbb" stroke-width="0.6"/><line x1="188.2" y1="122.2" x2="190.7" y2="129.0" stroke="#bbb" stroke-width="0.6"/><line x1="190.8" y1="122.2" x2="193.3" y2="129.0" stroke="#bbb" stroke-width="0.6"/><line x1="193.4" y1="122.2" x2="195.9" y2="129.0" stroke="#bbb" stroke-width="0.6"/><line x1="196.0" y1="122.2" x2="198.5" y2="129.0" stroke="#bbb" stroke-width="0.6"/><line x1="198.6" y1="122.2" x2="201.1" y2="129.0" stroke="#bbb" stroke-width="0.6"/><line x1="201.2" y1="122.2" x2="203.7" y2="129.0" stroke="#bbb" stroke-width="0.6"/><line x1="203.8" y1="122.2" x2="206.3" y2="129.0" stroke="#bbb" stroke-width="0.6"/><line x1="206.4" y1="122.2" x2="208.9" y2="129.0" stroke="#bbb" stroke-width="0.6"/><line x1="209.0" y1="122.2" x2="211.5" y2="129.0" stroke="#bbb" stroke-width="0.6"/><line x1="211.6" y1="122.2" x2="214.1" y2="129.0" stroke="#bbb" stroke-width="0.6"/><line x1="214.2" y1="122.2" x2="216.7" y2="129.0" stroke="#bbb" stroke-width="0.6"/><line x1="216.8" y1="122.2" x2="219.3" y2="129.0" stroke="#bbb" stroke-width="0.6"/><line x1="219.4" y1="122.2" x2="221.9" y2="129.0" stroke="#bbb" stroke-width="0.6"/><line x1="222.0" y1="122.2" x2="224.5" y2="129.0" stroke="#bbb" stroke-width="0.6"/><line x1="224.6" y1="122.2" x2="227.1" y2="129.0" stroke="#bbb" stroke-width="0.6"/><line x1="227.2" y1="122.2" x2="229.7" y2="129.0" stroke="#bbb" stroke-width="0.6"/><line x1="229.8" y1="122.2" x2="232.3" y2="129.0" stroke="#bbb" stroke-width="0.6"/><line x1="232.4" y1="122.2" x2="234.9" y2="129.0" stroke="#bbb" stroke-width="0.6"/><line x1="235.0" y1="122.2" x2="237.5" y2="129.0" stroke="#bbb" stroke-width="0.6"/><line x1="237.6" y1="122.2" x2="240.1" y2="129.0" stroke="#bbb" stroke-width="0.6"/><rect x="219.1" y="125.5" width="1.0" height="1.0" fill="#fff"/><rect x="220.7" y="127.2" width="0.8" height="0.9" fill="#fff"/><rect x="231.8" y="123.9" width="1.0" height="1.0" fill="#fff"/><rect x="195.1" y="124.7" width="1.5" height="0.8" fill="#fff"/><rect x="183.7" y="123.6" width="1.1" height="0.9" fill="#fff"/><rect x="195.4" y="126.9" width="0.9" height="0.7" fill="#fff"/><rect x="213.1" y="125.2" width="1.2" height="1.1" fill="#fff"/><rect x="189.1" y="123.5" width="0.8" height="0.8" fill="#fff"/><rect x="190.5" y="125.1" width="0.8" height="0.6" fill="#fff"/><rect x="196.2" y="126.8" width="1.0" height="1.1" fill="#fff"/><rect x="210.0" y="124.7" width="1.4" height="0.7" fill="#fff"/><rect x="211.8" y="127.3" width="1.2" height="0.8" fill="#fff"/><rect x="176.6" y="125.7" width="1.0" height="0.8" fill="#fff"/><rect x="207.4" y="127.9" width="1.3" height="0.9" fill="#fff"/><rect x="229.2" y="124.2" width="1.1" height="0.9" fill="#fff"/><rect x="208.2" y="123.7" width="1.1" height="1.0" fill="#fff"/><rect x="186.7" y="126.5" width="0.8" height="1.1" fill="#fff"/><rect x="217.2" y="124.3" width="1.6" height="1.0" fill="#fff"/><rect x="174.3" y="123.8" width="1.2" height="1.1" fill="#fff"/><rect x="179.7" y="122.7" width="1.1" height="0.6" fill="#fff"/><rect x="198.2" y="125.5" width="1.2" height="0.7" fill="#fff"/><rect x="171.6" y="127.1" width="1.2" height="0.8" fill="#fff"/><rect x="203.0" y="126.4" width="1.5" height="1.0" fill="#fff"/><rect x="220.2" y="124.4" width="0.9" height="0.6" fill="#fff"/><rect x="229.3" y="122.7" width="1.3" height="1.1" fill="#fff"/><rect x="192.2" y="124.7" width="1.1" height="1.1" fill="#fff"/><rect x="217.2" y="127.3" width="0.8" height="1.0" fill="#fff"/><rect x="201.1" y="124.7" width="1.5" height="1.0" fill="#fff"/><rect x="232.8" y="126.7" width="1.5" height="0.8" fill="#fff"/><rect x="208.4" y="127.0" width="1.2" height="0.7" fill="#fff"/><rect x="210.4" y="127.5" width="1.5" height="0.7" fill="#fff"/><rect x="196.3" y="123.7" width="1.1" height="1.1" fill="#fff"/><rect x="199.1" y="124.2" width="1.0" height="0.8" fill="#fff"/><rect x="216.2" y="124.4" width="0.9" height="0.7" fill="#fff"/><rect x="187.9" y="127.7" width="0.9" height="1.0" fill="#fff"/><rect x="177.5" y="127.0" width="1.0" height="1.0" fill="#fff"/><rect x="199.8" y="122.9" width="0.9" height="1.0" fill="#fff"/><rect x="207.4" y="125.2" width="1.1" height="0.9" fill="#fff"/><rect x="203.3" y="122.8" width="1.3" height="0.8" fill="#fff"/><rect x="228.4" y="125.6" width="1.4" height="0.7" fill="#fff"/><rect x="240.5" y="121.1" width="4.5" height="9" fill="#fff" stroke="#000" stroke-width="0.9"/><line x1="240.5" y1="125.6" x2="245.0" y2="125.6" stroke="#000" stroke-width="0.8" /><line x1="240.0" y1="125.6" x2="263.5" y2="125.6" stroke="#000" stroke-width="1.0" /><rect x="246.4" y="108.0" width="2.2" height="35.0" fill="#000" /><polygon points="83.3,529.6 85.3,525.0 87.3,525.0 89.3,525.0 91.3,524.6 93.3,523.9 95.3,523.5 97.3,523.4 99.3,523.7 101.3,524.4 103.3,525.0 105.3,524.6 107.3,523.9 109.3,523.5 111.3,523.4 113.3,523.7 115.3,524.4 117.3,525.0 119.3,524.6 121.3,523.9 123.3,523.5 125.3,523.4 127.3,523.7 129.3,524.4 131.3,525.0 133.3,524.6 135.3,523.9 137.3,523.5 139.3,523.4 141.3,523.7 143.3,524.4 145.3,525.0 147.3,525.0 149.3,525.0 151.3,525.0 153.3,525.0 155.3,525.0 157.3,525.0 159.3,525.0 161.3,525.0 163.3,525.0 163.5,525.0 163.5,534.2 163.3,534.2 161.3,534.2 159.3,534.2 157.3,534.2 155.3,534.2 153.3,534.2 151.3,534.2 149.3,534.2 147.3,534.2 145.3,534.2 143.3,534.8 141.3,535.5 139.3,535.8 137.3,535.7 135.3,535.3 133.3,534.6 131.3,534.2 129.3,534.8 127.3,535.5 125.3,535.8 123.3,535.7 121.3,535.3 119.3,534.6 117.3,534.2 115.3,534.8 113.3,535.5 111.3,535.8 109.3,535.7 107.3,535.3 105.3,534.6 103.3,534.2 101.3,534.8 99.3,535.5 97.3,535.8 95.3,535.7 93.3,535.3 91.3,534.6 89.3,534.2 87.3,534.2 85.3,534.2" fill="#fff" stroke="#000" stroke-width="1.1"/><g clip-path="url(#c20)"><rect x="86.3" y="527.4" width="76.7" height="4.4" fill="#777"/><line x1="83.3" y1="526.2" x2="86.3" y2="533.0" stroke="#000" stroke-width="1.0"/><line x1="86.3" y1="526.2" x2="89.3" y2="533.0" stroke="#000" stroke-width="1.0"/><line x1="89.3" y1="526.2" x2="92.3" y2="533.0" stroke="#000" stroke-width="1.0"/><line x1="92.3" y1="526.2" x2="95.3" y2="533.0" stroke="#000" stroke-width="1.0"/><line x1="95.3" y1="526.2" x2="98.3" y2="533.0" stroke="#000" stroke-width="1.0"/><line x1="98.3" y1="526.2" x2="101.3" y2="533.0" stroke="#000" stroke-width="1.0"/><line x1="101.3" y1="526.2" x2="104.3" y2="533.0" stroke="#000" stroke-width="1.0"/><line x1="104.3" y1="526.2" x2="107.3" y2="533.0" stroke="#000" stroke-width="1.0"/><line x1="107.3" y1="526.2" x2="110.3" y2="533.0" stroke="#000" stroke-width="1.0"/><line x1="110.3" y1="526.2" x2="113.3" y2="533.0" stroke="#000" stroke-width="1.0"/><line x1="113.3" y1="526.2" x2="116.3" y2="533.0" stroke="#000" stroke-width="1.0"/><line x1="116.3" y1="526.2" x2="119.3" y2="533.0" stroke="#000" stroke-width="1.0"/><line x1="119.3" y1="526.2" x2="122.3" y2="533.0" stroke="#000" stroke-width="1.0"/><line x1="122.3" y1="526.2" x2="125.3" y2="533.0" stroke="#000" stroke-width="1.0"/><line x1="125.3" y1="526.2" x2="128.3" y2="533.0" stroke="#000" stroke-width="1.0"/><line x1="128.3" y1="526.2" x2="131.3" y2="533.0" stroke="#000" stroke-width="1.0"/><line x1="131.3" y1="526.2" x2="134.3" y2="533.0" stroke="#000" stroke-width="1.0"/><line x1="134.3" y1="526.2" x2="137.3" y2="533.0" stroke="#000" stroke-width="1.0"/><line x1="137.3" y1="526.2" x2="140.3" y2="533.0" stroke="#000" stroke-width="1.0"/><line x1="140.3" y1="526.2" x2="143.3" y2="533.0" stroke="#000" stroke-width="1.0"/><line x1="143.3" y1="526.2" x2="146.3" y2="533.0" stroke="#000" stroke-width="1.0"/><line x1="146.3" y1="526.2" x2="149.3" y2="533.0" stroke="#000" stroke-width="1.0"/><line x1="149.3" y1="526.2" x2="152.3" y2="533.0" stroke="#000" stroke-width="1.0"/><line x1="152.3" y1="526.2" x2="155.3" y2="533.0" stroke="#000" stroke-width="1.0"/><line x1="155.3" y1="526.2" x2="158.3" y2="533.0" stroke="#000" stroke-width="1.0"/><line x1="158.3" y1="526.2" x2="161.3" y2="533.0" stroke="#000" stroke-width="1.0"/><line x1="161.3" y1="526.2" x2="164.3" y2="533.0" stroke="#000" stroke-width="1.0"/><line x1="164.3" y1="526.2" x2="167.3" y2="533.0" stroke="#000" stroke-width="1.0"/><rect x="137.9" y="527.5" width="1.3" height="0.9" fill="#fff"/><rect x="149.5" y="529.3" width="1.3" height="0.7" fill="#fff"/><rect x="126.3" y="527.6" width="1.3" height="0.8" fill="#fff"/><rect x="107.6" y="528.7" width="1.4" height="0.8" fill="#fff"/><rect x="158.9" y="531.3" width="1.5" height="0.6" fill="#fff"/><rect x="92.0" y="528.3" width="1.1" height="0.9" fill="#fff"/><rect x="148.9" y="529.5" width="1.3" height="0.8" fill="#fff"/><rect x="88.9" y="529.4" width="1.0" height="0.8" fill="#fff"/><rect x="87.0" y="529.9" width="1.5" height="0.6" fill="#fff"/><rect x="130.2" y="527.2" width="1.1" height="0.7" fill="#fff"/><rect x="151.4" y="530.2" width="1.5" height="0.7" fill="#fff"/><rect x="140.7" y="530.1" width="1.2" height="1.0" fill="#fff"/><rect x="133.6" y="528.3" width="1.4" height="0.8" fill="#fff"/><rect x="102.4" y="529.8" width="0.8" height="0.8" fill="#fff"/><rect x="128.4" y="527.1" width="1.3" height="0.6" fill="#fff"/><rect x="135.5" y="528.6" width="0.8" height="1.0" fill="#fff"/><rect x="91.2" y="527.8" width="1.2" height="0.7" fill="#fff"/><rect x="126.5" y="529.1" width="1.3" height="0.8" fill="#fff"/><rect x="108.6" y="528.0" width="1.4" height="0.8" fill="#fff"/><rect x="125.7" y="531.0" width="0.8" height="0.7" fill="#fff"/><rect x="128.9" y="527.3" width="1.4" height="0.8" fill="#fff"/><rect x="110.2" y="527.9" width="1.6" height="0.6" fill="#fff"/><rect x="148.5" y="530.1" width="1.5" height="0.9" fill="#fff"/><rect x="112.6" y="529.5" width="1.5" height="0.6" fill="#fff"/><rect x="150.6" y="530.0" width="1.0" height="1.0" fill="#fff"/><rect x="109.0" y="527.1" width="1.0" height="0.8" fill="#fff"/><rect x="88.4" y="529.6" width="1.2" height="0.7" fill="#fff"/><rect x="143.5" y="529.8" width="1.6" height="0.9" fill="#fff"/><rect x="151.4" y="531.1" width="1.5" height="0.8" fill="#fff"/><rect x="91.5" y="529.0" width="1.3" height="1.0" fill="#fff"/><rect x="135.8" y="529.6" width="0.9" height="0.9" fill="#fff"/><rect x="89.1" y="527.7" width="0.8" height="0.9" fill="#fff"/><rect x="157.6" y="529.7" width="0.9" height="0.9" fill="#fff"/><rect x="99.5" y="530.2" width="1.3" height="1.0" fill="#fff"/><rect x="98.8" y="528.1" width="1.1" height="0.6" fill="#fff"/></g><rect x="169.5" y="526.0" width="71" height="7.2" fill="#333"/><line x1="170.0" y1="526.2" x2="172.5" y2="533.0" stroke="#bbb" stroke-width="0.6"/><line x1="172.6" y1="526.2" x2="175.1" y2="533.0" stroke="#bbb" stroke-width="0.6"/><line x1="175.2" y1="526.2" x2="177.7" y2="533.0" stroke="#bbb" stroke-width="0.6"/><line x1="177.8" y1="526.2" x2="180.3" y2="533.0" stroke="#bbb" stroke-width="0.6"/><line x1="180.4" y1="526.2" x2="182.9" y2="533.0" stroke="#bbb" stroke-width="0.6"/><line x1="183.0" y1="526.2" x2="185.5" y2="533.0" stroke="#bbb" stroke-width="0.6"/><line x1="185.6" y1="526.2" x2="188.1" y2="533.0" stroke="#bbb" stroke-width="0.6"/><line x1="188.2" y1="526.2" x2="190.7" y2="533.0" stroke="#bbb" stroke-width="0.6"/><line x1="190.8" y1="526.2" x2="193.3" y2="533.0" stroke="#bbb" stroke-width="0.6"/><line x1="193.4" y1="526.2" x2="195.9" y2="533.0" stroke="#bbb" stroke-width="0.6"/><line x1="196.0" y1="526.2" x2="198.5" y2="533.0" stroke="#bbb" stroke-width="0.6"/><line x1="198.6" y1="526.2" x2="201.1" y2="533.0" stroke="#bbb" stroke-width="0.6"/><line x1="201.2" y1="526.2" x2="203.7" y2="533.0" stroke="#bbb" stroke-width="0.6"/><line x1="203.8" y1="526.2" x2="206.3" y2="533.0" stroke="#bbb" stroke-width="0.6"/><line x1="206.4" y1="526.2" x2="208.9" y2="533.0" stroke="#bbb" stroke-width="0.6"/><line x1="209.0" y1="526.2" x2="211.5" y2="533.0" stroke="#bbb" stroke-width="0.6"/><line x1="211.6" y1="526.2" x2="214.1" y2="533.0" stroke="#bbb" stroke-width="0.6"/><line x1="214.2" y1="526.2" x2="216.7" y2="533.0" stroke="#bbb" stroke-width="0.6"/><line x1="216.8" y1="526.2" x2="219.3" y2="533.0" stroke="#bbb" stroke-width="0.6"/><line x1="219.4" y1="526.2" x2="221.9" y2="533.0" stroke="#bbb" stroke-width="0.6"/><line x1="222.0" y1="526.2" x2="224.5" y2="533.0" stroke="#bbb" stroke-width="0.6"/><line x1="224.6" y1="526.2" x2="227.1" y2="533.0" stroke="#bbb" stroke-width="0.6"/><line x1="227.2" y1="526.2" x2="229.7" y2="533.0" stroke="#bbb" stroke-width="0.6"/><line x1="229.8" y1="526.2" x2="232.3" y2="533.0" stroke="#bbb" stroke-width="0.6"/><line x1="232.4" y1="526.2" x2="234.9" y2="533.0" stroke="#bbb" stroke-width="0.6"/><line x1="235.0" y1="526.2" x2="237.5" y2="533.0" stroke="#bbb" stroke-width="0.6"/><line x1="237.6" y1="526.2" x2="240.1" y2="533.0" stroke="#bbb" stroke-width="0.6"/><rect x="235.2" y="530.0" width="0.9" height="0.8" fill="#fff"/><rect x="176.8" y="532.0" width="1.1" height="0.6" fill="#fff"/><rect x="221.1" y="528.3" width="1.3" height="1.0" fill="#fff"/><rect x="175.2" y="529.6" width="1.6" height="0.7" fill="#fff"/><rect x="187.2" y="530.3" width="0.8" height="1.0" fill="#fff"/><rect x="225.3" y="531.9" width="1.5" height="0.9" fill="#fff"/><rect x="201.7" y="529.5" width="1.3" height="1.1" fill="#fff"/><rect x="180.5" y="529.3" width="1.2" height="0.7" fill="#fff"/><rect x="181.3" y="530.9" width="1.3" height="0.9" fill="#fff"/><rect x="187.8" y="529.2" width="0.9" height="0.7" fill="#fff"/><rect x="179.3" y="530.2" width="1.5" height="0.9" fill="#fff"/><rect x="223.8" y="526.9" width="1.2" height="0.7" fill="#fff"/><rect x="206.2" y="527.8" width="1.0" height="1.1" fill="#fff"/><rect x="207.8" y="527.8" width="1.2" height="0.7" fill="#fff"/><rect x="224.9" y="528.7" width="1.5" height="0.9" fill="#fff"/><rect x="215.0" y="529.9" width="1.3" height="0.6" fill="#fff"/><rect x="224.5" y="530.0" width="1.0" height="0.8" fill="#fff"/><rect x="235.6" y="530.2" width="1.2" height="0.9" fill="#fff"/><rect x="174.8" y="529.3" width="1.1" height="0.9" fill="#fff"/><rect x="195.0" y="527.2" width="1.5" height="0.7" fill="#fff"/><rect x="185.6" y="528.9" width="1.6" height="0.9" fill="#fff"/><rect x="179.8" y="527.0" width="1.2" height="0.6" fill="#fff"/><rect x="185.7" y="527.1" width="1.5" height="1.0" fill="#fff"/><rect x="230.0" y="530.2" width="0.8" height="0.7" fill="#fff"/><rect x="227.1" y="526.6" width="1.2" height="1.0" fill="#fff"/><rect x="187.7" y="528.4" width="1.3" height="0.9" fill="#fff"/><rect x="180.6" y="531.0" width="0.9" height="0.7" fill="#fff"/><rect x="191.7" y="527.6" width="1.2" height="0.8" fill="#fff"/><rect x="220.1" y="531.1" width="1.4" height="1.0" fill="#fff"/><rect x="187.4" y="530.2" width="1.4" height="1.0" fill="#fff"/><rect x="199.0" y="531.6" width="1.1" height="1.0" fill="#fff"/><rect x="216.3" y="526.8" width="1.5" height="1.0" fill="#fff"/><rect x="207.6" y="532.0" width="1.5" height="1.0" fill="#fff"/><rect x="222.7" y="530.6" width="0.9" height="0.9" fill="#fff"/><rect x="170.4" y="529.3" width="0.9" height="1.0" fill="#fff"/><rect x="233.1" y="527.6" width="1.2" height="0.7" fill="#fff"/><rect x="237.4" y="529.3" width="0.9" height="0.9" fill="#fff"/><rect x="202.2" y="529.4" width="1.2" height="0.7" fill="#fff"/><rect x="178.2" y="529.9" width="0.9" height="0.8" fill="#fff"/><rect x="209.0" y="531.0" width="0.9" height="0.8" fill="#fff"/><rect x="240.5" y="525.1" width="4.5" height="9" fill="#fff" stroke="#000" stroke-width="0.9"/><line x1="240.5" y1="529.6" x2="245.0" y2="529.6" stroke="#000" stroke-width="0.8" /><line x1="240.0" y1="529.6" x2="263.5" y2="529.6" stroke="#000" stroke-width="1.0" /><path d="M174.3,92.5 L174.3,108 M174.3,93 L178.5,100 L174.3,104" fill="none" stroke="#000" stroke-width="1.1"/><path d="M174.7,547 L174.7,563 M174.7,548 L178.8,554 L174.7,558" fill="none" stroke="#000" stroke-width="1.1"/><text x="159.5" y="70.5" font-family="Liberation Serif, serif" font-size="12.2" text-anchor="start" >1</text><line x1="152.0" y1="74.3" x2="169.3" y2="74.3" stroke="#000" stroke-width="1.0" /><line x1="152.0" y1="74.3" x2="124.7" y2="107.6" stroke="#000" stroke-width="0.95" /><text x="203.5" y="70.5" font-family="Liberation Serif, serif" font-size="12.2" text-anchor="start" >5</text><line x1="196.2" y1="74.3" x2="211.2" y2="74.3" stroke="#000" stroke-width="1.0" /><line x1="196.2" y1="74.3" x2="176.0" y2="96.0" stroke="#000" stroke-width="0.95" /><text x="233.5" y="70.5" font-family="Liberation Serif, serif" font-size="12.2" text-anchor="start" >4</text><line x1="227.4" y1="74.3" x2="244.5" y2="74.3" stroke="#000" stroke-width="1.0" /><line x1="227.4" y1="74.3" x2="200.0" y2="105.0" stroke="#000" stroke-width="0.95" /><text x="258.3" y="70.5" font-family="Liberation Serif, serif" font-size="12.2" textLength="16.4" lengthAdjust="spacingAndGlyphs">8<tspan dx="0.3">**</tspan></text><line x1="253.0" y1="74.3" x2="270.3" y2="74.3" stroke="#000" stroke-width="1.0" /><line x1="253.0" y1="74.3" x2="232.0" y2="103.0" stroke="#000" stroke-width="0.95" /><text x="306.2" y="120.6" font-family="Liberation Serif, serif" font-size="12.2" textLength="11.3" lengthAdjust="spacingAndGlyphs">7<tspan dx="0.3">*</tspan></text><line x1="301.3" y1="123.8" x2="315.6" y2="123.8" stroke="#000" stroke-width="1.0" /><line x1="301.3" y1="123.8" x2="251.6" y2="147.0" stroke="#000" stroke-width="0.95" /><text x="300.2" y="140.6" font-family="Liberation Serif, serif" font-size="12.2" textLength="16.2" lengthAdjust="spacingAndGlyphs">5<tspan dx="0.3">**</tspan></text><line x1="299.5" y1="143.8" x2="314.6" y2="143.8" stroke="#000" stroke-width="1.0" /><line x1="299.5" y1="143.8" x2="256.5" y2="163.6" stroke="#000" stroke-width="0.95" /><text x="303.8" y="161.8" font-family="Liberation Serif, serif" font-size="12.2" text-anchor="start" textLength="16.6" lengthAdjust="spacingAndGlyphs" >18б</text><line x1="299.2" y1="166.3" x2="324.8" y2="166.3" stroke="#000" stroke-width="1.0" /><line x1="299.2" y1="166.3" x2="263.0" y2="188.4" stroke="#000" stroke-width="0.95" /><line x1="299.2" y1="166.3" x2="277.5" y2="283.2" stroke="#000" stroke-width="0.95" stroke-dasharray="16 1.5"/><text x="346.4" y="239.6" font-family="Liberation Serif, serif" font-size="12.4" text-anchor="start" textLength="55.8" lengthAdjust="spacingAndGlyphs" >Системное</text><text x="409.0" y="239.6" font-family="Liberation Serif, serif" font-size="12.4" text-anchor="start" textLength="44.9" lengthAdjust="spacingAndGlyphs" >решение</text><text x="459.9" y="239.6" font-family="Liberation Serif, serif" font-size="12.4" text-anchor="start" textLength="43.5" lengthAdjust="spacingAndGlyphs" >«Ceresit»</text><line x1="336.5" y1="245.6" x2="512.5" y2="245.6" stroke="#000" stroke-width="1.0" /><line x1="336.5" y1="245.6" x2="336.5" y2="382.4" stroke="#000" stroke-width="1.0" /><text x="356.8" y="262.9" font-family="Liberation Serif, serif" font-size="12.2" text-anchor="start" textLength="10.6" lengthAdjust="spacingAndGlyphs" >23</text><line x1="350.4" y1="264.6" x2="366.5" y2="264.6" stroke="#000" stroke-width="1.0" /><line x1="350.4" y1="264.6" x2="328.0" y2="292.6" stroke="#000" stroke-width="0.95" /><text x="502.8" y="262.5" font-family="Liberation Serif, serif" font-size="12.2" text-anchor="start" textLength="10.6" lengthAdjust="spacingAndGlyphs" >33</text><line x1="495.5" y1="264.0" x2="513.6" y2="264.0" stroke="#000" stroke-width="1.0" /><line x1="495.5" y1="264.0" x2="433.0" y2="345.0" stroke="#000" stroke-width="0.95" /><rect x="476" y="297" width="8" height="9.6" fill="#fff" stroke="#000" stroke-width="1"/><g clip-path="url(#c21)" fill="#000"><circle cx="483.4" cy="306.1" r="0.80"/><circle cx="480.7" cy="301.1" r="0.62"/><circle cx="477.5" cy="301.3" r="0.46"/><circle cx="476.2" cy="297.8" r="0.71"/><circle cx="480.1" cy="304.0" r="0.53"/><rect x="482.3" y="302.7" width="1.1" height="1.1"/><circle cx="483.8" cy="300.5" r="0.73"/><circle cx="480.6" cy="303.3" r="0.51"/><circle cx="479.8" cy="303.9" r="0.65"/><circle cx="481.1" cy="298.7" r="0.44"/><circle cx="482.5" cy="298.9" r="0.41"/><rect x="476.3" y="299.6" width="1.0" height="1.0"/><circle cx="478.6" cy="300.5" r="0.49"/><circle cx="482.2" cy="302.3" r="0.48"/><circle cx="482.3" cy="303.8" r="0.76"/><rect x="480.4" y="305.8" width="1.0" height="1.0"/><circle cx="477.3" cy="306.4" r="0.38"/><rect x="476.2" y="304.8" width="1.1" height="1.1"/><rect x="482.4" y="306.1" width="1.0" height="1.0"/><circle cx="482.0" cy="300.3" r="0.84"/><circle cx="477.5" cy="297.7" r="0.58"/><circle cx="483.5" cy="306.1" r="0.46"/><rect x="480.2" y="298.6" width="1.0" height="1.0"/><circle cx="478.0" cy="301.0" r="0.80"/><rect x="478.7" y="305.6" width="1.2" height="1.2"/><rect x="481.5" y="301.0" width="1.1" height="1.1"/><circle cx="481.1" cy="299.3" r="0.50"/><rect x="482.2" y="302.3" width="1.0" height="1.0"/><rect x="476.9" y="303.1" width="0.8" height="0.8"/><circle cx="482.7" cy="299.4" r="0.83"/></g><text x="394.0" y="279.0" font-family="Liberation Serif, serif" font-size="12.2" text-anchor="start" textLength="39.5" lengthAdjust="spacingAndGlyphs" >2—2,5%</text><line x1="380.5" y1="282.2" x2="464.3" y2="284.0" stroke="#000" stroke-width="1.1" /><line x1="452.4" y1="278.0" x2="464.3" y2="284.0" stroke="#000" stroke-width="1.1" /><text x="298.3" y="497.9" font-family="Liberation Serif, serif" font-size="12.2" text-anchor="start" textLength="16.6" lengthAdjust="spacingAndGlyphs" >18б</text><line x1="292.6" y1="502.4" x2="316.8" y2="502.4" stroke="#000" stroke-width="1.0" /><line x1="292.6" y1="502.4" x2="259.6" y2="473.7" stroke="#000" stroke-width="0.95" /><text x="293.3" y="513.5" font-family="Liberation Serif, serif" font-size="12.2" text-anchor="start" >4</text><line x1="288.8" y1="516.2" x2="304.7" y2="516.2" stroke="#000" stroke-width="1.0" /><line x1="288.8" y1="516.2" x2="238.0" y2="472.0" stroke="#000" stroke-width="0.95" /><text x="294.0" y="530.9" font-family="Liberation Serif, serif" font-size="12.2" textLength="11.3" lengthAdjust="spacingAndGlyphs">7<tspan dx="0.3">*</tspan></text><line x1="288.8" y1="534.3" x2="304.7" y2="534.3" stroke="#000" stroke-width="1.0" /><line x1="288.8" y1="534.3" x2="247.8" y2="497.3" stroke="#000" stroke-width="0.95" /><text x="293.8" y="550.0" font-family="Liberation Serif, serif" font-size="12.2" textLength="16.4" lengthAdjust="spacingAndGlyphs">8<tspan dx="0.3">**</tspan></text><line x1="288.8" y1="554.3" x2="304.7" y2="554.3" stroke="#000" stroke-width="1.0" /><line x1="288.8" y1="554.3" x2="249.8" y2="516.0" stroke="#000" stroke-width="0.95" /><text x="293.8" y="567.9" font-family="Liberation Serif, serif" font-size="12.2" textLength="16.2" lengthAdjust="spacingAndGlyphs">5<tspan dx="0.3">**</tspan></text><line x1="288.8" y1="572.1" x2="304.7" y2="572.1" stroke="#000" stroke-width="1.0" /><line x1="288.8" y1="572.1" x2="254.7" y2="543.6" stroke="#000" stroke-width="0.95" /><text x="367.5" y="498.0" font-family="Liberation Serif, serif" font-size="12.2" text-anchor="start" >5</text><line x1="361.0" y1="500.5" x2="378.0" y2="500.5" stroke="#000" stroke-width="1.0" /><line x1="361.0" y1="500.5" x2="335.0" y2="474.7" stroke="#000" stroke-width="0.95" /><text x="407.6" y="498.0" font-family="Liberation Serif, serif" font-size="12.2" text-anchor="start" >7</text><line x1="399.0" y1="500.5" x2="417.5" y2="500.5" stroke="#000" stroke-width="1.0" /><line x1="399.0" y1="500.5" x2="368.0" y2="468.0" stroke="#000" stroke-width="0.95" /><text x="454.0" y="498.0" font-family="Liberation Serif, serif" font-size="12.2" text-anchor="start" >9</text><line x1="447.0" y1="500.5" x2="462.0" y2="500.5" stroke="#000" stroke-width="1.0" /><line x1="447.0" y1="500.5" x2="396.0" y2="453.0" stroke="#000" stroke-width="0.95" /><text x="501.5" y="498.0" font-family="Liberation Serif, serif" font-size="12.2" text-anchor="start" >8</text><line x1="495.0" y1="500.5" x2="511.7" y2="500.5" stroke="#000" stroke-width="1.0" /><line x1="495.0" y1="500.5" x2="455.5" y2="463.0" stroke="#000" stroke-width="0.95" /><line x1="169.3" y1="555.5" x2="169.3" y2="586.0" stroke="#000" stroke-width="0.9" /><line x1="238.0" y1="555.5" x2="238.0" y2="586.0" stroke="#000" stroke-width="0.9" /><line x1="258.6" y1="555.5" x2="258.6" y2="586.0" stroke="#000" stroke-width="0.9" /><line x1="166.0" y1="583.0" x2="281.4" y2="583.0" stroke="#000" stroke-width="1.0" /><line x1="166.8" y1="585.5" x2="171.8" y2="580.5" stroke="#000" stroke-width="1.1" /><line x1="235.5" y1="585.5" x2="240.5" y2="580.5" stroke="#000" stroke-width="1.1" /><line x1="256.1" y1="585.5" x2="261.1" y2="580.5" stroke="#000" stroke-width="1.1" /><text x="194.6" y="576.3" font-family="Liberation Serif, serif" font-size="12.5" text-anchor="start" >δ</text><text x="202.3" y="580.0" font-family="Liberation Serif, serif" font-size="7.5" text-anchor="start" >ут</text><text x="261.4" y="580.0" font-family="Liberation Serif, serif" font-size="12.5" text-anchor="start" textLength="20.5" lengthAdjust="spacingAndGlyphs" >≤ 20</text><circle cx="6" cy="43" r="0.7" fill="#555"/><circle cx="9.5" cy="43" r="0.7" fill="#555"/><circle cx="13" cy="43.3" r="0.7" fill="#555"/><circle cx="63" cy="52.5" r="0.7" fill="#555"/><circle cx="70" cy="51.5" r="0.7" fill="#555"/><circle cx="548" cy="332" r="0.7" fill="#555"/><circle cx="8" cy="560" r="0.7" fill="#555"/><circle cx="135" cy="610" r="0.7" fill="#555"/><circle cx="600" cy="385" r="0.7" fill="#555"/></svg></body></html>
